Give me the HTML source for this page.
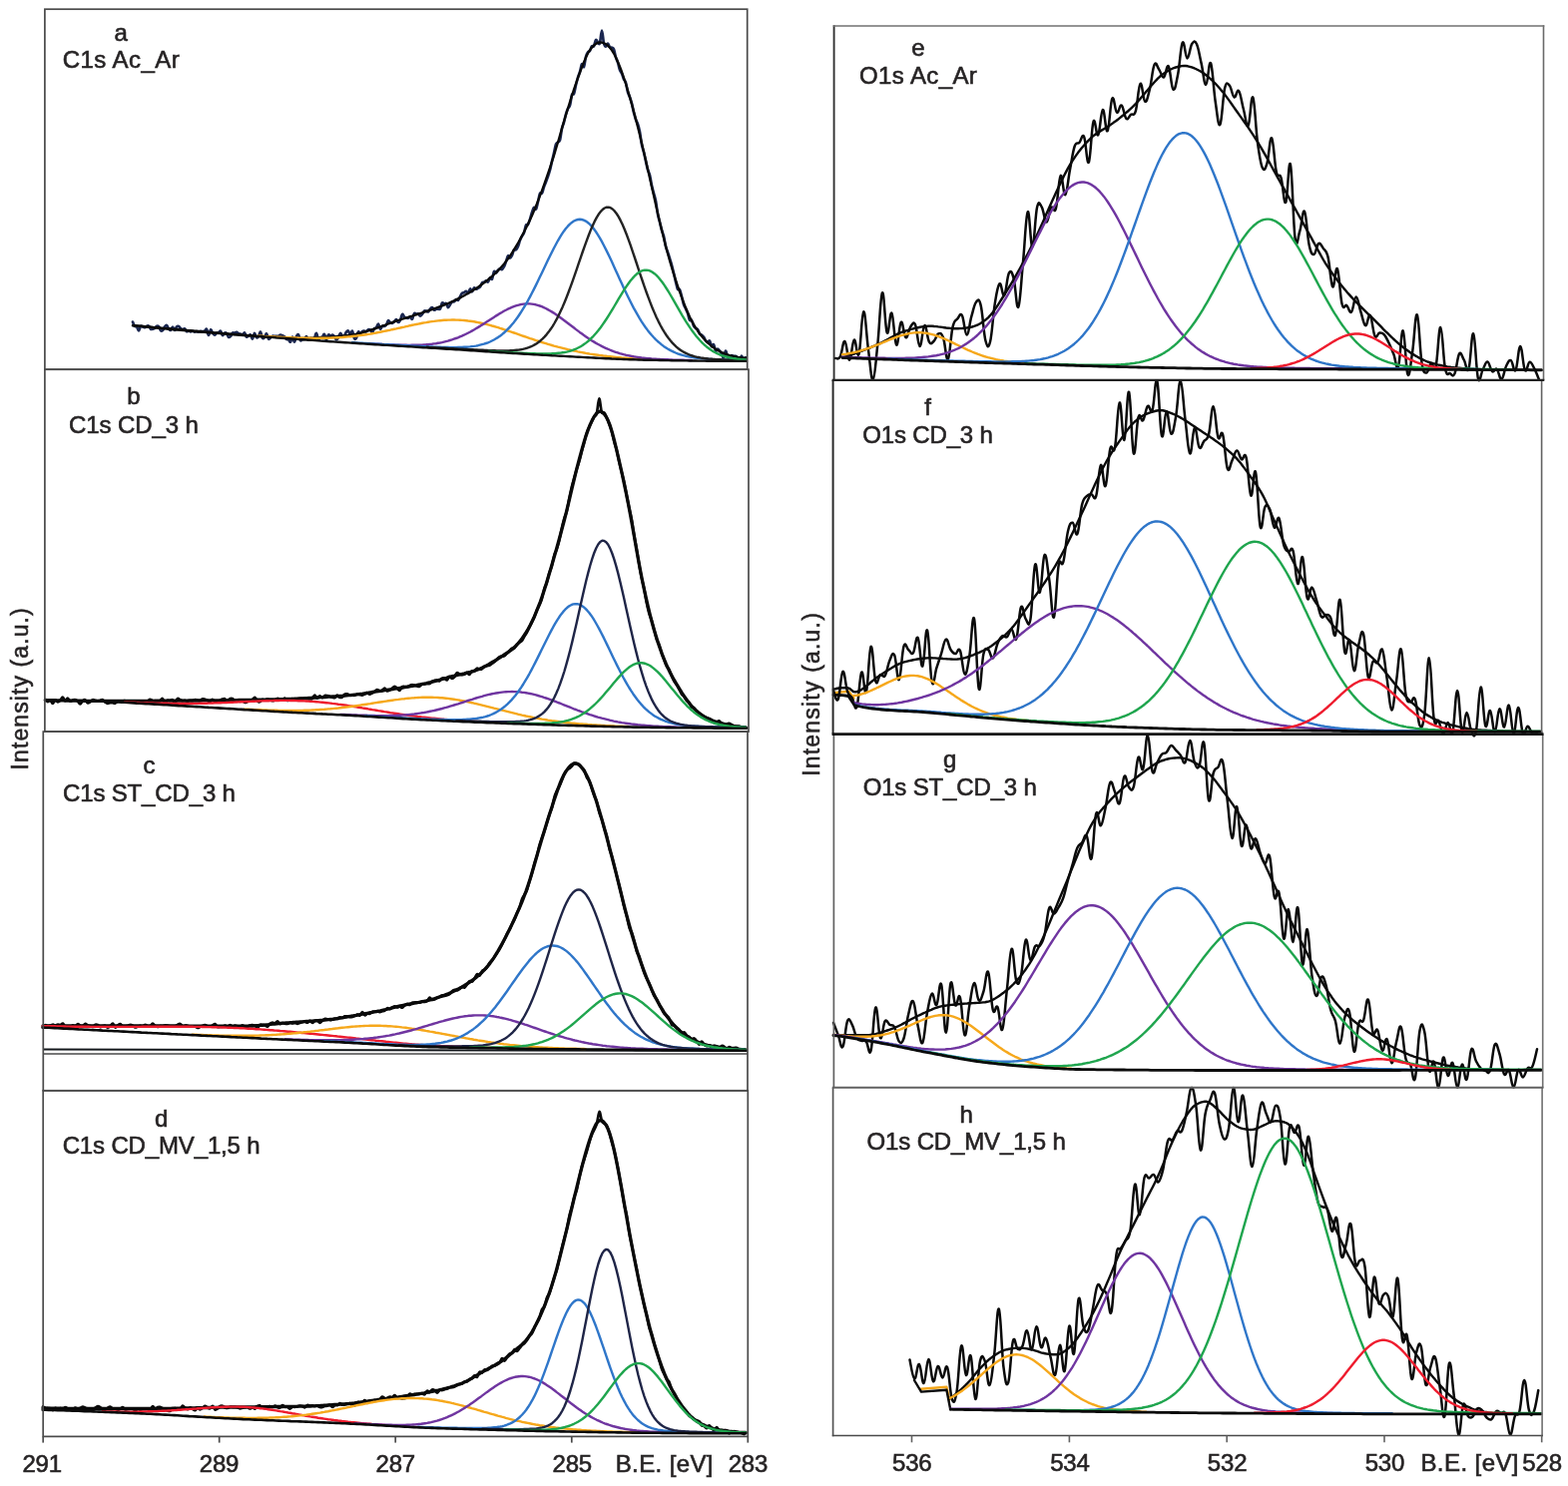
<!DOCTYPE html>
<html lang="en">
<head>
<meta charset="utf-8">
<title>XPS C1s and O1s spectra</title>
<style>
html,body{margin:0;padding:0;background:#fff;}
body{width:1571px;height:1489px;overflow:hidden;}
svg{display:block;font-family:"Liberation Sans",sans-serif;}
</style>
</head>
<body>
<svg width="1571" height="1489" viewBox="0 0 1571 1489" role="img" aria-label="XPS C1s and O1s spectra">
<rect x="0" y="0" width="1571" height="1489" fill="#ffffff"/>
<g>
<path d="M133 322.6C133.3 323.3 134.3 326 135 326.8C135.7 327.6 136.3 326.6 137 327.4C137.7 328.1 138.3 331.5 139 331.4C139.7 331.3 140.3 327.4 141 326.8C141.7 326.1 142.3 327.3 143 327.6C143.7 327.8 144.3 328.4 145 328.2C145.7 328.1 146.3 326.9 147 326.7C147.7 326.4 148.3 326.1 149 326.7C149.7 327.2 150.3 329.3 151 329.8C151.7 330.3 152.3 329.8 153 329.6C153.7 329.5 154.3 329.5 155 329C155.7 328.5 156.3 327.1 157 326.9C157.7 326.6 158.3 326.6 159 327.3C159.7 328 160.3 330.6 161 331.2C161.7 331.8 162.3 331.6 163 331C163.7 330.4 164.3 328.3 165 327.5C165.7 326.6 166.3 325.7 167 326C167.7 326.3 168.3 328.6 169 329.4C169.7 330.2 170.3 331.2 171 330.9C171.7 330.5 172.3 327.5 173 327.5C173.7 327.5 174.3 331 175 331C175.7 331 176.3 328.1 177 327.4C177.7 326.8 178.3 326.8 179 327.1C179.7 327.4 180.3 328.6 181 329.1C181.7 329.6 182.3 330.3 183 330.3C183.7 330.3 184.3 328.9 185 329.3C185.7 329.6 186.3 331.8 187 332.2C187.7 332.5 188.3 331.4 189 331.4C189.7 331.5 190.3 332.3 191 332.4C191.7 332.5 192.3 331.8 193 331.8C193.7 331.8 194.3 332.5 195 332.6C195.7 332.6 196.3 332.1 197 332.1C197.7 332.1 198.3 332.7 199 332.7C199.7 332.6 200.3 332 201 331.9C201.7 331.8 202.3 332.1 203 332.1C203.7 332.1 204.3 332.2 205 331.8C205.7 331.4 206.3 329.1 207 329.8C207.7 330.5 208.3 335.8 209 335.9C209.7 335.9 210.3 330.7 211 330.3C211.7 330 212.3 332.7 213 333.6C213.7 334.5 214.3 335.7 215 335.7C215.7 335.8 216.3 334.2 217 333.8C217.7 333.4 218.3 333.8 219 333.4C219.7 333.1 220.3 331.2 221 331.7C221.7 332.1 222.3 335.7 223 336.1C223.7 336.4 224.3 334.1 225 333.7C225.7 333.3 226.3 333.2 227 333.9C227.7 334.6 228.3 337.3 229 337.8C229.7 338.4 230.3 337.7 231 337C231.7 336.3 232.3 334.2 233 333.6C233.7 333 234.3 333.7 235 333.6C235.7 333.5 236.3 332.8 237 332.9C237.7 333.1 238.3 333.9 239 334.2C239.7 334.5 240.3 334.5 241 334.7C241.7 334.8 242.3 335.6 243 335.4C243.7 335.1 244.3 333 245 333.3C245.7 333.7 246.3 337.1 247 337.6C247.7 338.1 248.3 336.7 249 336.4C249.7 336 250.3 334.9 251 335.4C251.7 336 252.3 339.8 253 339.5C253.7 339.3 254.3 334.1 255 333.9C255.7 333.7 256.3 337.7 257 338.2C257.7 338.7 258.3 337.9 259 336.9C259.7 336 260.3 332.3 261 332.6C261.7 332.9 262.3 337.8 263 338.7C263.7 339.7 264.3 339 265 338.2C265.7 337.5 266.3 334 267 334.2C267.7 334.4 268.3 338.9 269 339.6C269.7 340.3 270.3 338.9 271 338.4C271.7 337.9 272.3 336.9 273 336.7C273.7 336.4 274.3 336.9 275 336.9C275.7 336.9 276.3 336.8 277 336.8C277.7 336.7 278.3 337 279 336.8C279.7 336.5 280.3 335.6 281 335.5C281.7 335.5 282.3 336 283 336.3C283.7 336.6 284.3 336.7 285 337.3C285.7 337.9 286.3 339.5 287 339.9C287.7 340.4 288.3 339.7 289 340.1C289.7 340.5 290.3 343 291 342.6C291.7 342.1 292.3 337.5 293 337.5C293.7 337.5 294.3 342.6 295 342.6C295.7 342.5 296.3 338.4 297 337.2C297.7 336 298.3 334.6 299 335.3C299.7 335.9 300.3 340.3 301 341.1C301.7 341.9 302.3 340.5 303 340.3C303.7 340.1 304.3 340.4 305 339.9C305.7 339.4 306.3 337.1 307 337.2C307.7 337.3 308.3 340.2 309 340.5C309.7 340.8 310.3 339.1 311 339C311.7 338.8 312.3 339.7 313 339.7C313.7 339.7 314.3 340 315 339C315.7 338.1 316.3 333.6 317 333.8C317.7 334 318.3 339.5 319 340.3C319.7 341 320.3 338.5 321 338.1C321.7 337.6 322.3 338.1 323 337.6C323.7 337 324.3 334.4 325 334.9C325.7 335.4 326.3 340.3 327 340.4C327.7 340.5 328.3 336.1 329 335.5C329.7 334.9 330.3 336.7 331 336.8C331.7 336.8 332.3 335.7 333 335.7C333.7 335.8 334.3 336.4 335 337.2C335.7 338 336.3 340.3 337 340.5C337.7 340.7 338.3 339.4 339 338.3C339.7 337.2 340.3 334.2 341 333.9C341.7 333.6 342.3 336.1 343 336.6C343.7 337 344.3 337.2 345 336.6C345.7 335.9 346.3 333.5 347 332.7C347.7 331.8 348.3 331.1 349 331.6C349.7 332.1 350.3 335.8 351 335.8C351.7 335.8 352.3 331 353 331.6C353.7 332.1 354.3 337.9 355 339.1C355.7 340.3 356.3 339.9 357 338.8C357.7 337.7 358.3 333.2 359 332.5C359.7 331.8 360.3 334.8 361 334.7C361.7 334.6 362.3 332.6 363 332.1C363.7 331.6 364.3 331.6 365 331.7C365.7 331.7 366.3 332.6 367 332.3C367.7 332.1 368.3 330.4 369 330.2C369.7 329.9 370.3 330.1 371 330.6C371.7 331.1 372.3 333.5 373 333.3C373.7 333.1 374.3 329.9 375 329.1C375.7 328.3 376.3 329.3 377 328.5C377.7 327.7 378.3 324.3 379 324.5C379.7 324.7 380.3 329.3 381 329.7C381.7 330.1 382.3 327.2 383 326.7C383.7 326.2 384.3 327 385 326.9C385.7 326.7 386.3 326.5 387 325.5C387.7 324.6 388.3 321.6 389 321.2C389.7 320.8 390.3 322.6 391 323.1C391.7 323.5 392.3 324.2 393 324C393.7 323.9 394.3 322.7 395 322.1C395.7 321.5 396.3 320 397 320.2C397.7 320.3 398.3 322.9 399 323C399.7 323.2 400.3 322.3 401 320.9C401.7 319.6 402.3 315.5 403 314.9C403.7 314.3 404.3 316.8 405 317.4C405.7 318 406.3 318.3 407 318.5C407.7 318.8 408.3 319 409 318.8C409.7 318.6 410.3 317.4 411 317.5C411.7 317.7 412.3 320.2 413 319.7C413.7 319.1 414.3 314.9 415 314.1C415.7 313.2 416.3 314.6 417 314.6C417.7 314.7 418.3 314.1 419 314.4C419.7 314.7 420.3 316.6 421 316.6C421.7 316.7 422.3 315.6 423 314.8C423.7 314 424.3 312.3 425 311.7C425.7 311.2 426.3 311.5 427 311.6C427.7 311.7 428.3 312.7 429 312.4C429.7 312.1 430.3 310.4 431 309.7C431.7 309 432.3 308 433 308.2C433.7 308.3 434.3 310.4 435 310.7C435.7 311 436.3 309.9 437 309.7C437.7 309.5 438.3 309.7 439 309.6C439.7 309.6 440.3 310.5 441 309.5C441.7 308.4 442.3 304.3 443 303.5C443.7 302.7 444.3 304.5 445 304.6C445.7 304.7 446.3 303.5 447 304.1C447.7 304.7 448.3 308 449 308.2C449.7 308.4 450.3 306.2 451 305.2C451.7 304.2 452.3 302.9 453 302.4C453.7 301.9 454.3 302.5 455 302.2C455.7 301.8 456.3 300.4 457 300.1C457.7 299.9 458.3 301.3 459 300.8C459.7 300.3 460.3 298.3 461 297.1C461.7 295.9 462.3 294.4 463 293.7C463.7 293.1 464.3 293.5 465 293.2C465.7 292.8 466.3 291.8 467 291.9C467.7 292 468.3 294.2 469 293.8C469.7 293.4 470.3 289.7 471 289.5C471.7 289.2 472.3 292.5 473 292.3C473.7 292.1 474.3 288.9 475 288.4C475.7 288 476.3 289.7 477 289.7C477.7 289.7 478.3 289 479 288.6C479.7 288.2 480.3 288.4 481 287.5C481.7 286.7 482.3 284.2 483 283.4C483.7 282.6 484.3 283.1 485 282.8C485.7 282.4 486.3 281.5 487 281.4C487.7 281.4 488.3 283 489 282.5C489.7 281.9 490.3 278.7 491 278.3C491.7 277.8 492.3 280.7 493 279.7C493.7 278.7 494.3 273.1 495 272C495.7 271 496.3 273.6 497 273.4C497.7 273.1 498.3 271.4 499 270.7C499.7 270 500.3 269.4 501 269.2C501.7 269.1 502.3 270.3 503 270C503.7 269.6 504.3 268.5 505 267.2C505.7 265.9 506.3 263.8 507 262C507.7 260.2 508.3 256.8 509 256.3C509.7 255.7 510.3 258.7 511 258.6C511.7 258.6 512.3 257.3 513 255.9C513.7 254.5 514.3 251.3 515 250.3C515.7 249.4 516.3 250.9 517 250.3C517.7 249.7 518.3 248.5 519 246.9C519.7 245.3 520.3 242.5 521 240.8C521.7 239 522.3 237.7 523 236.5C523.7 235.2 524.3 235.1 525 233.3C525.7 231.5 526.3 227 527 225.6C527.7 224.2 528.3 225.9 529 224.9C529.7 223.9 530.3 221.7 531 219.6C531.7 217.6 532.3 214.7 533 212.7C533.7 210.8 534.3 208.4 535 207.9C535.7 207.4 536.3 210.6 537 209.6C537.7 208.7 538.3 204.8 539 202.2C539.7 199.5 540.3 195.3 541 193.9C541.7 192.5 542.3 194.7 543 193.6C543.7 192.5 544.3 189.1 545 187.2C545.7 185.3 546.3 184.1 547 182.3C547.7 180.6 548.3 178.7 549 176.7C549.7 174.7 550.3 172.9 551 170.4C551.7 167.9 552.3 164.5 553 161.7C553.7 158.8 554.3 156.1 555 153.2C555.7 150.4 556.3 146.2 557 144.4C557.7 142.7 558.3 143.1 559 142.4C559.7 141.8 560.3 142.6 561 140.4C561.7 138.1 562.3 131.7 563 128.7C563.7 125.8 564.3 124.9 565 122.5C565.7 120.1 566.3 116.7 567 114.4C567.7 112.1 568.3 110.2 569 108.8C569.7 107.4 570.3 108 571 105.7C571.7 103.4 572.3 97 573 95C573.7 93 574.3 95.5 575 93.9C575.7 92.2 576.3 88 577 85.2C577.7 82.5 578.3 79.8 579 77.6C579.7 75.4 580.3 74.2 581 72C581.7 69.8 582.3 65 583 64.2C583.7 63.4 584.3 68.2 585 67C585.7 65.8 586.3 59.4 587 56.9C587.7 54.4 588.3 53.2 589 52.2C589.7 51.1 590.3 51.8 591 50.9C591.7 49.9 592.3 47 593 46.3C593.7 45.5 594.3 47.3 595 46.2C595.7 45.2 596.3 40.6 597 40C597.7 39.4 598.3 42 599 42.5C599.7 43.1 600.3 45.2 601 43.2C601.7 41.2 602.3 30.5 603 30.5C603.7 30.5 604.3 40.7 605 43.4C605.7 46 606.3 46.6 607 46.6C607.7 46.6 608.3 43.5 609 43.6C609.7 43.7 610.3 46.6 611 47.3C611.7 48 612.3 47.3 613 47.7C613.7 48 614.3 47.8 615 49.4C615.7 51 616.3 55.2 617 57.4C617.7 59.6 618.3 60.5 619 62.6C619.7 64.7 620.3 68.3 621 70.1C621.7 72 622.3 72.1 623 73.6C623.7 75.2 624.3 77.9 625 79.4C625.7 80.9 626.3 80.6 627 82.8C627.7 84.9 628.3 89.9 629 92.3C629.7 94.7 630.3 95.3 631 97.2C631.7 99.1 632.3 101.1 633 103.7C633.7 106.3 634.3 110.1 635 112.8C635.7 115.4 636.3 117.8 637 119.8C637.7 121.7 638.3 122.3 639 124.3C639.7 126.4 640.3 128.6 641 132C641.7 135.5 642.3 141.7 643 145.1C643.7 148.5 644.3 149.6 645 152.4C645.7 155.1 646.3 158.4 647 161.4C647.7 164.3 648.3 167.7 649 170C649.7 172.4 650.3 172.7 651 175.3C651.7 178 652.3 182.9 653 185.9C653.7 189 654.3 191 655 193.6C655.7 196.2 656.3 197.9 657 201.3C657.7 204.8 658.3 210.9 659 214.4C659.7 218 660.3 219.9 661 222.5C661.7 225.2 662.3 228.1 663 230.5C663.7 232.9 664.3 234 665 236.7C665.7 239.4 666.3 244.1 667 246.8C667.7 249.4 668.3 250.7 669 252.7C669.7 254.8 670.3 256.7 671 258.8C671.7 261 672.3 263.2 673 265.6C673.7 268.1 674.3 270.8 675 273.6C675.7 276.3 676.3 279.6 677 282.3C677.7 285 678.3 288.4 679 289.8C679.7 291.1 680.3 288.9 681 290.1C681.7 291.3 682.3 294.5 683 297C683.7 299.5 684.3 303 685 305.1C685.7 307.1 686.3 307.8 687 309.3C687.7 310.7 688.3 312 689 313.9C689.7 315.8 690.3 319.6 691 320.8C691.7 322 692.3 320 693 321C693.7 321.9 694.3 325.3 695 326.7C695.7 328 696.3 328.5 697 329C697.7 329.6 698.3 329.1 699 330C699.7 330.9 700.3 333.5 701 334.5C701.7 335.4 702.3 335.2 703 335.7C703.7 336.3 704.3 336.7 705 337.7C705.7 338.6 706.3 340.3 707 341.3C707.7 342.2 708.3 343.2 709 343.2C709.7 343.2 710.3 340.8 711 341.4C711.7 342.1 712.3 346.5 713 347.2C713.7 347.8 714.3 344.4 715 345.1C715.7 345.8 716.3 350.8 717 351.5C717.7 352.3 718.3 349.5 719 349.5C719.7 349.5 720.3 350.9 721 351.7C721.7 352.5 722.3 353.3 723 354.5C723.7 355.6 724.3 359.2 725 358.7C725.7 358.2 726.3 351.7 727 351.5C727.7 351.3 728.3 356.4 729 357.7C729.7 359 730.3 359.7 731 359.4C731.7 359.2 732.3 356.7 733 356.2C733.7 355.8 734.3 356.8 735 356.9C735.7 357 736.3 356.6 737 356.8C737.7 357.1 738.3 357.6 739 358.3C739.7 359 740.3 361.4 741 361.1C741.7 360.8 742.3 356.8 743 356.6C743.7 356.5 744.3 360.1 745 360.4C745.7 360.7 746.7 358.6 747 358.3" fill="none" stroke="#1b2750" stroke-width="2.7" stroke-linejoin="round" stroke-linecap="round"/>
<path d="M133 326.1L135 326.2L137 326.4L139 326.6L141 326.8L143 326.9L145 327.1L147 327.3L149 327.5L151 327.7L153 327.9L155 328.1L157 328.2L159 328.4L161 328.6L163 328.8L165 329L167 329.1L169 329.3L171 329.5L173 329.7L175 329.8L177 330L179 330.2L181 330.4L183 330.5L185 330.7L187 330.9L189 331.1L191 331.2L193 331.4L195 331.6L197 331.7L199 331.9L201 332.1L203 332.3L205 332.4L207 332.6L209 332.8L211 332.9L213 333.1L215 333.3L217 333.4L219 333.6L221 333.8L223 334L225 334.1L227 334.3L229 334.5L231 334.6L233 334.8L235 335L237 335.1L239 335.3L241 335.4L243 335.6L245 335.8L247 335.9L249 336.1L251 336.2L253 336.4L255 336.5L257 336.7L259 336.8L261 336.9L263 337.1L265 337.2L267 337.3L269 337.4L271 337.6L273 337.7L275 337.8L277 338L279 338.1L281 338.2L283 338.3L285 338.5L287 338.6L289 338.7L291 338.8L293 338.8L295 338.9L297 339L299 339L301 339L303 339L305 338.9L307 338.9L309 338.8L311 338.7L313 338.6L315 338.5L317 338.4L319 338.3L321 338.2L323 338.1L325 338L327 337.9L329 337.8L331 337.6L333 337.5L335 337.4L337 337.2L339 337L341 336.9L343 336.7L345 336.5L347 336.2L349 336L351 335.7L353 335.4L355 335.1L357 334.7L359 334.2L361 333.8L363 333.3L365 332.7L367 332.1L369 331.5L371 330.9L373 330.2L375 329.6L377 328.9L379 328.2L381 327.5L383 326.7L385 326L387 325.3L389 324.5L391 323.8L393 323.1L395 322.4L397 321.7L399 321L401 320.4L403 319.7L405 319.1L407 318.5L409 317.8L411 317.2L413 316.6L415 315.9L417 315.3L419 314.7L421 314L423 313.4L425 312.7L427 312.1L429 311.4L431 310.7L433 310.1L435 309.3L437 308.6L439 307.9L441 307.2L443 306.4L445 305.6L447 304.8L449 304L451 303.1L453 302.2L455 301.3L457 300.4L459 299.4L461 298.4L463 297.3L465 296.2L467 295.1L469 294L471 292.8L473 291.5L475 290.3L477 289L479 287.6L481 286.2L483 284.8L485 283.3L487 281.8L489 280.2L491 278.5L493 276.8L495 275L497 273.1L499 271.1L501 269L503 266.8L505 264.5L507 261.9L509 259.2L511 256.4L513 253.4L515 250.2L517 246.9L519 243.5L521 240L523 236.3L525 232.5L527 228.6L529 224.6L531 220.3L533 215.9L535 211.3L537 206.4L539 201.4L541 196.2L543 190.8L545 185.3L547 179.7L549 174L551 168.1L553 162L555 155.8L557 149.2L559 142.5L561 135.6L563 128.6L565 121.8L567 115.1L569 108.5L571 102.1L573 95.8L575 89.7L577 83.9L579 78.2L581 72.7L583 67.3L585 62.2L587 57.6L589 53.5L591 50.2L593 47.5L595 45.5L597 43.9L599 42.9L601 42.5L603 42.6L605 43.2L607 44.2L609 45.7L611 47.7L613 50.3L615 53.6L617 57.5L619 61.9L621 66.7L623 72L625 77.8L627 84L629 90.6L631 97.4L633 104.4L635 111.8L637 119.4L639 127.2L641 135.3L643 143.5L645 152L647 160.6L649 169.5L651 178.4L653 187.3L655 196.1L657 204.9L659 213.6L661 222.2L663 230.6L665 238.8L667 246.6L669 254L671 261.1L673 267.9L675 274.4L677 280.7L679 286.7L681 292.4L683 297.9L685 303.2L687 308.3L689 313L691 317.4L693 321.5L695 325.1L697 328.4L699 331.5L701 334.3L703 336.8L705 339.2L707 341.3L709 343.3L711 345.1L713 346.8L715 348.3L717 349.7L719 350.9L721 352L723 353L725 353.9L727 354.7L729 355.4L731 356L733 356.5L735 357L737 357.4L739 357.8L741 358.1L743 358.4L745 358.6L747 358.7L747.2 358.7" fill="none" stroke="#0a0a0a" stroke-width="2.3" stroke-linejoin="round" stroke-linecap="round"/>
<path d="M259 336.6L261 336.7L263 336.8L265 337L267 337.1L269 337.2L271 337.3L273 337.4L275 337.5L277 337.6L279 337.7L281 337.8L283 337.9L285 338L287 338.1L289 338.2L291 338.3L293 338.4L295 338.4L297 338.5L299 338.6L301 338.6L303 338.7L305 338.7L307 338.8L309 338.8L311 338.8L313 338.9L315 338.9L317 338.9L319 338.9L321 338.8L323 338.8L325 338.8L327 338.7L329 338.7L331 338.6L333 338.5L335 338.4L337 338.3L339 338.2L341 338.1L343 338L345 337.8L347 337.6L349 337.4L351 337.3L353 337L355 336.8L357 336.6L359 336.3L361 336.1L363 335.8L365 335.5L367 335.2L369 334.9L371 334.6L373 334.2L375 333.9L377 333.5L379 333.1L381 332.7L383 332.3L385 331.9L387 331.5L389 331.1L391 330.7L393 330.2L395 329.8L397 329.4L399 328.9L401 328.5L403 328L405 327.6L407 327.1L409 326.7L411 326.2L413 325.8L415 325.4L417 325L419 324.6L421 324.2L423 323.8L425 323.4L427 323.1L429 322.7L431 322.4L433 322.1L435 321.9L437 321.6L439 321.4L441 321.2L443 321L445 320.8L447 320.7L449 320.6L451 320.6L453 320.5L455 320.5L457 320.6L459 320.6L461 320.7L463 320.9L465 321L467 321.2L469 321.5L471 321.7L473 322L475 322.3L477 322.7L479 323.1L481 323.5L483 323.9L485 324.4L487 324.9L489 325.4L491 325.9L493 326.5L495 327L497 327.6L499 328.2L501 328.9L503 329.5L505 330.2L507 330.8L509 331.5L511 332.2L513 332.8L515 333.5L517 334.2L519 334.9L521 335.6L523 336.3L525 337L527 337.7L529 338.4L531 339.1L533 339.7L535 340.4L537 341.1L539 341.7L541 342.4L543 343L545 343.6L547 344.2L549 344.8L551 345.4L553 346L555 346.6L557 347.1L559 347.7L561 348.2L563 348.7L565 349.2L567 349.7L569 350.2L571 350.6L573 351.1L575 351.5L577 351.9L579 352.4L581 352.8L583 353.1L585 353.5L587 353.9L589 354.2L591 354.6L593 354.9L595 355.2L597 355.5L599 355.8L601 356.1L603 356.3L605 356.6L607 356.8L609 357.1L611 357.3L613 357.5L615 357.7L617 357.9L619 358.1L621 358.3L623 358.5L625 358.6L627 358.8L629 359L631 359.1L633 359.2L635 359.4L637 359.5L639 359.6L641 359.7L643 359.8L645 359.9L647 360L649 360.1L651 360.2L653 360.2L655 360.3L657 360.4L659 360.4L661 360.5L663 360.5L665 360.6" fill="none" stroke="#f6a81c" stroke-width="2.4" stroke-linejoin="round" stroke-linecap="round"/>
<path d="M368.8 344.3L370.8 344.4L372.8 344.5L374.8 344.6L376.8 344.7L378.8 344.8L380.8 344.9L382.8 345L384.8 345.1L386.8 345.2L388.8 345.3L390.8 345.4L392.8 345.5L394.8 345.5L396.8 345.6L398.8 345.7L400.8 345.7L402.8 345.8L404.8 345.8L406.8 345.8L408.8 345.9L410.8 345.9L412.8 345.8L414.8 345.8L416.8 345.8L418.8 345.7L420.8 345.7L422.8 345.6L424.8 345.4L426.8 345.3L428.8 345.1L430.8 344.9L432.8 344.7L434.8 344.4L436.8 344.2L438.8 343.8L440.8 343.5L442.8 343.1L444.8 342.6L446.8 342.1L448.8 341.6L450.8 341L452.8 340.4L454.8 339.7L456.8 339L458.8 338.3L460.8 337.4L462.8 336.6L464.8 335.7L466.8 334.7L468.8 333.7L470.8 332.7L472.8 331.6L474.8 330.5L476.8 329.3L478.8 328.1L480.8 326.9L482.8 325.6L484.8 324.4L486.8 323.1L488.8 321.8L490.8 320.5L492.8 319.2L494.8 317.9L496.8 316.6L498.8 315.4L500.8 314.1L502.8 313L504.8 311.8L506.8 310.8L508.8 309.7L510.8 308.8L512.8 307.9L514.8 307.1L516.8 306.4L518.8 305.8L520.8 305.3L522.8 304.9L524.8 304.6L526.8 304.4L528.8 304.4L530.8 304.4L532.8 304.6L534.8 304.9L536.8 305.3L538.8 305.9L540.8 306.5L542.8 307.2L544.8 308.1L546.8 309L548.8 310.1L550.8 311.2L552.8 312.4L554.8 313.6L556.8 314.9L558.8 316.3L560.8 317.7L562.8 319.2L564.8 320.7L566.8 322.2L568.8 323.7L570.8 325.3L572.8 326.8L574.8 328.3L576.8 329.9L578.8 331.4L580.8 332.9L582.8 334.3L584.8 335.8L586.8 337.2L588.8 338.6L590.8 339.9L592.8 341.2L594.8 342.4L596.8 343.6L598.8 344.7L600.8 345.8L602.8 346.9L604.8 347.9L606.8 348.8L608.8 349.7L610.8 350.5L612.8 351.3L614.8 352.1L616.8 352.8L618.8 353.4L620.8 354.1L622.8 354.6L624.8 355.2L626.8 355.7L628.8 356.1L630.8 356.5L632.8 356.9L634.8 357.3L636.8 357.6L638.8 357.9L640.8 358.2L642.8 358.5L644.8 358.7L646.8 358.9L648.8 359.1L650.8 359.3L652.8 359.5L654.8 359.6L656.8 359.7L658.8 359.9L660.8 360L662.8 360.1L664.8 360.2L666.8 360.3L668.8 360.3L670.8 360.4L672.8 360.5L674.8 360.6L676.8 360.6L678.8 360.7L680.8 360.7L682.8 360.8L684.8 360.8L686.8 360.9L688.8 360.9L690.8 361L692.8 361" fill="none" stroke="#6f35a0" stroke-width="2.4" stroke-linejoin="round" stroke-linecap="round"/>
<path d="M352.9 343.2L354.9 343.3L356.9 343.4L358.9 343.6L360.9 343.7L362.9 343.8L364.9 343.9L366.9 344L368.9 344.1L370.9 344.3L372.9 344.4L374.9 344.5L376.9 344.6L378.9 344.7L380.9 344.8L382.9 345L384.9 345.1L386.9 345.2L388.9 345.3L390.9 345.4L392.9 345.5L394.9 345.6L396.9 345.7L398.9 345.8L400.9 345.9L402.9 346.1L404.9 346.2L406.9 346.3L408.9 346.4L410.9 346.5L412.9 346.6L414.9 346.7L416.9 346.8L418.9 346.9L420.9 347L422.9 347.1L424.9 347.2L426.9 347.3L428.9 347.3L430.9 347.4L432.9 347.5L434.9 347.6L436.9 347.7L438.9 347.7L440.9 347.8L442.9 347.9L444.9 347.9L446.9 348L448.9 348L450.9 348.1L452.9 348.1L454.9 348.1L456.9 348.1L458.9 348L460.9 348L462.9 347.9L464.9 347.8L466.9 347.7L468.9 347.6L470.9 347.4L472.9 347.1L474.9 346.9L476.9 346.6L478.9 346.2L480.9 345.7L482.9 345.2L484.9 344.7L486.9 344L488.9 343.3L490.9 342.5L492.9 341.5L494.9 340.5L496.9 339.3L498.9 338.1L500.9 336.7L502.9 335.2L504.9 333.5L506.9 331.7L508.9 329.7L510.9 327.6L512.9 325.3L514.9 322.9L516.9 320.2L518.9 317.5L520.9 314.5L522.9 311.4L524.9 308.2L526.9 304.8L528.9 301.3L530.9 297.6L532.9 293.8L534.9 289.9L536.9 285.9L538.9 281.8L540.9 277.6L542.9 273.4L544.9 269.2L546.9 265L548.9 260.8L550.9 256.7L552.9 252.7L554.9 248.7L556.9 245L558.9 241.3L560.9 237.9L562.9 234.7L564.9 231.7L566.9 229L568.9 226.7L570.9 224.6L572.9 222.9L574.9 221.5L576.9 220.6L578.9 220L580.9 219.8L582.9 220L584.9 220.6L586.9 221.6L588.9 223L590.9 224.7L592.9 226.8L594.9 229.3L596.9 232L598.9 235.1L600.9 238.4L602.9 241.9L604.9 245.7L606.9 249.6L608.9 253.6L610.9 257.8L612.9 262.1L614.9 266.5L616.9 270.9L618.9 275.3L620.9 279.7L622.9 284.1L624.9 288.4L626.9 292.6L628.9 296.8L630.9 300.8L632.9 304.8L634.9 308.6L636.9 312.2L638.9 315.7L640.9 319.1L642.9 322.3L644.9 325.3L646.9 328.2L648.9 330.9L650.9 333.4L652.9 335.8L654.9 338L656.9 340.1L658.9 342L660.9 343.7L662.9 345.4L664.9 346.9L666.9 348.2L668.9 349.5L670.9 350.6L672.9 351.7L674.9 352.6L676.9 353.5L678.9 354.3L680.9 355L682.9 355.6L684.9 356.2L686.9 356.7L688.9 357.1L690.9 357.5L692.9 357.9L694.9 358.2L696.9 358.5L698.9 358.8L700.9 359L702.9 359.2L704.9 359.4L706.9 359.6L708.9 359.7L710.9 359.9L712.9 360L714.9 360.1L716.9 360.2L718.9 360.3L720.9 360.4L722.9 360.4L724.9 360.5L726.9 360.6L728.9 360.6L730.9 360.7L732.9 360.7L734.9 360.8L736.9 360.8L738.9 360.8L740.9 360.9L742.9 360.9L744.9 360.9L746.9 360.9" fill="none" stroke="#2f76c9" stroke-width="2.4" stroke-linejoin="round" stroke-linecap="round"/>
<path d="M427.7 347.8L429.7 348L431.7 348.1L433.7 348.2L435.7 348.3L437.7 348.4L439.7 348.5L441.7 348.6L443.7 348.7L445.7 348.8L447.7 348.9L449.7 349.1L451.7 349.2L453.7 349.3L455.7 349.4L457.7 349.5L459.7 349.6L461.7 349.7L463.7 349.8L465.7 349.9L467.7 350L469.7 350.1L471.7 350.2L473.7 350.3L475.7 350.4L477.7 350.5L479.7 350.6L481.7 350.7L483.7 350.8L485.7 350.9L487.7 351L489.7 351.1L491.7 351.2L493.7 351.2L495.7 351.3L497.7 351.4L499.7 351.4L501.7 351.4L503.7 351.4L505.7 351.4L507.7 351.4L509.7 351.4L511.7 351.3L513.7 351.2L515.7 351L517.7 350.8L519.7 350.6L521.7 350.3L523.7 349.9L525.7 349.4L527.7 348.8L529.7 348.2L531.7 347.4L533.7 346.5L535.7 345.4L537.7 344.2L539.7 342.8L541.7 341.2L543.7 339.4L545.7 337.4L547.7 335.1L549.7 332.6L551.7 329.8L553.7 326.8L555.7 323.5L557.7 319.9L559.7 316L561.7 311.8L563.7 307.4L565.7 302.7L567.7 297.7L569.7 292.5L571.7 287.1L573.7 281.6L575.7 275.9L577.7 270.1L579.7 264.2L581.7 258.4L583.7 252.5L585.7 246.8L587.7 241.3L589.7 236L591.7 230.9L593.7 226.2L595.7 221.9L597.7 218.1L599.7 214.8L601.7 212.1L603.7 210L605.7 208.5L607.7 207.7L609.7 207.6L611.7 208.2L613.7 209.5L615.7 211.4L617.7 214L619.7 217.1L621.7 220.9L623.7 225.1L625.7 229.7L627.7 234.8L629.7 240.1L631.7 245.7L633.7 251.6L635.7 257.5L637.7 263.5L639.7 269.6L641.7 275.6L643.7 281.5L645.7 287.3L647.7 293L649.7 298.4L651.7 303.7L653.7 308.7L655.7 313.4L657.7 317.9L659.7 322.1L661.7 326L663.7 329.6L665.7 332.9L667.7 336L669.7 338.8L671.7 341.3L673.7 343.6L675.7 345.7L677.7 347.6L679.7 349.2L681.7 350.7L683.7 352L685.7 353.1L687.7 354.1L689.7 355L691.7 355.8L693.7 356.5L695.7 357.1L697.7 357.6L699.7 358L701.7 358.4L703.7 358.7L705.7 359L707.7 359.2L709.7 359.5L711.7 359.6L713.7 359.8L715.7 359.9L717.7 360.1L719.7 360.2L721.7 360.3L723.7 360.4L725.7 360.4L727.7 360.5L729.7 360.6L731.7 360.6L733.7 360.7L735.7 360.7L737.7 360.8L739.7 360.8L741.7 360.9L743.7 360.9L745.7 360.9L747.7 361" fill="none" stroke="#232323" stroke-width="2.4" stroke-linejoin="round" stroke-linecap="round"/>
<path d="M489.7 351.9L491.7 352L493.7 352.2L495.7 352.3L497.7 352.4L499.7 352.5L501.7 352.6L503.7 352.7L505.7 352.9L507.7 353L509.7 353.1L511.7 353.2L513.7 353.3L515.7 353.4L517.7 353.5L519.7 353.6L521.7 353.7L523.7 353.8L525.7 353.9L527.7 354L529.7 354.1L531.7 354.2L533.7 354.2L535.7 354.3L537.7 354.4L539.7 354.4L541.7 354.4L543.7 354.5L545.7 354.5L547.7 354.5L549.7 354.4L551.7 354.4L553.7 354.3L555.7 354.2L557.7 354L559.7 353.8L561.7 353.6L563.7 353.3L565.7 353L567.7 352.6L569.7 352.1L571.7 351.5L573.7 350.9L575.7 350.1L577.7 349.3L579.7 348.3L581.7 347.2L583.7 346L585.7 344.6L587.7 343.1L589.7 341.5L591.7 339.7L593.7 337.7L595.7 335.5L597.7 333.2L599.7 330.8L601.7 328.2L603.7 325.4L605.7 322.5L607.7 319.5L609.7 316.3L611.7 313.1L613.7 309.8L615.7 306.5L617.7 303.1L619.7 299.7L621.7 296.4L623.7 293.1L625.7 289.9L627.7 286.9L629.7 284L631.7 281.3L633.7 278.9L635.7 276.7L637.7 274.8L639.7 273.2L641.7 272L643.7 271.2L645.7 270.7L647.7 270.6L649.7 270.9L651.7 271.6L653.7 272.7L655.7 274.2L657.7 275.9L659.7 278L661.7 280.4L663.7 283L665.7 285.9L667.7 289L669.7 292.2L671.7 295.5L673.7 298.9L675.7 302.4L677.7 305.9L679.7 309.4L681.7 312.8L683.7 316.3L685.7 319.6L687.7 322.8L689.7 325.9L691.7 328.9L693.7 331.7L695.7 334.4L697.7 337L699.7 339.3L701.7 341.5L703.7 343.6L705.7 345.5L707.7 347.2L709.7 348.8L711.7 350.3L713.7 351.6L715.7 352.7L717.7 353.8L719.7 354.7L721.7 355.6L723.7 356.3L725.7 357L727.7 357.5L729.7 358L731.7 358.5L733.7 358.9L735.7 359.2L737.7 359.5L739.7 359.7L741.7 360L743.7 360.1L745.7 360.3L747.7 360.4" fill="none" stroke="#1fa54e" stroke-width="2.4" stroke-linejoin="round" stroke-linecap="round"/>
<path d="M133 326.2L136 326.4L139 326.6L142 326.9L145 327.3L148 327.6L151 327.9L154 328.2L157 328.5L160 328.8L163 329.1L166 329.4L169 329.7L172 330L175 330.2L178 330.5L181 330.8L184 331.1L187 331.4L190 331.6L193 331.9L196 332.2L199 332.4L202 332.7L205 332.9L208 333.2L211 333.4L214 333.7L217 333.9L220 334.1L223 334.4L226 334.6L229 334.8L232 335.1L235 335.3L238 335.5L241 335.7L244 336L247 336.2L250 336.4L253 336.6L256 336.9L259 337.1L262 337.3L265 337.5L268 337.7L271 337.9L274 338.1L277 338.4L280 338.6L283 338.8L286 339L289 339.2L292 339.4L295 339.6L298 339.9L301 340.1L304 340.3L307 340.5L310 340.7L313 340.9L316 341.1L319 341.4L322 341.6L325 341.8L328 342L331 342.2L334 342.4L337 342.6L340 342.8L343 343L346 343.2L349 343.4L352 343.6L355 343.8L358 344L361 344.2L364 344.4L367 344.6L370 344.8L373 345L376 345.2L379 345.4L382 345.6L385 345.8L388 345.9L391 346.1L394 346.3L397 346.5L400 346.7L403 346.9L406 347.1L409 347.2L412 347.4L415 347.6L418 347.8L421 348L424 348.2L427 348.4L430 348.5L433 348.7L436 348.9L439 349.1L442 349.3L445 349.5L448 349.7L451 349.9L454 350L457 350.2L460 350.4L463 350.6L466 350.8L469 351L472 351.2L475 351.4L478 351.6L481 351.8L484 352L487 352.2L490 352.4L493 352.6L496 352.8L499 353L502 353.2L505 353.4L508 353.6L511 353.8L514 354L517 354.1L520 354.3L523 354.5L526 354.7L529 354.9L532 355.1L535 355.3L538 355.4L541 355.6L544 355.8L547 355.9L550 356.1L553 356.3L556 356.4L559 356.6L562 356.7L565 356.9L568 357.1L571 357.2L574 357.4L577 357.6L580 357.7L583 357.9L586 358.1L589 358.2L592 358.4L595 358.5L598 358.7L601 358.9L604 359L607 359.2L610 359.3L613 359.5L616 359.6L619 359.7L622 359.9L625 360L628 360.1L631 360.2L634 360.3L637 360.4L640 360.5L643 360.6L646 360.7L649 360.8L652 360.8L655 360.9L658 360.9L661 361L664 361L667 361.1L670 361.1L673 361.2L676 361.2L679 361.3L682 361.3L685 361.4L688 361.4L691 361.5L694 361.5L697 361.5L700 361.6L703 361.6L706 361.6L709 361.7L712 361.7L715 361.7L718 361.8L721 361.8L724 361.8L727 361.8L730 361.8L733 361.9L736 361.9L739 361.9L742 361.9L745 361.9L748 361.9L748 361.9" fill="none" stroke="#0a0a0a" stroke-width="2.4" stroke-linejoin="round" stroke-linecap="round"/>
<path d="M45.3 701.5L47.3 701.6L49.3 701.6L51.3 701.6L53.3 701.7L55.3 701.7L57.3 701.8L59.3 701.8L61.3 701.9L63.3 701.9L65.3 702L67.3 702L69.3 702L71.3 702.1L73.3 702.1L75.3 702.1L77.3 702.2L79.3 702.2L81.3 702.2L83.3 702.3L85.3 702.3L87.3 702.3L89.3 702.3L91.3 702.4L93.3 702.4L95.3 702.4L97.3 702.4L99.3 702.4L101.3 702.4L103.3 702.4L105.3 702.4L107.3 702.4L109.3 702.4L111.3 702.4L113.3 702.4L115.3 702.4L117.3 702.4L119.3 702.4L121.3 702.4L123.3 702.4L125.3 702.4L127.3 702.4L129.3 702.4L131.3 702.3L133.3 702.3L135.3 702.3L137.3 702.3L139.3 702.3L141.3 702.3L143.3 702.3L145.3 702.3L147.3 702.3L149.3 702.3L151.3 702.3L153.3 702.3L155.3 702.2L157.3 702.2L159.3 702.2L161.3 702.2L163.3 702.2L165.3 702.2L167.3 702.2L169.3 702.2L171.3 702.2L173.3 702.1L175.3 702.1L177.3 702.1L179.3 702.1L181.3 702.1L183.3 702.1L185.3 702.1L187.3 702.1L189.3 702L191.3 702L193.3 702L195.3 702L197.3 702L199.3 702L201.3 702L203.3 701.9L205.3 701.9L207.3 701.9L209.3 701.9L211.3 701.9L213.3 701.9L215.3 701.8L217.3 701.8L219.3 701.8L221.3 701.8L223.3 701.8L225.3 701.7L227.3 701.7L229.3 701.7L231.3 701.7L233.3 701.6L235.3 701.6L237.3 701.6L239.3 701.5L241.3 701.5L243.3 701.5L245.3 701.5L247.3 701.4L249.3 701.4L251.3 701.3L253.3 701.3L255.3 701.3L257.3 701.2L259.3 701.2L261.3 701.2L263.3 701.1L265.3 701.1L267.3 701L269.3 701L271.3 700.9L273.3 700.9L275.3 700.8L277.3 700.8L279.3 700.7L281.3 700.7L283.3 700.6L285.3 700.6L287.3 700.5L289.3 700.4L291.3 700.4L293.3 700.3L295.3 700.2L297.3 700.1L299.3 700L301.3 699.9L303.3 699.8L305.3 699.7L307.3 699.6L309.3 699.5L311.3 699.4L313.3 699.2L315.3 699.1L317.3 699L319.3 698.9L321.3 698.7L323.3 698.6L325.3 698.5L327.3 698.3L329.3 698.2L331.3 698.1L333.3 697.9L335.3 697.8L337.3 697.7L339.3 697.5L341.3 697.4L343.3 697.3L345.3 697.1L347.3 696.9L349.3 696.7L351.3 696.6L353.3 696.3L355.3 696.1L357.3 695.9L359.3 695.6L361.3 695.3L363.3 695.1L365.3 694.8L367.3 694.5L369.3 694.2L371.3 693.8L373.3 693.5L375.3 693.2L377.3 692.9L379.3 692.6L381.3 692.3L383.3 692L385.3 691.7L387.3 691.4L389.3 691.1L391.3 690.8L393.3 690.5L395.3 690.2L397.3 689.9L399.3 689.6L401.3 689.3L403.3 689L405.3 688.7L407.3 688.3L409.3 688L411.3 687.7L413.3 687.3L415.3 686.9L417.3 686.6L419.3 686.2L421.3 685.8L423.3 685.4L425.3 685L427.3 684.6L429.3 684.1L431.3 683.7L433.3 683.2L435.3 682.7L437.3 682.1L439.3 681.6L441.3 681L443.3 680.4L445.3 679.8L447.3 679.3L449.3 678.7L451.3 678.2L453.3 677.6L455.3 677.2L457.3 676.7L459.3 676.2L461.3 675.8L463.3 675.3L465.3 674.9L467.3 674.4L469.3 673.9L471.3 673.4L473.3 672.8L475.3 672.2L477.3 671.5L479.3 670.8L481.3 669.9L483.3 669L485.3 668L487.3 667L489.3 665.9L491.3 664.7L493.3 663.5L495.3 662.3L497.3 661.1L499.3 659.8L501.3 658.5L503.3 657.3L505.3 656L507.3 654.7L509.3 653.4L511.3 652L513.3 650.4L515.3 648.6L517.3 646.7L519.3 644.5L521.3 642L523.3 639.4L525.3 636.5L527.3 633.4L529.3 630L531.3 626.3L533.3 622.2L535.3 617.9L537.3 613.2L539.3 608.2L541.3 603L543.3 597.3L545.3 591.3L547.3 584.9L549.3 578.3L551.3 571.6L553.3 564.7L555.3 557.8L557.3 550.9L559.3 543.8L561.3 536.5L563.3 529.1L565.3 521.5L567.3 513.6L569.3 505.4L571.3 496.9L573.3 488.4L575.3 480L577.3 471.9L579.3 464.1L581.3 456.6L583.3 449.4L585.3 442.5L587.3 436.1L589.3 430.4L591.3 425.4L593.3 421.1L595.3 417.5L597.3 414.6L599.3 412.8L601.3 412.2L603.3 412.9L605.3 414.8L607.3 417.6L609.3 421.5L611.3 426.7L613.3 433.2L615.3 440.7L617.3 448.9L619.3 457.3L621.3 466L623.3 475L625.3 484.3L627.3 493.9L629.3 503.9L631.3 514.4L633.3 525.4L635.3 536.7L637.3 548.2L639.3 559.5L641.3 570.3L643.3 580.5L645.3 590.1L647.3 599.2L649.3 607.9L651.3 616.1L653.3 623.8L655.3 631L657.3 637.6L659.3 643.9L661.3 649.8L663.3 655.3L665.3 660.4L667.3 665.2L669.3 669.6L671.3 673.7L673.3 677.5L675.3 681.2L677.3 684.6L679.3 687.9L681.3 691.1L683.3 694.3L685.3 697.3L687.3 700.2L689.3 703L691.3 705.5L693.3 707.8L695.3 709.9L697.3 711.8L699.3 713.5L701.3 715.1L703.3 716.6L705.3 717.9L707.3 719L709.3 720L711.3 720.9L713.3 721.8L715.3 722.5L717.3 723.2L719.3 723.8L721.3 724.3L723.3 724.8L725.3 725.4L727.3 725.8L729.3 726.3L731.3 726.7L733.3 727.1L735.3 727.5L737.3 727.9L739.3 728.2L741.3 728.4L743.3 728.6L745.3 728.7L747.2 728.8L747.2 728.8" fill="none" stroke="#0a0a0a" stroke-width="3.3" stroke-linejoin="round" stroke-linecap="round"/>
<path d="M45.3 701.1C45.7 701.4 47 703 47.8 703.1C48.6 703.1 49.5 701.1 50.3 701.4C51.1 701.8 52 705 52.8 705C53.6 705 54.5 701.7 55.3 701.5C56.1 701.2 57 703.3 57.8 703.3C58.6 703.4 59.5 702.6 60.3 701.8C61.1 701 62 698.4 62.8 698.5C63.6 698.6 64.5 702.1 65.3 702.2C66.1 702.4 67 699.5 67.8 699.6C68.6 699.7 69.5 702.3 70.3 702.7C71.1 703 72 701.9 72.8 701.6C73.6 701.4 74.5 700.9 75.3 701.1C76.1 701.2 77 701.9 77.8 702.6C78.6 703.4 79.5 705.6 80.3 705.5C81.1 705.4 82 703 82.8 702.3C83.6 701.6 84.5 700.9 85.3 701.3C86.1 701.6 87 704 87.8 704.3C88.6 704.7 89.5 703.9 90.3 703.4C91.1 702.8 92 701.4 92.8 701.2C93.6 700.9 94.5 701.7 95.3 701.9C96.1 702.1 97 702.3 97.8 702.3C98.6 702.2 99.5 701.9 100.3 701.8C101.1 701.6 102 700.9 102.8 701.2C103.6 701.5 104.5 703 105.3 703.6C106.1 704.1 107 704.7 107.8 704.8C108.6 704.9 109.5 704.2 110.3 704.1C111.1 704 112 704.1 112.8 704.2C113.6 704.3 114.5 705 115.3 704.8C116.1 704.6 117 703.3 117.8 703C118.6 702.7 119.5 703 120.3 702.9C121.1 702.8 122 702.5 122.8 702.4C123.6 702.3 124.5 702.1 125.3 702.2C126.1 702.2 127 702.7 127.8 702.7C128.6 702.8 129.5 702.7 130.3 702.6C131.1 702.5 132 702.1 132.8 702.3C133.6 702.4 134.5 703.2 135.3 703.3C136.1 703.5 137 703.2 137.8 703C138.6 702.9 139.5 702.3 140.3 702.3C141.1 702.3 142 702.9 142.8 703C143.6 703.1 144.5 703 145.3 702.9C146.1 702.8 147 702.7 147.8 702.4C148.6 702.1 149.5 701 150.3 700.9C151.1 700.9 152 701.6 152.8 701.9C153.6 702.3 154.5 702.7 155.3 703C156.1 703.3 157 703.6 157.8 703.5C158.6 703.4 159.5 702.9 160.3 702.3C161.1 701.7 162 699.6 162.8 700C163.6 700.3 164.5 704.3 165.3 704.6C166.1 704.9 167 702.1 167.8 701.6C168.6 701.2 169.5 702 170.3 701.9C171.1 701.9 172 700.8 172.8 701.3C173.6 701.7 174.5 704.7 175.3 704.5C176.1 704.3 177 700.6 177.8 700C178.6 699.4 179.5 700.7 180.3 701.1C181.1 701.5 182 702 182.8 702.1C183.6 702.3 184.5 701.8 185.3 701.9C186.1 702 187 702.8 187.8 702.8C188.6 702.8 189.5 702.1 190.3 702C191.1 701.9 192 702.3 192.8 702.2C193.6 702 194.5 701.1 195.3 701.1C196.1 701 197 701.5 197.8 701.6C198.6 701.8 199.5 702.2 200.3 702C201.1 701.8 202 700.7 202.8 700.4C203.6 700.2 204.5 700.5 205.3 700.7C206.1 700.9 207 701.2 207.8 701.7C208.6 702.1 209.5 703.6 210.3 703.4C211.1 703.3 212 700.9 212.8 700.8C213.6 700.8 214.5 702.7 215.3 703C216.1 703.3 217 703 217.8 702.8C218.6 702.6 219.5 702.3 220.3 701.9C221.1 701.5 222 700.9 222.8 700.6C223.6 700.4 224.5 699.9 225.3 700.3C226.1 700.8 227 703.4 227.8 703.4C228.6 703.4 229.5 700.8 230.3 700.2C231.1 699.6 232 699.7 232.8 700C233.6 700.3 234.5 701.8 235.3 702.1C236.1 702.4 237 701.6 237.8 701.8C238.6 701.9 239.5 702.7 240.3 702.8C241.1 702.8 242 701.9 242.8 702.1C243.6 702.3 244.5 703.7 245.3 703.9C246.1 704 247 703.5 247.8 703.1C248.6 702.7 249.5 701.9 250.3 701.6C251.1 701.2 252 701.5 252.8 701.1C253.6 700.6 254.5 698.7 255.3 698.9C256.1 699.1 257 701.5 257.8 702.2C258.6 703 259.5 703.5 260.3 703.3C261.1 703.1 262 701.3 262.8 701C263.6 700.7 264.5 701.6 265.3 701.5C266.1 701.5 267 700.7 267.8 700.7C268.6 700.6 269.5 701.1 270.3 701.4C271.1 701.6 272 702.1 272.8 702.2C273.6 702.2 274.5 701.9 275.3 701.5C276.1 701.2 277 700.2 277.8 700C278.6 699.8 279.5 700.2 280.3 700.4C281.1 700.7 282 701.7 282.8 701.6C283.6 701.5 284.5 699.6 285.3 699.7C286.1 699.8 287 701.7 287.8 701.9C288.6 702.2 289.5 701.3 290.3 700.9C291.1 700.6 292 700 292.8 700.1C293.6 700.2 294.5 701.4 295.3 701.6C296.1 701.8 297 701.6 297.8 701.3C298.6 701 299.5 700.2 300.3 700C301.1 699.7 302 699.9 302.8 699.9C303.6 699.9 304.5 699.9 305.3 700C306.1 700 307 700 307.8 700.1C308.6 700.2 309.5 700.5 310.3 700.5C311.1 700.5 312 700.7 312.8 700.1C313.6 699.4 314.5 696.8 315.3 696.7C316.1 696.6 317 699.5 317.8 699.6C318.6 699.7 319.5 697.4 320.3 697.3C321.1 697.2 322 699.3 322.8 699.2C323.6 699.2 324.5 697.5 325.3 697.1C326.1 696.8 327 697 327.8 697.1C328.6 697.2 329.5 697.4 330.3 697.7C331.1 698 332 698.4 332.8 698.6C333.6 698.9 334.5 699.5 335.3 699.2C336.1 698.9 337 696.8 337.8 696.7C338.6 696.6 339.5 698.4 340.3 698.8C341.1 699.1 342 699.1 342.8 698.6C343.6 698 344.5 696.1 345.3 695.6C346.1 695 347 695.2 347.8 695.4C348.6 695.6 349.5 696.4 350.3 696.6C351.1 696.8 352 696.6 352.8 696.6C353.6 696.7 354.5 697 355.3 696.8C356.1 696.6 357 695.6 357.8 695.5C358.6 695.3 359.5 695.8 360.3 696C361.1 696.2 362 696.7 362.8 696.6C363.6 696.6 364.5 695.9 365.3 695.5C366.1 695.1 367 694.1 367.8 694.1C368.6 694.2 369.5 695.5 370.3 695.6C371.1 695.7 372 695 372.8 694.6C373.6 694.2 374.5 693.7 375.3 693.1C376.1 692.5 377 691.3 377.8 691.1C378.6 691 379.5 692.1 380.3 692.3C381.1 692.4 382 692.4 382.8 692C383.6 691.6 384.5 689.7 385.3 689.7C386.1 689.8 387 692.1 387.8 692.4C388.6 692.7 389.5 692.1 390.3 691.7C391.1 691.3 392 690.4 392.8 689.8C393.6 689.1 394.5 687.9 395.3 687.9C396.1 687.8 397 688.7 397.8 689.4C398.6 690.1 399.5 692.1 400.3 691.9C401.1 691.7 402 689 402.8 688.3C403.6 687.7 404.5 688 405.3 688C406.1 688 407 688.4 407.8 688.2C408.6 688.1 409.5 687.5 410.3 687.2C411.1 686.8 412 686 412.8 686C413.6 685.9 414.5 686.7 415.3 686.9C416.1 687.1 417 687.3 417.8 687.4C418.6 687.6 419.5 688.2 420.3 687.8C421.1 687.5 422 685.8 422.8 685.4C423.6 685.1 424.5 685.8 425.3 685.7C426.1 685.6 427 685.1 427.8 685C428.6 684.9 429.5 685.4 430.3 685C431.1 684.7 432 683.5 432.8 683C433.6 682.5 434.5 682.2 435.3 681.9C436.1 681.7 437 681.5 437.8 681.5C438.6 681.6 439.5 682.7 440.3 682.4C441.1 682.1 442 680.1 442.8 679.7C443.6 679.2 444.5 679.2 445.3 679.5C446.1 679.8 447 681.8 447.8 681.5C448.6 681.2 449.5 678.1 450.3 677.8C451.1 677.5 452 679.7 452.8 679.8C453.6 679.9 454.5 679.2 455.3 678.3C456.1 677.4 457 674.7 457.8 674.2C458.6 673.8 459.5 675 460.3 675.3C461.1 675.7 462 676 462.8 676.1C463.6 676.2 464.5 676.1 465.3 675.8C466.1 675.4 467 673.9 467.8 673.9C468.6 674 469.5 676.3 470.3 676C471.1 675.8 472 673.1 472.8 672.5C473.6 672 474.5 673 475.3 672.5C476.1 672 477 670 477.8 669.7C478.6 669.4 479.5 670.4 480.3 670.5C481.1 670.6 482 670.8 482.8 670.3C483.6 669.9 484.5 668.4 485.3 667.8C486.1 667.3 487 667.2 487.8 667.1C488.6 666.9 489.5 667.1 490.3 666.7C491.1 666.4 492 665.6 492.8 665C493.6 664.4 494.5 664 495.3 663.3C496.1 662.6 497 661.5 497.8 660.7C498.6 659.9 499.5 658.9 500.3 658.4C501.1 657.9 502 657.9 502.8 657.7C503.6 657.5 504.5 657.7 505.3 657.2C506.1 656.8 507 655.6 507.8 654.8C508.6 653.9 509.5 653 510.3 652.1C511.1 651.3 512 650.1 512.8 649.7C513.6 649.3 514.5 650.2 515.3 649.6C516.1 648.9 517 646.8 517.8 645.9C518.6 644.9 519.5 644.3 520.3 643.7C521.1 643.1 522 643.2 522.8 642.2C523.6 641.2 524.5 639.2 525.3 637.8C526.1 636.4 527 635.3 527.8 633.8C528.6 632.3 529.5 630.4 530.3 628.7C531.1 627 532 625.3 532.8 623.6C533.6 621.9 534.5 620.5 535.3 618.5C536.1 616.5 537 613.6 537.8 611.6C538.6 609.6 539.5 608.5 540.3 606.6C541.1 604.7 542 603.1 542.8 600.3C543.6 597.6 544.5 592.9 545.3 590.2C546.1 587.4 547 586.6 547.8 583.9C548.6 581.3 549.5 577 550.3 574.2C551.1 571.4 552 570.2 552.8 567.3C553.6 564.3 554.5 559.4 555.3 556.5C556.1 553.7 557 552.9 557.8 550.3C558.6 547.8 559.5 544.9 560.3 541.4C561.1 537.9 562 533.1 562.8 529.5C563.6 525.9 564.5 522.6 565.3 519.7C566.1 516.9 567 515.7 567.8 512.4C568.6 509 569.5 503.6 570.3 499.6C571.1 495.6 572 491.5 572.8 488.1C573.6 484.7 574.5 482.2 575.3 479.2C576.1 476.2 577 472.9 577.8 470.1C578.6 467.3 579.5 465.4 580.3 462.5C581.1 459.6 582 455.9 582.8 452.7C583.6 449.5 584.5 446.4 585.3 443.3C586.1 440.2 587 436.7 587.8 434.2C588.6 431.6 589.5 429.9 590.3 428C591.1 426.1 592 424.6 592.8 422.8C593.6 421 594.5 418.7 595.3 417.4C596.1 416 597 417.6 597.8 414.7C598.6 411.7 599.5 399.8 600.3 399.5C601.1 399.2 602 410.7 602.8 413C603.6 415.3 604.5 412.6 605.3 413.5C606.1 414.4 607 416.5 607.8 418.4C608.6 420.2 609.5 422.4 610.3 424.7C611.1 427 612 429.1 612.8 432C613.6 435 614.5 439.2 615.3 442.3C616.1 445.5 617 447.4 617.8 450.8C618.6 454.2 619.5 459 620.3 462.7C621.1 466.4 622 469.5 622.8 472.9C623.6 476.3 624.5 479.3 625.3 483.2C626.1 487 627 491.8 627.8 496C628.6 500.3 629.5 504.6 630.3 508.6C631.1 512.6 632 515.6 632.8 520.2C633.6 524.8 634.5 531.1 635.3 536C636.1 541 637 545.1 637.8 549.9C638.6 554.8 639.5 560.3 640.3 565.2C641.1 570.1 642 575.1 642.8 579.1C643.6 583.2 644.5 585.5 645.3 589.6C646.1 593.7 647 599.7 647.8 603.8C648.6 608 649.5 611.5 650.3 614.4C651.1 617.4 652 618.6 652.8 621.3C653.6 624 654.5 627.5 655.3 630.6C656.1 633.8 657 637.8 657.8 640.3C658.6 642.8 659.5 643.3 660.3 645.6C661.1 647.9 662 651.4 662.8 654C663.6 656.5 664.5 658.7 665.3 660.9C666.1 663.1 667 665.6 667.8 667.3C668.6 668.9 669.5 668.9 670.3 670.5C671.1 672.2 672 675.1 672.8 677C673.6 679 674.5 680.8 675.3 682.3C676.1 683.8 677 684.6 677.8 685.9C678.6 687.2 679.5 688.8 680.3 690.3C681.1 691.9 682 693.9 682.8 695.2C683.6 696.5 684.5 696.9 685.3 698C686.1 699.1 687 700.9 687.8 701.8C688.6 702.7 689.5 702.4 690.3 703.6C691.1 704.7 692 707.6 692.8 708.6C693.6 709.5 694.5 708.5 695.3 709.2C696.1 709.9 697 711.8 697.8 712.8C698.6 713.8 699.5 714.6 700.3 715.2C701.1 715.8 702 716 702.8 716.4C703.6 716.8 704.5 717.4 705.3 717.8C706.1 718.3 707 718.8 707.8 719.2C708.6 719.5 709.5 719.5 710.3 719.9C711.1 720.3 712 720.7 712.8 721.4C713.6 722 714.5 723.6 715.3 724.1C716.1 724.5 717 724.3 717.8 724C718.6 723.7 719.5 722.3 720.3 722.4C721.1 722.6 722 724 722.8 724.8C723.6 725.7 724.5 727.5 725.3 727.7C726.1 727.9 727 726.3 727.8 725.8C728.6 725.3 729.5 724.8 730.3 724.8C731.1 724.8 732 725.4 732.8 725.9C733.6 726.3 734.5 727.2 735.3 727.5C736.1 727.8 737 727.7 737.8 727.7C738.6 727.7 739.5 727.5 740.3 727.6C741.1 727.8 742 728.4 742.8 728.7C743.6 729 744.9 729.1 745.3 729.2" fill="none" stroke="#0a0a0a" stroke-width="2.7" stroke-linejoin="round" stroke-linecap="round"/>
<path d="M125 703.4L127 703.5L129 703.6L131 703.7L133 703.7L135 703.8L137 703.9L139 704L141 704.1L143 704.2L145 704.2L147 704.3L149 704.4L151 704.4L153 704.5L155 704.6L157 704.6L159 704.7L161 704.7L163 704.8L165 704.8L167 704.8L169 704.9L171 704.9L173 704.9L175 705L177 705L179 705L181 705L183 705L185 705L187 705L189 705L191 705L193 705L195 704.9L197 704.9L199 704.9L201 704.8L203 704.8L205 704.7L207 704.7L209 704.6L211 704.6L213 704.5L215 704.4L217 704.4L219 704.3L221 704.2L223 704.1L225 704.1L227 704L229 703.9L231 703.8L233 703.7L235 703.6L237 703.5L239 703.4L241 703.3L243 703.2L245 703.1L247 703L249 703L251 702.9L253 702.8L255 702.7L257 702.6L259 702.5L261 702.4L263 702.4L265 702.3L267 702.2L269 702.2L271 702.1L273 702.1L275 702L277 702L279 702L281 701.9L283 701.9L285 701.9L287 701.9L289 701.9L291 702L293 702L295 702L297 702.1L299 702.2L301 702.2L303 702.3L305 702.4L307 702.5L309 702.6L311 702.8L313 702.9L315 703L317 703.2L319 703.4L321 703.6L323 703.8L325 704L327 704.2L329 704.4L331 704.6L333 704.9L335 705.1L337 705.4L339 705.7L341 705.9L343 706.2L345 706.5L347 706.8L349 707.1L351 707.4L353 707.7L355 708L357 708.4L359 708.7L361 709L363 709.4L365 709.7L367 710L369 710.4L371 710.7L373 711.1L375 711.4L377 711.7L379 712.1L381 712.4L383 712.7L385 713.1L387 713.4L389 713.7L391 714.1L393 714.4L395 714.7L397 715L399 715.3L401 715.6L403 715.9L405 716.2L407 716.5L409 716.8L411 717.1L413 717.3L415 717.6L417 717.8L419 718.1L421 718.3L423 718.6L425 718.8L427 719L429 719.2L431 719.4L433 719.6L435 719.8L437 720L439 720.2L441 720.4L443 720.6L445 720.8L447 720.9L449 721.1L451 721.3L453 721.4L455 721.6L457 721.7L459 721.9L461 722L463 722.2L465 722.3L467 722.4L469 722.6L471 722.7L473 722.8L475 722.9L477 723L479 723.2L481 723.3L483 723.4L485 723.5" fill="none" stroke="#ee1c2e" stroke-width="2.4" stroke-linejoin="round" stroke-linecap="round"/>
<path d="M245 710.6L247 710.7L249 710.8L251 710.9L253 711L255 711.1L257 711.2L259 711.2L261 711.3L263 711.4L265 711.5L267 711.5L269 711.6L271 711.7L273 711.7L275 711.8L277 711.8L279 711.9L281 711.9L283 711.9L285 712L287 712L289 712L291 712L293 712L295 712L297 712L299 711.9L301 711.9L303 711.9L305 711.8L307 711.7L309 711.7L311 711.6L313 711.5L315 711.4L317 711.3L319 711.2L321 711L323 710.9L325 710.8L327 710.6L329 710.4L331 710.3L333 710.1L335 709.9L337 709.7L339 709.5L341 709.2L343 709L345 708.8L347 708.5L349 708.3L351 708L353 707.7L355 707.5L357 707.2L359 706.9L361 706.6L363 706.3L365 706L367 705.7L369 705.4L371 705.1L373 704.7L375 704.4L377 704.1L379 703.8L381 703.5L383 703.2L385 702.9L387 702.6L389 702.3L391 702L393 701.7L395 701.4L397 701.1L399 700.9L401 700.6L403 700.4L405 700.2L407 699.9L409 699.7L411 699.6L413 699.4L415 699.3L417 699.1L419 699L421 698.9L423 698.8L425 698.8L427 698.8L429 698.7L431 698.8L433 698.8L435 698.9L437 698.9L439 699L441 699.2L443 699.3L445 699.5L447 699.7L449 699.9L451 700.2L453 700.5L455 700.8L457 701.1L459 701.4L461 701.8L463 702.1L465 702.5L467 702.9L469 703.3L471 703.8L473 704.2L475 704.7L477 705.1L479 705.6L481 706.1L483 706.6L485 707.1L487 707.6L489 708.1L491 708.6L493 709.1L495 709.7L497 710.2L499 710.7L501 711.2L503 711.7L505 712.2L507 712.7L509 713.2L511 713.7L513 714.2L515 714.7L517 715.2L519 715.7L521 716.1L523 716.6L525 717L527 717.5L529 717.9L531 718.3L533 718.7L535 719.1L537 719.5L539 719.9L541 720.2L543 720.6L545 720.9L547 721.2L549 721.6L551 721.9L553 722.2L555 722.4L557 722.7L559 723L561 723.3L563 723.5L565 723.7L567 724L569 724.2L571 724.4L573 724.6L575 724.8L577 725L579 725.2L581 725.4L583 725.5L585 725.7L587 725.8L589 726L591 726.1L593 726.3L595 726.4L597 726.5L599 726.7L601 726.8L603 726.9L605 727L607 727.1L609 727.2L611 727.3L613 727.4L615 727.5L617 727.6L619 727.6L621 727.7L623 727.8L625 727.9L627 727.9L629 728" fill="none" stroke="#f6a81c" stroke-width="2.4" stroke-linejoin="round" stroke-linecap="round"/>
<path d="M341 715.9L343 716L345 716L347 716.1L349 716.2L351 716.3L353 716.4L355 716.4L357 716.5L359 716.6L361 716.7L363 716.7L365 716.8L367 716.8L369 716.9L371 717L373 717L375 717L377 717.1L379 717.1L381 717.1L383 717.1L385 717.1L387 717.1L389 717.1L391 717L393 717L395 716.9L397 716.9L399 716.8L401 716.7L403 716.6L405 716.4L407 716.3L409 716.1L411 715.9L413 715.7L415 715.5L417 715.2L419 714.9L421 714.6L423 714.3L425 714L427 713.6L429 713.2L431 712.8L433 712.4L435 712L437 711.5L439 711L441 710.5L443 710L445 709.4L447 708.9L449 708.3L451 707.7L453 707.1L455 706.5L457 705.9L459 705.3L461 704.6L463 704L465 703.3L467 702.7L469 702L471 701.4L473 700.8L475 700.1L477 699.5L479 698.9L481 698.3L483 697.8L485 697.2L487 696.7L489 696.2L491 695.7L493 695.3L495 694.9L497 694.5L499 694.2L501 693.9L503 693.6L505 693.4L507 693.2L509 693.1L511 693.1L513 693L515 693.1L517 693.1L519 693.3L521 693.4L523 693.7L525 693.9L527 694.2L529 694.6L531 695L533 695.4L535 695.9L537 696.4L539 697L541 697.6L543 698.2L545 698.9L547 699.5L549 700.2L551 700.9L553 701.7L555 702.4L557 703.2L559 704L561 704.7L563 705.5L565 706.3L567 707.1L569 707.9L571 708.7L573 709.5L575 710.3L577 711L579 711.8L581 712.5L583 713.3L585 714L587 714.7L589 715.4L591 716.1L593 716.7L595 717.3L597 718L599 718.6L601 719.1L603 719.7L605 720.2L607 720.7L609 721.2L611 721.7L613 722.1L615 722.6L617 723L619 723.4L621 723.7L623 724.1L625 724.4L627 724.7L629 725L631 725.3L633 725.6L635 725.8L637 726L639 726.3L641 726.5L643 726.7L645 726.8L647 727L649 727.2L651 727.3L653 727.4L655 727.6L657 727.7L659 727.8L661 727.9L663 728L665 728.1L667 728.2L669 728.2L671 728.3L673 728.4L675 728.5L677 728.5L679 728.6L681 728.6L683 728.7L685 728.7L687 728.8L689 728.8" fill="none" stroke="#6f35a0" stroke-width="2.4" stroke-linejoin="round" stroke-linecap="round"/>
<path d="M366.3 717.3L368.3 717.4L370.3 717.5L372.3 717.6L374.3 717.8L376.3 717.9L378.3 718L380.3 718.1L382.3 718.2L384.3 718.3L386.3 718.4L388.3 718.6L390.3 718.7L392.3 718.8L394.3 718.9L396.3 719L398.3 719.1L400.3 719.2L402.3 719.3L404.3 719.4L406.3 719.5L408.3 719.6L410.3 719.7L412.3 719.8L414.3 719.9L416.3 720L418.3 720.1L420.3 720.2L422.3 720.3L424.3 720.4L426.3 720.5L428.3 720.5L430.3 720.6L432.3 720.7L434.3 720.7L436.3 720.8L438.3 720.9L440.3 720.9L442.3 721L444.3 721L446.3 721.1L448.3 721.1L450.3 721.1L452.3 721.1L454.3 721.1L456.3 721.1L458.3 721.1L460.3 721.1L462.3 721.1L464.3 721L466.3 720.9L468.3 720.8L470.3 720.7L472.3 720.5L474.3 720.3L476.3 720.1L478.3 719.8L480.3 719.4L482.3 719L484.3 718.6L486.3 718.1L488.3 717.5L490.3 716.8L492.3 716L494.3 715.1L496.3 714.1L498.3 713L500.3 711.8L502.3 710.5L504.3 709L506.3 707.4L508.3 705.6L510.3 703.7L512.3 701.6L514.3 699.3L516.3 696.9L518.3 694.3L520.3 691.5L522.3 688.6L524.3 685.5L526.3 682.2L528.3 678.8L530.3 675.3L532.3 671.6L534.3 667.8L536.3 663.9L538.3 659.9L540.3 655.9L542.3 651.8L544.3 647.8L546.3 643.7L548.3 639.7L550.3 635.8L552.3 631.9L554.3 628.2L556.3 624.7L558.3 621.4L560.3 618.3L562.3 615.4L564.3 612.9L566.3 610.7L568.3 608.8L570.3 607.3L572.3 606.2L574.3 605.4L576.3 605.1L578.3 605.2L580.3 605.7L582.3 606.6L584.3 607.9L586.3 609.6L588.3 611.7L590.3 614L592.3 616.7L594.3 619.7L596.3 623L598.3 626.5L600.3 630.1L602.3 634L604.3 637.9L606.3 642L608.3 646.1L610.3 650.3L612.3 654.5L614.3 658.7L616.3 662.8L618.3 666.9L620.3 670.8L622.3 674.7L624.3 678.5L626.3 682.1L628.3 685.6L630.3 689L632.3 692.2L634.3 695.2L636.3 698L638.3 700.7L640.3 703.2L642.3 705.6L644.3 707.8L646.3 709.8L648.3 711.6L650.3 713.4L652.3 714.9L654.3 716.4L656.3 717.7L658.3 718.8L660.3 719.9L662.3 720.9L664.3 721.7L666.3 722.5L668.3 723.2L670.3 723.8L672.3 724.4L674.3 724.9L676.3 725.3L678.3 725.7L680.3 726.1L682.3 726.4L684.3 726.6L686.3 726.9L688.3 727.1L690.3 727.3L692.3 727.4L694.3 727.6L696.3 727.7L698.3 727.8L700.3 728L702.3 728L704.3 728.1L706.3 728.2L708.3 728.3L710.3 728.4L712.3 728.4L714.3 728.5L716.3 728.5L718.3 728.6L720.3 728.6L722.3 728.7L724.3 728.7L726.3 728.7L728.3 728.8L730.3 728.8L732.3 728.8L734.3 728.9L736.3 728.9L738.3 728.9L740.3 728.9L742.3 729L744.3 729L746.3 729" fill="none" stroke="#2f76c9" stroke-width="2.4" stroke-linejoin="round" stroke-linecap="round"/>
<path d="M457.3 722.1L459.3 722.1L461.3 722.2L463.3 722.3L465.3 722.3L467.3 722.4L469.3 722.5L471.3 722.5L473.3 722.6L475.3 722.7L477.3 722.7L479.3 722.8L481.3 722.8L483.3 722.9L485.3 722.9L487.3 723L489.3 723L491.3 723.1L493.3 723.1L495.3 723.1L497.3 723.2L499.3 723.2L501.3 723.2L503.3 723.2L505.3 723.2L507.3 723.2L509.3 723.2L511.3 723.2L513.3 723.2L515.3 723.1L517.3 723L519.3 722.9L521.3 722.8L523.3 722.6L525.3 722.4L527.3 722.1L529.3 721.7L531.3 721.2L533.3 720.6L535.3 719.9L537.3 719L539.3 717.9L541.3 716.6L543.3 715.1L545.3 713.3L547.3 711.2L549.3 708.8L551.3 705.9L553.3 702.7L555.3 699L557.3 694.8L559.3 690.1L561.3 684.9L563.3 679.2L565.3 673L567.3 666.2L569.3 658.9L571.3 651.2L573.3 643.1L575.3 634.6L577.3 625.9L579.3 617L581.3 608L583.3 599.1L585.3 590.3L587.3 581.8L589.3 573.9L591.3 566.5L593.3 559.8L595.3 554L597.3 549.2L599.3 545.5L601.3 543L603.3 541.8L605.3 541.9L607.3 543.2L609.3 545.8L611.3 549.6L613.3 554.5L615.3 560.4L617.3 567.1L619.3 574.6L621.3 582.7L623.3 591.3L625.3 600.1L627.3 609.2L629.3 618.3L631.3 627.3L633.3 636.1L635.3 644.7L637.3 652.9L639.3 660.7L641.3 668.1L643.3 674.9L645.3 681.3L647.3 687.1L649.3 692.4L651.3 697.1L653.3 701.4L655.3 705.2L657.3 708.5L659.3 711.4L661.3 714L663.3 716.2L665.3 718.1L667.3 719.7L669.3 721L671.3 722.2L673.3 723.2L675.3 724L677.3 724.7L679.3 725.2L681.3 725.7L683.3 726.1L685.3 726.5L687.3 726.7L689.3 727L691.3 727.2L693.3 727.4L695.3 727.5L697.3 727.6L699.3 727.7L701.3 727.9L703.3 727.9L705.3 728L707.3 728.1L709.3 728.2L711.3 728.2L713.3 728.3L715.3 728.4L717.3 728.4L719.3 728.5L721.3 728.5L723.3 728.6L725.3 728.6L727.3 728.7L729.3 728.7L731.3 728.7L733.3 728.8L735.3 728.8L737.3 728.8L739.3 728.9L741.3 728.9L743.3 728.9L745.3 728.9L747.3 729" fill="none" stroke="#1f2547" stroke-width="2.4" stroke-linejoin="round" stroke-linecap="round"/>
<path d="M508.8 724.4L510.8 724.5L512.8 724.5L514.8 724.6L516.8 724.6L518.8 724.7L520.8 724.7L522.8 724.8L524.8 724.8L526.8 724.9L528.8 724.9L530.8 724.9L532.8 725L534.8 725L536.8 725L538.8 725L540.8 725L542.8 724.9L544.8 724.9L546.8 724.8L548.8 724.7L550.8 724.6L552.8 724.5L554.8 724.3L556.8 724.1L558.8 723.9L560.8 723.6L562.8 723.3L564.8 722.9L566.8 722.4L568.8 721.9L570.8 721.3L572.8 720.7L574.8 719.9L576.8 719.1L578.8 718.2L580.8 717.2L582.8 716L584.8 714.8L586.8 713.4L588.8 712L590.8 710.4L592.8 708.7L594.8 706.9L596.8 705L598.8 703L600.8 700.9L602.8 698.7L604.8 696.5L606.8 694.1L608.8 691.8L610.8 689.4L612.8 687L614.8 684.6L616.8 682.2L618.8 679.9L620.8 677.6L622.8 675.5L624.8 673.4L626.8 671.6L628.8 669.9L630.8 668.3L632.8 667L634.8 665.9L636.8 665.1L638.8 664.5L640.8 664.2L642.8 664.2L644.8 664.5L646.8 665L648.8 665.8L650.8 666.8L652.8 668.1L654.8 669.6L656.8 671.3L658.8 673.1L660.8 675.2L662.8 677.3L664.8 679.6L666.8 682L668.8 684.4L670.8 686.9L672.8 689.4L674.8 691.8L676.8 694.3L678.8 696.7L680.8 699.1L682.8 701.4L684.8 703.6L686.8 705.7L688.8 707.8L690.8 709.7L692.8 711.5L694.8 713.2L696.8 714.8L698.8 716.3L700.8 717.6L702.8 718.9L704.8 720L706.8 721.1L708.8 722L710.8 722.9L712.8 723.7L714.8 724.3L716.8 725L718.8 725.5L720.8 726L722.8 726.4L724.8 726.8L726.8 727.1L728.8 727.4L730.8 727.7L732.8 727.9L734.8 728.1L736.8 728.2L738.8 728.4L740.8 728.5L742.8 728.6L744.8 728.7L746.8 728.8" fill="none" stroke="#1fa54e" stroke-width="2.4" stroke-linejoin="round" stroke-linecap="round"/>
<path d="M101 702.5L104 702.6L107 702.8L110 702.9L113 703.1L116 703.3L119 703.5L122 703.7L125 703.8L128 704L131 704.2L134 704.4L137 704.6L140 704.7L143 704.9L146 705.1L149 705.3L152 705.4L155 705.6L158 705.8L161 706L164 706.2L167 706.3L170 706.5L173 706.7L176 706.9L179 707.1L182 707.2L185 707.4L188 707.6L191 707.8L194 708L197 708.1L200 708.3L203 708.5L206 708.7L209 708.9L212 709L215 709.2L218 709.4L221 709.6L224 709.8L227 710L230 710.1L233 710.3L236 710.5L239 710.7L242 710.9L245 711.1L248 711.2L251 711.4L254 711.6L257 711.8L260 712L263 712.2L266 712.3L269 712.5L272 712.7L275 712.9L278 713L281 713.2L284 713.4L287 713.5L290 713.7L293 713.9L296 714L299 714.2L302 714.3L305 714.5L308 714.6L311 714.8L314 714.9L317 715.1L320 715.2L323 715.4L326 715.5L329 715.7L332 715.8L335 716L338 716.2L341 716.3L344 716.5L347 716.6L350 716.8L353 717L356 717.1L359 717.3L362 717.5L365 717.7L368 717.9L371 718L374 718.2L377 718.4L380 718.6L383 718.8L386 719L389 719.2L392 719.3L395 719.5L398 719.7L401 719.9L404 720.1L407 720.3L410 720.4L413 720.6L416 720.8L419 720.9L422 721.1L425 721.2L428 721.4L431 721.5L434 721.7L437 721.8L440 722L443 722.1L446 722.3L449 722.4L452 722.5L455 722.7L458 722.8L461 722.9L464 723.1L467 723.2L470 723.3L473 723.4L476 723.6L479 723.7L482 723.8L485 723.9L488 724.1L491 724.2L494 724.3L497 724.4L500 724.5L503 724.7L506 724.8L509 724.9L512 725L515 725.1L518 725.2L521 725.3L524 725.4L527 725.5L530 725.6L533 725.7L536 725.8L539 725.9L542 726L545 726.1L548 726.2L551 726.3L554 726.4L557 726.5L560 726.6L563 726.7L566 726.8L569 726.9L572 726.9L575 727L578 727.1L581 727.2L584 727.3L587 727.4L590 727.5L593 727.6L596 727.6L599 727.7L602 727.8L605 727.9L608 728L611 728L614 728.1L617 728.2L620 728.2L623 728.3L626 728.4L629 728.4L632 728.5L635 728.6L638 728.6L641 728.7L644 728.7L647 728.8L650 728.8L653 728.9L656 728.9L659 728.9L662 729L665 729L668 729.1L671 729.1L674 729.1L677 729.2L680 729.2L683 729.2L686 729.3L689 729.3L692 729.3L695 729.4L698 729.4L701 729.4L704 729.5L707 729.5L710 729.5L713 729.5L716 729.6L719 729.6L722 729.6L725 729.6L728 729.6L731 729.6L734 729.7L737 729.7L740 729.7L743 729.7L746 729.7L748 729.7" fill="none" stroke="#0a0a0a" stroke-width="2.6" stroke-linejoin="round" stroke-linecap="round"/>
<line x1="43.3" y1="1051.6" x2="749" y2="1053" stroke="#14181c" stroke-width="2.0"/>
<path d="M43 1028L45 1028L47 1028L49 1028L51 1028L53 1028L55 1028L57 1028L59 1028L61 1028L63 1028L65 1028L67 1028L69 1028L71 1028L73 1028L75 1028L77 1028L79 1028L81 1028L83 1028L85 1028L87 1028L89 1028L91 1028L93 1028L95 1028L97 1028L99 1028L101 1028L103 1028L105 1028L107 1028L109 1028L111 1028L113 1028L115 1028L117 1028L119 1028L121 1028L123 1028L125 1028L127 1028L129 1028L131 1028L133 1028L135 1028L137 1028L139 1028L141 1028L143 1028L145 1028L147 1028L149 1028L151 1028L153 1028L155 1028L157 1028L159 1028L161 1028L163 1028L165 1028L167 1028L169 1028L171 1028L173 1028L175 1028L177 1028L179 1028L181 1028L183 1028.1L185 1028.1L187 1028.1L189 1028.1L191 1028.1L193 1028.1L195 1028.1L197 1028.1L199 1028.1L201 1028.1L203 1028.1L205 1028.1L207 1028.1L209 1028.1L211 1028.1L213 1028.1L215 1028.2L217 1028.2L219 1028.2L221 1028.2L223 1028.2L225 1028.2L227 1028.2L229 1028.2L231 1028.2L233 1028.2L235 1028.2L237 1028.2L239 1028.2L241 1028.2L243 1028.2L245 1028.2L247 1028.2L249 1028.1L251 1028.1L253 1028L255 1027.9L257 1027.7L259 1027.6L261 1027.4L263 1027.3L265 1027.1L267 1026.9L269 1026.7L271 1026.4L273 1026.2L275 1026L277 1025.8L279 1025.6L281 1025.4L283 1025.2L285 1025.1L287 1024.9L289 1024.8L291 1024.6L293 1024.5L295 1024.3L297 1024.2L299 1024.1L301 1023.9L303 1023.8L305 1023.6L307 1023.5L309 1023.4L311 1023.2L313 1023.1L315 1022.9L317 1022.8L319 1022.6L321 1022.4L323 1022.3L325 1022.1L327 1021.9L329 1021.7L331 1021.5L333 1021.3L335 1021L337 1020.8L339 1020.5L341 1020.1L343 1019.8L345 1019.4L347 1019.1L349 1018.7L351 1018.3L353 1018L355 1017.6L357 1017.3L359 1016.9L361 1016.5L363 1016.2L365 1015.8L367 1015.5L369 1015.1L371 1014.7L373 1014.4L375 1014L377 1013.6L379 1013.2L381 1012.8L383 1012.3L385 1011.9L387 1011.5L389 1011L391 1010.5L393 1009.9L395 1009.4L397 1008.9L399 1008.4L401 1007.9L403 1007.5L405 1007.1L407 1006.7L409 1006.3L411 1005.9L413 1005.6L415 1005.2L417 1004.9L419 1004.5L421 1004.1L423 1003.7L425 1003.3L427 1002.9L429 1002.4L431 1001.9L433 1001.4L435 1000.8L437 1000.2L439 999.5L441 998.8L443 998.1L445 997.4L447 996.6L449 995.8L451 994.9L453 994L455 993.1L457 992.1L459 991.1L461 990L463 988.9L465 987.7L467 986.4L469 985.2L471 983.8L473 982.4L475 981L477 979.4L479 977.8L481 976L483 974.2L485 972.1L487 969.9L489 967.6L491 965.1L493 962.3L495 959.3L497 956.1L499 952.8L501 949.3L503 945.7L505 942L507 938.2L509 934.3L511 930.2L513 926.1L515 921.8L517 917.4L519 912.9L521 908.3L523 903.5L525 898.4L527 893.1L529 887.3L531 881.2L533 874.6L535 867.8L537 860.8L539 853.9L541 847.1L543 840.3L545 833.7L547 827.2L549 820.8L551 814.5L553 808.4L555 802.3L557 796.4L559 790.6L561 785.2L563 780.4L565 776.3L567 772.9L569 770.1L571 767.8L573 766.1L575 765L577 764.9L579 765.6L581 767.1L583 769.3L585 772.1L587 775.5L589 779.5L591 784.2L593 789.5L595 795.3L597 801.3L599 807.7L601 814.3L603 821.1L605 828.2L607 835.5L609 843L611 850.6L613 858.3L615 866.1L617 873.9L619 881.9L621 890L623 898.1L625 906.1L627 913.9L629 921.5L631 928.8L633 935.8L635 942.5L637 949L639 955.2L641 961.2L643 966.9L645 972.3L647 977.5L649 982.5L651 987.2L653 991.7L655 995.9L657 999.9L659 1003.7L661 1007.3L663 1010.6L665 1013.8L667 1016.8L669 1019.5L671 1022.1L673 1024.5L675 1026.8L677 1028.9L679 1030.8L681 1032.7L683 1034.4L685 1035.9L687 1037.4L689 1038.8L691 1040.1L693 1041.2L695 1042.3L697 1043.2L699 1044.1L701 1045L703 1045.7L705 1046.3L707 1046.8L709 1047.3L711 1047.7L713 1048.1L715 1048.4L717 1048.7L719 1049L721 1049.3L723 1049.6L725 1049.8L727 1050.1L729 1050.3L731 1050.5L733 1050.7L735 1050.9L737 1051.1L739 1051.3L741 1051.4L743 1051.6L745 1051.7L747 1051.8L747.2 1051.8" fill="none" stroke="#0a0a0a" stroke-width="3.3" stroke-linejoin="round" stroke-linecap="round"/>
<path d="M43 1029.6C43.4 1029.2 44.7 1027.5 45.5 1027.2C46.3 1027 47.2 1028 48 1028C48.8 1028.1 49.7 1027.8 50.5 1027.5C51.3 1027.3 52.2 1026.7 53 1026.7C53.8 1026.6 54.7 1027.5 55.5 1027.5C56.3 1027.5 57.2 1026.7 58 1026.6C58.8 1026.6 59.7 1027.3 60.5 1027.1C61.3 1027 62.2 1025.3 63 1025.6C63.8 1025.9 64.7 1028.5 65.5 1029C66.3 1029.6 67.2 1028.8 68 1028.8C68.8 1028.8 69.7 1029.5 70.5 1029.3C71.3 1029 72.2 1027.6 73 1027.4C73.8 1027.3 74.7 1028.5 75.5 1028.2C76.3 1028 77.2 1026.1 78 1026C78.8 1025.9 79.7 1027.4 80.5 1027.7C81.3 1028 82.2 1028.2 83 1027.9C83.8 1027.6 84.7 1025.9 85.5 1025.8C86.3 1025.8 87.2 1027 88 1027.4C88.8 1027.8 89.7 1027.8 90.5 1028C91.3 1028.3 92.2 1029.2 93 1029C93.8 1028.8 94.7 1027.1 95.5 1026.8C96.3 1026.5 97.2 1026.7 98 1027C98.8 1027.4 99.7 1028.9 100.5 1029.1C101.3 1029.3 102.2 1028.4 103 1028.1C103.8 1027.9 104.7 1027.5 105.5 1027.8C106.3 1028 107.2 1029.6 108 1029.6C108.8 1029.7 109.7 1029 110.5 1028.3C111.3 1027.6 112.2 1025.4 113 1025.6C113.8 1025.8 114.7 1029.3 115.5 1029.6C116.3 1029.9 117.2 1028.1 118 1027.5C118.8 1026.9 119.7 1025.9 120.5 1026.1C121.3 1026.3 122.2 1028.2 123 1028.6C123.8 1029 124.7 1028.6 125.5 1028.5C126.3 1028.3 127.2 1028 128 1027.8C128.8 1027.5 129.7 1026.9 130.5 1026.9C131.3 1026.8 132.2 1027.2 133 1027.6C133.8 1028 134.7 1029.3 135.5 1029.5C136.3 1029.7 137.2 1029 138 1028.8C138.8 1028.5 139.7 1027.9 140.5 1027.9C141.3 1027.9 142.2 1028.9 143 1028.7C143.8 1028.5 144.7 1026.9 145.5 1026.9C146.3 1026.8 147.2 1028.1 148 1028.3C148.8 1028.6 149.7 1028.8 150.5 1028.4C151.3 1027.9 152.2 1025.6 153 1025.6C153.8 1025.6 154.7 1027.5 155.5 1028.1C156.3 1028.6 157.2 1029 158 1029C158.8 1029 159.7 1028.1 160.5 1028C161.3 1027.9 162.2 1028.4 163 1028.2C163.8 1028.1 164.7 1027.4 165.5 1027.3C166.3 1027.2 167.2 1027.4 168 1027.6C168.8 1027.7 169.7 1028.2 170.5 1028.4C171.3 1028.5 172.2 1028.4 173 1028.4C173.8 1028.4 174.7 1028.9 175.5 1028.6C176.3 1028.3 177.2 1027.1 178 1026.7C178.8 1026.3 179.7 1025.8 180.5 1026C181.3 1026.3 182.2 1027.9 183 1028.1C183.8 1028.4 184.7 1027.6 185.5 1027.5C186.3 1027.4 187.2 1027.5 188 1027.7C188.8 1027.9 189.7 1028.4 190.5 1028.6C191.3 1028.7 192.2 1028.6 193 1028.6C193.8 1028.6 194.7 1028.3 195.5 1028.6C196.3 1028.8 197.2 1030 198 1030C198.8 1030.1 199.7 1029.3 200.5 1028.9C201.3 1028.5 202.2 1027.9 203 1027.7C203.8 1027.4 204.7 1027.1 205.5 1027.2C206.3 1027.3 207.2 1028.1 208 1028.3C208.8 1028.6 209.7 1028.7 210.5 1028.5C211.3 1028.4 212.2 1027.9 213 1027.5C213.8 1027.1 214.7 1025.8 215.5 1026.1C216.3 1026.4 217.2 1028.6 218 1029.1C218.8 1029.6 219.7 1029 220.5 1028.9C221.3 1028.9 222.2 1028.8 223 1028.6C223.8 1028.4 224.7 1027.6 225.5 1027.6C226.3 1027.7 227.2 1029.1 228 1029C228.8 1029 229.7 1027.2 230.5 1027.2C231.3 1027.1 232.2 1028.8 233 1028.9C233.8 1029 234.7 1027.7 235.5 1027.6C236.3 1027.6 237.2 1028.3 238 1028.5C238.8 1028.8 239.7 1029.3 240.5 1029.1C241.3 1029 242.2 1027.3 243 1027.4C243.8 1027.4 244.7 1029.1 245.5 1029.4C246.3 1029.6 247.2 1029.3 248 1028.9C248.8 1028.6 249.7 1027.6 250.5 1027.4C251.3 1027.1 252.2 1027.2 253 1027.2C253.8 1027.3 254.7 1027.2 255.5 1027.6C256.3 1028.1 257.2 1030 258 1029.9C258.8 1029.7 259.7 1027.2 260.5 1026.8C261.3 1026.3 262.2 1026.8 263 1026.9C263.8 1027 264.7 1027 265.5 1027.3C266.3 1027.6 267.2 1029 268 1028.7C268.8 1028.4 269.7 1026.4 270.5 1025.7C271.3 1025 272.2 1024.5 273 1024.5C273.8 1024.4 274.7 1025.7 275.5 1025.5C276.3 1025.3 277.2 1023.2 278 1023.3C278.8 1023.4 279.7 1025.8 280.5 1026.1C281.3 1026.4 282.2 1025.1 283 1025.1C283.8 1025 284.7 1025.5 285.5 1025.7C286.3 1025.8 287.2 1026.1 288 1026C288.8 1025.8 289.7 1025.1 290.5 1025C291.3 1024.9 292.2 1025.4 293 1025.4C293.8 1025.4 294.7 1025 295.5 1025C296.3 1025.1 297.2 1025.8 298 1025.8C298.8 1025.8 299.7 1025.1 300.5 1024.9C301.3 1024.6 302.2 1024.3 303 1024.1C303.8 1023.8 304.7 1023.4 305.5 1023.5C306.3 1023.6 307.2 1024.8 308 1024.7C308.8 1024.6 309.7 1022.9 310.5 1022.9C311.3 1023 312.2 1024.9 313 1024.9C313.8 1024.9 314.7 1023.2 315.5 1022.8C316.3 1022.4 317.2 1022.3 318 1022.6C318.8 1022.9 319.7 1024.8 320.5 1024.8C321.3 1024.8 322.2 1023.2 323 1022.6C323.8 1022 324.7 1021.2 325.5 1020.9C326.3 1020.7 327.2 1021.2 328 1021.3C328.8 1021.5 329.7 1022 330.5 1022C331.3 1022.1 332.2 1022 333 1021.8C333.8 1021.6 334.7 1020.9 335.5 1020.7C336.3 1020.4 337.2 1020.7 338 1020.5C338.8 1020.3 339.7 1019.5 340.5 1019.4C341.3 1019.3 342.2 1019.8 343 1019.7C343.8 1019.5 344.7 1018.6 345.5 1018.4C346.3 1018.2 347.2 1018.4 348 1018.5C348.8 1018.6 349.7 1019.1 350.5 1019.2C351.3 1019.3 352.2 1019.2 353 1019C353.8 1018.8 354.7 1018.4 355.5 1018.1C356.3 1017.7 357.2 1016.8 358 1016.7C358.8 1016.6 359.7 1017.9 360.5 1017.5C361.3 1017.1 362.2 1014.3 363 1014.2C363.8 1014.2 364.7 1017.1 365.5 1017.3C366.3 1017.5 367.2 1015.8 368 1015.6C368.8 1015.3 369.7 1016.1 370.5 1015.8C371.3 1015.4 372.2 1014 373 1013.7C373.8 1013.3 374.7 1013.8 375.5 1013.7C376.3 1013.7 377.2 1013.5 378 1013.5C378.8 1013.6 379.7 1014.2 380.5 1014.1C381.3 1014.1 382.2 1013.5 383 1013.2C383.8 1013 384.7 1013 385.5 1012.5C386.3 1012 387.2 1010.4 388 1010.2C388.8 1010 389.7 1011.4 390.5 1011.2C391.3 1011.1 392.2 1009.9 393 1009.4C393.8 1009 394.7 1008.4 395.5 1008.4C396.3 1008.4 397.2 1009.4 398 1009.5C398.8 1009.5 399.7 1008.5 400.5 1008.5C401.3 1008.6 402.2 1009.9 403 1009.7C403.8 1009.5 404.7 1008 405.5 1007.4C406.3 1006.7 407.2 1005.8 408 1005.8C408.8 1005.7 409.7 1007.1 410.5 1007C411.3 1006.8 412.2 1005.2 413 1004.8C413.8 1004.4 414.7 1004.4 415.5 1004.4C416.3 1004.3 417.2 1004.3 418 1004.3C418.8 1004.4 419.7 1004.8 420.5 1004.7C421.3 1004.5 422.2 1003.6 423 1003.5C423.8 1003.4 424.7 1004 425.5 1003.9C426.3 1003.8 427.2 1003.8 428 1003.1C428.8 1002.4 429.7 999.8 430.5 999.6C431.3 999.4 432.2 1001.6 433 1001.9C433.8 1002.1 434.7 1001.7 435.5 1001.3C436.3 1000.9 437.2 999.9 438 999.5C438.8 999.1 439.7 999.1 440.5 998.7C441.3 998.4 442.2 997.5 443 997.4C443.8 997.2 444.7 997.9 445.5 997.9C446.3 997.9 447.2 997.5 448 997.2C448.8 996.9 449.7 996.8 450.5 996.1C451.3 995.4 452.2 994 453 993.3C453.8 992.5 454.7 991.9 455.5 991.8C456.3 991.6 457.2 992.5 458 992.4C458.8 992.2 459.7 991.4 460.5 990.8C461.3 990.2 462.2 989.1 463 988.9C463.8 988.7 464.7 989.9 465.5 989.5C466.3 989.1 467.2 987.4 468 986.3C468.8 985.3 469.7 983.7 470.5 983.2C471.3 982.8 472.2 984.1 473 983.6C473.8 983.1 474.7 981.5 475.5 980.2C476.3 979 477.2 976.7 478 976.2C478.8 975.8 479.7 978.1 480.5 977.6C481.3 977 482.2 974.1 483 973.1C483.8 972.1 484.7 972.2 485.5 971.6C486.3 971 487.2 970.5 488 969.3C488.8 968.2 489.7 966 490.5 964.8C491.3 963.6 492.2 963.2 493 962.2C493.8 961.2 494.7 959.9 495.5 958.7C496.3 957.6 497.2 956.3 498 955C498.8 953.7 499.7 952.5 500.5 951C501.3 949.6 502.2 947.9 503 946.3C503.8 944.7 504.7 943.1 505.5 941.3C506.3 939.6 507.2 937.2 508 935.5C508.8 933.9 509.7 933.1 510.5 931.5C511.3 929.9 512.2 927.5 513 925.8C513.8 924 514.7 922.9 515.5 921.1C516.3 919.2 517.2 916.6 518 914.7C518.8 912.8 519.7 911.8 520.5 909.5C521.3 907.3 522.2 903.2 523 901.1C523.8 898.9 524.7 898.1 525.5 896.5C526.3 895 527.2 894.2 528 891.9C528.8 889.6 529.7 885.7 530.5 882.8C531.3 880 532.2 878 533 875C533.8 872.1 534.7 868 535.5 865.1C536.3 862.1 537.2 860.4 538 857.3C538.8 854.3 539.7 849.8 540.5 846.9C541.3 843.9 542.2 841.9 543 839.6C543.8 837.2 544.7 835.3 545.5 832.7C546.3 830.2 547.2 827 548 824.2C548.8 821.5 549.7 818.4 550.5 816C551.3 813.5 552.2 812.3 553 809.4C553.8 806.5 554.7 801.3 555.5 798.5C556.3 795.6 557.2 794.1 558 792.3C558.8 790.6 559.7 789.6 560.5 787.8C561.3 786.1 562.2 783.9 563 781.8C563.8 779.7 564.7 776.9 565.5 775.3C566.3 773.6 567.2 772.7 568 771.8C568.8 770.9 569.7 770.5 570.5 769.9C571.3 769.2 572.2 768.6 573 767.8C573.8 767 574.7 765.3 575.5 764.9C576.3 764.6 577.2 765.3 578 765.6C578.8 765.8 579.7 765.6 580.5 766.3C581.3 766.9 582.2 768.5 583 769.5C583.8 770.4 584.7 770.2 585.5 771.8C586.3 773.5 587.2 777.5 588 779.2C588.8 781 589.7 780.5 590.5 782.4C591.3 784.2 592.2 787.8 593 790.3C593.8 792.9 594.7 795.5 595.5 797.7C596.3 799.9 597.2 800.7 598 803.5C598.8 806.3 599.7 811.6 600.5 814.5C601.3 817.5 602.2 818.6 603 821.2C603.8 823.9 604.7 827.6 605.5 830.4C606.3 833.2 607.2 834.7 608 838C608.8 841.3 609.7 846.8 610.5 850.1C611.3 853.4 612.2 855 613 857.9C613.8 860.8 614.7 864.2 615.5 867.6C616.3 870.9 617.2 874.6 618 877.9C618.8 881.3 619.7 884.5 620.5 887.8C621.3 891.2 622.2 894.6 623 898.2C623.8 901.8 624.7 906.2 625.5 909.5C626.3 912.9 627.2 915 628 918.3C628.8 921.6 629.7 926.6 630.5 929.4C631.3 932.1 632.2 932.5 633 934.8C633.8 937.1 634.7 940.1 635.5 943.2C636.3 946.3 637.2 951 638 953.6C638.8 956.1 639.7 956.3 640.5 958.5C641.3 960.8 642.2 964.3 643 967C643.8 969.8 644.7 972.9 645.5 975.1C646.3 977.4 647.2 979 648 980.8C648.8 982.5 649.7 983.6 650.5 985.5C651.3 987.3 652.2 989.8 653 991.9C653.8 994 654.7 996.5 655.5 998C656.3 999.6 657.2 999.7 658 1001.2C658.8 1002.6 659.7 1004.9 660.5 1006.6C661.3 1008.3 662.2 1009.6 663 1011.2C663.8 1012.7 664.7 1014.7 665.5 1015.8C666.3 1016.9 667.2 1016.9 668 1017.7C668.8 1018.5 669.7 1019.1 670.5 1020.6C671.3 1022.2 672.2 1025.7 673 1026.8C673.8 1028 674.7 1027.1 675.5 1027.6C676.3 1028.2 677.2 1029.4 678 1030.2C678.8 1030.9 679.7 1031 680.5 1032.1C681.3 1033.2 682.2 1036.4 683 1036.8C683.8 1037.1 684.7 1034.2 685.5 1034.3C686.3 1034.5 687.2 1036.8 688 1037.5C688.8 1038.3 689.7 1038.2 690.5 1038.9C691.3 1039.5 692.2 1041.3 693 1041.6C693.8 1041.8 694.7 1040.1 695.5 1040.4C696.3 1040.7 697.2 1042.2 698 1043.3C698.8 1044.3 699.7 1046.5 700.5 1046.6C701.3 1046.6 702.2 1043.5 703 1043.5C703.8 1043.5 704.7 1045.7 705.5 1046.5C706.3 1047.3 707.2 1047.9 708 1048.1C708.8 1048.3 709.7 1047.5 710.5 1047.7C711.3 1047.8 712.2 1049 713 1049C713.8 1049 714.7 1047.9 715.5 1047.8C716.3 1047.7 717.2 1047.8 718 1048.3C718.8 1048.8 719.7 1050.7 720.5 1050.6C721.3 1050.6 722.2 1048.4 723 1048.1C723.8 1047.8 724.7 1048.1 725.5 1048.8C726.3 1049.6 727.2 1052.5 728 1052.6C728.8 1052.6 729.7 1049.6 730.5 1049.1C731.3 1048.7 732.2 1049.9 733 1050C733.8 1050.2 734.7 1050.2 735.5 1050.1C736.3 1050.1 737.2 1049.5 738 1049.8C738.8 1050 739.7 1051 740.5 1051.5C741.3 1051.9 742.2 1052.5 743 1052.5C743.8 1052.4 745.1 1051.6 745.5 1051.4" fill="none" stroke="#0a0a0a" stroke-width="2.7" stroke-linejoin="round" stroke-linecap="round"/>
<path d="M42.7 1028.1L44.7 1028.2L46.7 1028.2L48.7 1028.2L50.7 1028.3L52.7 1028.3L54.7 1028.3L56.7 1028.4L58.7 1028.4L60.7 1028.5L62.7 1028.5L64.7 1028.5L66.7 1028.6L68.7 1028.6L70.7 1028.6L72.7 1028.7L74.7 1028.7L76.7 1028.7L78.7 1028.7L80.7 1028.8L82.7 1028.8L84.7 1028.8L86.7 1028.8L88.7 1028.8L90.7 1028.9L92.7 1028.9L94.7 1028.9L96.7 1028.9L98.7 1028.9L100.7 1028.9L102.7 1028.9L104.7 1028.9L106.7 1028.9L108.7 1028.9L110.7 1028.9L112.7 1028.9L114.7 1028.9L116.7 1028.9L118.7 1028.9L120.7 1028.9L122.7 1028.9L124.7 1028.9L126.7 1028.9L128.7 1028.9L130.7 1028.9L132.7 1028.9L134.7 1028.9L136.7 1028.9L138.7 1028.9L140.7 1028.9L142.7 1028.8L144.7 1028.8L146.7 1028.8L148.7 1028.8L150.7 1028.8L152.7 1028.8L154.7 1028.8L156.7 1028.8L158.7 1028.8L160.7 1028.8L162.7 1028.8L164.7 1028.8L166.7 1028.8L168.7 1028.8L170.7 1028.8L172.7 1028.8L174.7 1028.8L176.7 1028.8L178.7 1028.8L180.7 1028.8L182.7 1028.8L184.7 1028.8L186.7 1028.8L188.7 1028.8L190.7 1028.8L192.7 1028.8L194.7 1028.9L196.7 1028.9L198.7 1028.9L200.7 1028.9L202.7 1029L204.7 1029L206.7 1029.1L208.7 1029.1L210.7 1029.1L212.7 1029.2L214.7 1029.2L216.7 1029.3L218.7 1029.4L220.7 1029.4L222.7 1029.5L224.7 1029.5L226.7 1029.6L228.7 1029.7L230.7 1029.8L232.7 1029.9L234.7 1030L236.7 1030L238.7 1030.1L240.7 1030.2L242.7 1030.3L244.7 1030.4L246.7 1030.6L248.7 1030.7L250.7 1030.8L252.7 1030.9L254.7 1031L256.7 1031.2L258.7 1031.3L260.7 1031.4L262.7 1031.6L264.7 1031.7L266.7 1031.9L268.7 1032L270.7 1032.2L272.7 1032.3L274.7 1032.5L276.7 1032.6L278.7 1032.8L280.7 1033L282.7 1033.1L284.7 1033.3L286.7 1033.5L288.7 1033.7L290.7 1033.8L292.7 1034L294.7 1034.2L296.7 1034.4L298.7 1034.6L300.7 1034.8L302.7 1035L304.7 1035.1L306.7 1035.3L308.7 1035.5L310.7 1035.7L312.7 1035.9L314.7 1036.1L316.7 1036.3L318.7 1036.5L320.7 1036.7L322.7 1036.9L324.7 1037.1L326.7 1037.3L328.7 1037.5L330.7 1037.7L332.7 1037.9L334.7 1038.1L336.7 1038.3L338.7 1038.6L340.7 1038.8L342.7 1039L344.7 1039.2L346.7 1039.4L348.7 1039.6L350.7 1039.8L352.7 1040L354.7 1040.2L356.7 1040.5L358.7 1040.7L360.7 1040.9L362.7 1041.1L364.7 1041.3L366.7 1041.6L368.7 1041.8L370.7 1042L372.7 1042.2L374.7 1042.4L376.7 1042.7L378.7 1042.9L380.7 1043.1L382.7 1043.3L384.7 1043.5L386.7 1043.8L388.7 1044L390.7 1044.2L392.7 1044.4L394.7 1044.6L396.7 1044.8L398.7 1045L400.7 1045.2L402.7 1045.4L404.7 1045.6L406.7 1045.7L408.7 1045.9L410.7 1046.1L412.7 1046.3L414.7 1046.4L416.7 1046.6L418.7 1046.7L420.7 1046.9L422.7 1047L424.7 1047.1L426.7 1047.3L428.7 1047.4L430.7 1047.5L432.7 1047.6L434.7 1047.7L436.7 1047.8L438.7 1047.9L440.7 1048L442.7 1048.1L444.7 1048.2L446.7 1048.3L448.7 1048.3L450.7 1048.4L452.7 1048.5L454.7 1048.6L456.7 1048.6L458.7 1048.7L460.7 1048.8L462.7 1048.9L464.7 1048.9L466.7 1049L468.7 1049.1L470.7 1049.1L472.7 1049.2L474.7 1049.2L476.7 1049.3L478.7 1049.4L480.7 1049.4L482.7 1049.5L484.7 1049.5L486.7 1049.6L488.7 1049.7L490.7 1049.7L492.7 1049.8L494.7 1049.8L496.7 1049.9L498.7 1049.9" fill="none" stroke="#ee1c2e" stroke-width="2.4" stroke-linejoin="round" stroke-linecap="round"/>
<path d="M192.7 1036.7L194.7 1036.8L196.7 1036.8L198.7 1036.9L200.7 1037L202.7 1037L204.7 1037.1L206.7 1037.2L208.7 1037.2L210.7 1037.3L212.7 1037.4L214.7 1037.4L216.7 1037.5L218.7 1037.5L220.7 1037.6L222.7 1037.6L224.7 1037.6L226.7 1037.7L228.7 1037.7L230.7 1037.7L232.7 1037.8L234.7 1037.8L236.7 1037.8L238.7 1037.8L240.7 1037.8L242.7 1037.8L244.7 1037.8L246.7 1037.8L248.7 1037.7L250.7 1037.7L252.7 1037.7L254.7 1037.7L256.7 1037.6L258.7 1037.6L260.7 1037.5L262.7 1037.4L264.7 1037.4L266.7 1037.3L268.7 1037.2L270.7 1037.1L272.7 1037L274.7 1036.9L276.7 1036.8L278.7 1036.6L280.7 1036.5L282.7 1036.4L284.7 1036.2L286.7 1036.1L288.7 1035.9L290.7 1035.7L292.7 1035.5L294.7 1035.4L296.7 1035.2L298.7 1035L300.7 1034.8L302.7 1034.6L304.7 1034.3L306.7 1034.1L308.7 1033.9L310.7 1033.7L312.7 1033.4L314.7 1033.2L316.7 1032.9L318.7 1032.7L320.7 1032.4L322.7 1032.2L324.7 1032L326.7 1031.7L328.7 1031.5L330.7 1031.2L332.7 1031L334.7 1030.7L336.7 1030.5L338.7 1030.3L340.7 1030L342.7 1029.8L344.7 1029.6L346.7 1029.4L348.7 1029.2L350.7 1029L352.7 1028.8L354.7 1028.6L356.7 1028.5L358.7 1028.4L360.7 1028.2L362.7 1028.1L364.7 1028L366.7 1027.9L368.7 1027.9L370.7 1027.8L372.7 1027.8L374.7 1027.8L376.7 1027.8L378.7 1027.8L380.7 1027.8L382.7 1027.9L384.7 1028L386.7 1028L388.7 1028.2L390.7 1028.3L392.7 1028.4L394.7 1028.6L396.7 1028.7L398.7 1028.9L400.7 1029.1L402.7 1029.4L404.7 1029.6L406.7 1029.8L408.7 1030.1L410.7 1030.4L412.7 1030.7L414.7 1030.9L416.7 1031.3L418.7 1031.6L420.7 1031.9L422.7 1032.2L424.7 1032.5L426.7 1032.9L428.7 1033.2L430.7 1033.6L432.7 1033.9L434.7 1034.3L436.7 1034.7L438.7 1035L440.7 1035.4L442.7 1035.8L444.7 1036.1L446.7 1036.5L448.7 1036.9L450.7 1037.3L452.7 1037.6L454.7 1038L456.7 1038.4L458.7 1038.8L460.7 1039.1L462.7 1039.5L464.7 1039.9L466.7 1040.3L468.7 1040.6L470.7 1041L472.7 1041.3L474.7 1041.7L476.7 1042L478.7 1042.4L480.7 1042.7L482.7 1043L484.7 1043.3L486.7 1043.6L488.7 1044L490.7 1044.3L492.7 1044.6L494.7 1044.8L496.7 1045.1L498.7 1045.4L500.7 1045.7L502.7 1045.9L504.7 1046.2L506.7 1046.4L508.7 1046.6L510.7 1046.9L512.7 1047.1L514.7 1047.3L516.7 1047.5L518.7 1047.7L520.7 1047.9L522.7 1048.1L524.7 1048.2L526.7 1048.4L528.7 1048.6L530.7 1048.7L532.7 1048.9L534.7 1049L536.7 1049.2L538.7 1049.3L540.7 1049.4L542.7 1049.5L544.7 1049.6L546.7 1049.7L548.7 1049.8L550.7 1049.9L552.7 1050L554.7 1050.1L556.7 1050.2L558.7 1050.3L560.7 1050.4L562.7 1050.4L564.7 1050.5L566.7 1050.6L568.7 1050.6L570.7 1050.7L572.7 1050.7L574.7 1050.8L576.7 1050.8L578.7 1050.9L580.7 1050.9L582.7 1051L584.7 1051L586.7 1051.1" fill="none" stroke="#f6a81c" stroke-width="2.4" stroke-linejoin="round" stroke-linecap="round"/>
<path d="M285.9 1041.3L287.9 1041.4L289.9 1041.5L291.9 1041.5L293.9 1041.6L295.9 1041.7L297.9 1041.7L299.9 1041.8L301.9 1041.9L303.9 1041.9L305.9 1042L307.9 1042L309.9 1042.1L311.9 1042.1L313.9 1042.2L315.9 1042.2L317.9 1042.2L319.9 1042.3L321.9 1042.3L323.9 1042.3L325.9 1042.3L327.9 1042.3L329.9 1042.3L331.9 1042.3L333.9 1042.3L335.9 1042.3L337.9 1042.2L339.9 1042.2L341.9 1042.1L343.9 1042.1L345.9 1042L347.9 1041.9L349.9 1041.9L351.9 1041.8L353.9 1041.7L355.9 1041.5L357.9 1041.4L359.9 1041.3L361.9 1041.1L363.9 1041L365.9 1040.8L367.9 1040.6L369.9 1040.4L371.9 1040.2L373.9 1040L375.9 1039.7L377.9 1039.5L379.9 1039.2L381.9 1038.9L383.9 1038.6L385.9 1038.3L387.9 1037.9L389.9 1037.6L391.9 1037.2L393.9 1036.8L395.9 1036.4L397.9 1035.9L399.9 1035.5L401.9 1035L403.9 1034.5L405.9 1034L407.9 1033.5L409.9 1033L411.9 1032.5L413.9 1031.9L415.9 1031.4L417.9 1030.8L419.9 1030.2L421.9 1029.6L423.9 1029L425.9 1028.4L427.9 1027.8L429.9 1027.2L431.9 1026.6L433.9 1026L435.9 1025.4L437.9 1024.8L439.9 1024.2L441.9 1023.6L443.9 1023.1L445.9 1022.5L447.9 1022L449.9 1021.5L451.9 1021L453.9 1020.5L455.9 1020.1L457.9 1019.7L459.9 1019.3L461.9 1018.9L463.9 1018.6L465.9 1018.3L467.9 1018.1L469.9 1017.8L471.9 1017.7L473.9 1017.5L475.9 1017.4L477.9 1017.4L479.9 1017.4L481.9 1017.4L483.9 1017.4L485.9 1017.5L487.9 1017.7L489.9 1017.9L491.9 1018.1L493.9 1018.3L495.9 1018.6L497.9 1019L499.9 1019.3L501.9 1019.8L503.9 1020.2L505.9 1020.6L507.9 1021.1L509.9 1021.7L511.9 1022.2L513.9 1022.8L515.9 1023.4L517.9 1024L519.9 1024.6L521.9 1025.2L523.9 1025.9L525.9 1026.6L527.9 1027.2L529.9 1027.9L531.9 1028.6L533.9 1029.3L535.9 1030L537.9 1030.7L539.9 1031.4L541.9 1032.1L543.9 1032.8L545.9 1033.5L547.9 1034.2L549.9 1034.8L551.9 1035.5L553.9 1036.1L555.9 1036.8L557.9 1037.4L559.9 1038L561.9 1038.6L563.9 1039.2L565.9 1039.8L567.9 1040.4L569.9 1040.9L571.9 1041.4L573.9 1042L575.9 1042.5L577.9 1042.9L579.9 1043.4L581.9 1043.8L583.9 1044.3L585.9 1044.7L587.9 1045.1L589.9 1045.5L591.9 1045.8L593.9 1046.2L595.9 1046.5L597.9 1046.8L599.9 1047.1L601.9 1047.4L603.9 1047.7L605.9 1047.9L607.9 1048.2L609.9 1048.4L611.9 1048.6L613.9 1048.8L615.9 1049L617.9 1049.2L619.9 1049.4L621.9 1049.6L623.9 1049.7L625.9 1049.9L627.9 1050L629.9 1050.1L631.9 1050.3L633.9 1050.4L635.9 1050.5L637.9 1050.6L639.9 1050.7L641.9 1050.8L643.9 1050.8L645.9 1050.9L647.9 1051L649.9 1051.1L651.9 1051.1L653.9 1051.2L655.9 1051.3L657.9 1051.3L659.9 1051.4L661.9 1051.4L663.9 1051.5L665.9 1051.5L667.9 1051.5L669.9 1051.6L671.9 1051.6L673.9 1051.7L675.9 1051.7" fill="none" stroke="#6f35a0" stroke-width="2.4" stroke-linejoin="round" stroke-linecap="round"/>
<path d="M322 1043L324 1043.1L326 1043.2L328 1043.3L330 1043.3L332 1043.4L334 1043.5L336 1043.6L338 1043.7L340 1043.8L342 1043.9L344 1044L346 1044L348 1044.1L350 1044.2L352 1044.3L354 1044.4L356 1044.5L358 1044.6L360 1044.7L362 1044.8L364 1044.9L366 1045L368 1045.1L370 1045.2L372 1045.3L374 1045.4L376 1045.5L378 1045.6L380 1045.8L382 1045.9L384 1046L386 1046.1L388 1046.2L390 1046.3L392 1046.3L394 1046.4L396 1046.5L398 1046.6L400 1046.7L402 1046.7L404 1046.8L406 1046.8L408 1046.9L410 1046.9L412 1046.9L414 1046.9L416 1046.9L418 1046.9L420 1046.9L422 1046.8L424 1046.7L426 1046.6L428 1046.5L430 1046.4L432 1046.2L434 1046L436 1045.8L438 1045.5L440 1045.2L442 1044.9L444 1044.5L446 1044L448 1043.6L450 1043L452 1042.5L454 1041.8L456 1041.1L458 1040.3L460 1039.5L462 1038.6L464 1037.6L466 1036.5L468 1035.4L470 1034.1L472 1032.8L474 1031.4L476 1029.9L478 1028.3L480 1026.5L482 1024.7L484 1022.8L486 1020.8L488 1018.7L490 1016.5L492 1014.2L494 1011.8L496 1009.4L498 1006.8L500 1004.2L502 1001.5L504 998.8L506 996L508 993.2L510 990.3L512 987.4L514 984.5L516 981.7L518 978.8L520 976L522 973.2L524 970.5L526 967.9L528 965.4L530 962.9L532 960.6L534 958.5L536 956.5L538 954.7L540 953L542 951.6L544 950.3L546 949.3L548 948.5L550 947.9L552 947.6L554 947.5L556 947.7L558 948L560 948.7L562 949.5L564 950.6L566 951.9L568 953.4L570 955.1L572 957L574 959.1L576 961.3L578 963.6L580 966.1L582 968.7L584 971.4L586 974.2L588 977L590 979.9L592 982.8L594 985.7L596 988.6L598 991.5L600 994.4L602 997.3L604 1000.2L606 1003L608 1005.7L610 1008.3L612 1010.9L614 1013.4L616 1015.9L618 1018.2L620 1020.4L622 1022.6L624 1024.6L626 1026.6L628 1028.4L630 1030.2L632 1031.8L634 1033.4L636 1034.9L638 1036.2L640 1037.5L642 1038.7L644 1039.8L646 1040.9L648 1041.8L650 1042.7L652 1043.5L654 1044.3L656 1044.9L658 1045.6L660 1046.1L662 1046.7L664 1047.1L666 1047.6L668 1048L670 1048.3L672 1048.7L674 1049L676 1049.2L678 1049.5L680 1049.7L682 1049.9L684 1050.1L686 1050.2L688 1050.4L690 1050.5L692 1050.6L694 1050.7L696 1050.8L698 1050.9L700 1051L702 1051.1L704 1051.2L706 1051.2L708 1051.3L710 1051.4L712 1051.4L714 1051.5L716 1051.5L718 1051.6L720 1051.6L722 1051.6L724 1051.7L726 1051.7L728 1051.8L730 1051.8L732 1051.8L734 1051.9L736 1051.9L738 1051.9L740 1051.9L742 1052L744 1052L746 1052" fill="none" stroke="#2f76c9" stroke-width="2.4" stroke-linejoin="round" stroke-linecap="round"/>
<path d="M399.8 1047.2L401.8 1047.3L403.8 1047.4L405.8 1047.5L407.8 1047.5L409.8 1047.6L411.8 1047.7L413.8 1047.8L415.8 1047.9L417.8 1047.9L419.8 1048L421.8 1048.1L423.8 1048.1L425.8 1048.2L427.8 1048.2L429.8 1048.2L431.8 1048.3L433.8 1048.3L435.8 1048.3L437.8 1048.4L439.8 1048.4L441.8 1048.4L443.8 1048.4L445.8 1048.4L447.8 1048.4L449.8 1048.4L451.8 1048.4L453.8 1048.4L455.8 1048.4L457.8 1048.4L459.8 1048.4L461.8 1048.4L463.8 1048.3L465.8 1048.3L467.8 1048.3L469.8 1048.2L471.8 1048.1L473.8 1048.1L475.8 1048L477.8 1047.9L479.8 1047.7L481.8 1047.6L483.8 1047.4L485.8 1047.1L487.8 1046.8L489.8 1046.5L491.8 1046.1L493.8 1045.6L495.8 1045.1L497.8 1044.4L499.8 1043.7L501.8 1042.8L503.8 1041.8L505.8 1040.7L507.8 1039.4L509.8 1037.9L511.8 1036.2L513.8 1034.3L515.8 1032.1L517.8 1029.8L519.8 1027.1L521.8 1024.2L523.8 1021L525.8 1017.5L527.8 1013.7L529.8 1009.7L531.8 1005.3L533.8 1000.6L535.8 995.6L537.8 990.3L539.8 984.8L541.8 979.1L543.8 973.1L545.8 967L547.8 960.8L549.8 954.5L551.8 948.2L553.8 941.9L555.8 935.7L557.8 929.7L559.8 923.8L561.8 918.3L563.8 913.1L565.8 908.3L567.8 904.1L569.8 900.3L571.8 897.2L573.8 894.7L575.8 892.9L577.8 891.8L579.8 891.4L581.8 891.8L583.8 893L585.8 894.8L587.8 897.3L589.8 900.5L591.8 904.3L593.8 908.6L595.8 913.4L597.8 918.6L599.8 924.2L601.8 930L603.8 936.1L605.8 942.4L607.8 948.7L609.8 955L611.8 961.4L613.8 967.6L615.8 973.8L617.8 979.8L619.8 985.5L621.8 991.1L623.8 996.4L625.8 1001.4L627.8 1006.1L629.8 1010.6L631.8 1014.7L633.8 1018.6L635.8 1022.1L637.8 1025.3L639.8 1028.3L641.8 1031L643.8 1033.4L645.8 1035.6L647.8 1037.5L649.8 1039.2L651.8 1040.8L653.8 1042.1L655.8 1043.3L657.8 1044.4L659.8 1045.3L661.8 1046.1L663.8 1046.8L665.8 1047.4L667.8 1047.9L669.8 1048.4L671.8 1048.8L673.8 1049.1L675.8 1049.4L677.8 1049.6L679.8 1049.9L681.8 1050L683.8 1050.2L685.8 1050.4L687.8 1050.5L689.8 1050.6L691.8 1050.7L693.8 1050.8L695.8 1050.9L697.8 1050.9L699.8 1051L701.8 1051.1L703.8 1051.1L705.8 1051.2L707.8 1051.3L709.8 1051.3L711.8 1051.4L713.8 1051.4L715.8 1051.4L717.8 1051.5L719.8 1051.5L721.8 1051.6L723.8 1051.6L725.8 1051.7L727.8 1051.7L729.8 1051.7L731.8 1051.8L733.8 1051.8L735.8 1051.8L737.8 1051.9L739.8 1051.9L741.8 1051.9L743.8 1052L745.8 1052" fill="none" stroke="#1f2547" stroke-width="2.4" stroke-linejoin="round" stroke-linecap="round"/>
<path d="M470.9 1049.4L472.9 1049.5L474.9 1049.5L476.9 1049.5L478.9 1049.5L480.9 1049.5L482.9 1049.5L484.9 1049.5L486.9 1049.5L488.9 1049.6L490.9 1049.6L492.9 1049.5L494.9 1049.5L496.9 1049.5L498.9 1049.5L500.9 1049.5L502.9 1049.4L504.9 1049.4L506.9 1049.3L508.9 1049.3L510.9 1049.2L512.9 1049.1L514.9 1049L516.9 1048.8L518.9 1048.7L520.9 1048.5L522.9 1048.3L524.9 1048L526.9 1047.8L528.9 1047.5L530.9 1047.1L532.9 1046.7L534.9 1046.3L536.9 1045.8L538.9 1045.3L540.9 1044.7L542.9 1044.1L544.9 1043.4L546.9 1042.7L548.9 1041.9L550.9 1041L552.9 1040.1L554.9 1039.1L556.9 1038L558.9 1036.8L560.9 1035.6L562.9 1034.3L564.9 1033L566.9 1031.6L568.9 1030.1L570.9 1028.6L572.9 1027L574.9 1025.3L576.9 1023.6L578.9 1021.9L580.9 1020.2L582.9 1018.4L584.9 1016.6L586.9 1014.9L588.9 1013.1L590.9 1011.3L592.9 1009.6L594.9 1008L596.9 1006.3L598.9 1004.8L600.9 1003.3L602.9 1001.9L604.9 1000.7L606.9 999.5L608.9 998.5L610.9 997.6L612.9 996.8L614.9 996.2L616.9 995.8L618.9 995.5L620.9 995.4L622.9 995.4L624.9 995.6L626.9 996L628.9 996.6L630.9 997.3L632.9 998.1L634.9 999.1L636.9 1000.3L638.9 1001.5L640.9 1002.9L642.9 1004.3L644.9 1005.8L646.9 1007.5L648.9 1009.1L650.9 1010.9L652.9 1012.6L654.9 1014.4L656.9 1016.2L658.9 1018L660.9 1019.8L662.9 1021.6L664.9 1023.4L666.9 1025.1L668.9 1026.8L670.9 1028.5L672.9 1030.1L674.9 1031.6L676.9 1033.1L678.9 1034.5L680.9 1035.9L682.9 1037.2L684.9 1038.4L686.9 1039.5L688.9 1040.6L690.9 1041.6L692.9 1042.6L694.9 1043.4L696.9 1044.3L698.9 1045L700.9 1045.7L702.9 1046.4L704.9 1046.9L706.9 1047.5L708.9 1048L710.9 1048.4L712.9 1048.8L714.9 1049.2L716.9 1049.5L718.9 1049.8L720.9 1050.1L722.9 1050.3L724.9 1050.6L726.9 1050.8L728.9 1050.9L730.9 1051.1L732.9 1051.2L734.9 1051.4L736.9 1051.5L738.9 1051.6L740.9 1051.7L742.9 1051.8L744.9 1051.8L746.9 1051.9" fill="none" stroke="#1fa54e" stroke-width="2.4" stroke-linejoin="round" stroke-linecap="round"/>
<path d="M42.7 1029.6L45.7 1029.7L48.7 1029.8L51.7 1030L54.7 1030.1L57.7 1030.3L60.7 1030.4L63.7 1030.6L66.7 1030.7L69.7 1030.9L72.7 1031L75.7 1031.2L78.7 1031.4L81.7 1031.5L84.7 1031.7L87.7 1031.8L90.7 1032L93.7 1032.1L96.7 1032.3L99.7 1032.4L102.7 1032.6L105.7 1032.7L108.7 1032.9L111.7 1033L114.7 1033.2L117.7 1033.3L120.7 1033.5L123.7 1033.6L126.7 1033.8L129.7 1034L132.7 1034.1L135.7 1034.3L138.7 1034.4L141.7 1034.6L144.7 1034.7L147.7 1034.9L150.7 1035L153.7 1035.2L156.7 1035.3L159.7 1035.5L162.7 1035.6L165.7 1035.8L168.7 1035.9L171.7 1036.1L174.7 1036.2L177.7 1036.4L180.7 1036.5L183.7 1036.7L186.7 1036.8L189.7 1037L192.7 1037.1L195.7 1037.3L198.7 1037.4L201.7 1037.6L204.7 1037.7L207.7 1037.9L210.7 1038L213.7 1038.2L216.7 1038.3L219.7 1038.5L222.7 1038.6L225.7 1038.8L228.7 1038.9L231.7 1039.1L234.7 1039.2L237.7 1039.4L240.7 1039.5L243.7 1039.7L246.7 1039.8L249.7 1040L252.7 1040.1L255.7 1040.3L258.7 1040.4L261.7 1040.6L264.7 1040.7L267.7 1040.9L270.7 1041L273.7 1041.2L276.7 1041.3L279.7 1041.5L282.7 1041.6L285.7 1041.8L288.7 1041.9L291.7 1042L294.7 1042.2L297.7 1042.3L300.7 1042.5L303.7 1042.6L306.7 1042.7L309.7 1042.9L312.7 1043L315.7 1043.2L318.7 1043.3L321.7 1043.4L324.7 1043.6L327.7 1043.7L330.7 1043.9L333.7 1044L336.7 1044.1L339.7 1044.3L342.7 1044.4L345.7 1044.6L348.7 1044.7L351.7 1044.9L354.7 1045.1L357.7 1045.2L360.7 1045.4L363.7 1045.6L366.7 1045.7L369.7 1045.9L372.7 1046.1L375.7 1046.3L378.7 1046.5L381.7 1046.7L384.7 1046.9L387.7 1047L390.7 1047.2L393.7 1047.4L396.7 1047.6L399.7 1047.8L402.7 1047.9L405.7 1048.1L408.7 1048.2L411.7 1048.4L414.7 1048.5L417.7 1048.7L420.7 1048.8L423.7 1048.9L426.7 1049L429.7 1049.1L432.7 1049.2L435.7 1049.2L438.7 1049.3L441.7 1049.4L444.7 1049.4L447.7 1049.5L450.7 1049.6L453.7 1049.6L456.7 1049.7L459.7 1049.7L462.7 1049.8L465.7 1049.8L468.7 1049.9L471.7 1049.9L474.7 1050L477.7 1050L480.7 1050.1L483.7 1050.1L486.7 1050.2L489.7 1050.2L492.7 1050.3L495.7 1050.3L498.7 1050.4L501.7 1050.4L504.7 1050.5L507.7 1050.5L510.7 1050.6L513.7 1050.6L516.7 1050.7L519.7 1050.7L522.7 1050.8L525.7 1050.8L528.7 1050.9L531.7 1050.9L534.7 1051L537.7 1051L540.7 1051L543.7 1051.1L546.7 1051.1L549.7 1051.2L552.7 1051.2L555.7 1051.2L558.7 1051.3L561.7 1051.3L564.7 1051.3L567.7 1051.3L570.7 1051.4L573.7 1051.4L576.7 1051.4L579.7 1051.4L582.7 1051.5L585.7 1051.5L588.7 1051.5L591.7 1051.5L594.7 1051.6L597.7 1051.6L600.7 1051.6L603.7 1051.6L606.7 1051.7L609.7 1051.7L612.7 1051.7L615.7 1051.7L618.7 1051.7L621.7 1051.8L624.7 1051.8L627.7 1051.8L630.7 1051.8L633.7 1051.8L636.7 1051.9L639.7 1051.9L642.7 1051.9L645.7 1051.9L648.7 1052L651.7 1052L654.7 1052L657.7 1052L660.7 1052L663.7 1052.1L666.7 1052.1L669.7 1052.1L672.7 1052.1L675.7 1052.2L678.7 1052.2L681.7 1052.2L684.7 1052.2L687.7 1052.3L690.7 1052.3L693.7 1052.3L696.7 1052.3L699.7 1052.3L702.7 1052.4L705.7 1052.4L708.7 1052.4L711.7 1052.4L714.7 1052.5L717.7 1052.5L720.7 1052.5L723.7 1052.5L726.7 1052.5L729.7 1052.6L732.7 1052.6L735.7 1052.6L738.7 1052.6L741.7 1052.7L744.7 1052.7L747.2 1052.7L747.2 1052.7" fill="none" stroke="#0a0a0a" stroke-width="2.6" stroke-linejoin="round" stroke-linecap="round"/>
<path d="M43 1411L45 1411L47 1411.1L49 1411.1L51 1411.1L53 1411.1L55 1411.2L57 1411.2L59 1411.2L61 1411.2L63 1411.2L65 1411.3L67 1411.3L69 1411.3L71 1411.3L73 1411.3L75 1411.3L77 1411.4L79 1411.4L81 1411.4L83 1411.4L85 1411.4L87 1411.4L89 1411.4L91 1411.4L93 1411.4L95 1411.4L97 1411.4L99 1411.5L101 1411.5L103 1411.5L105 1411.5L107 1411.5L109 1411.5L111 1411.5L113 1411.5L115 1411.5L117 1411.5L119 1411.5L121 1411.5L123 1411.5L125 1411.5L127 1411.5L129 1411.5L131 1411.5L133 1411.5L135 1411.5L137 1411.5L139 1411.5L141 1411.5L143 1411.5L145 1411.5L147 1411.5L149 1411.5L151 1411.5L153 1411.5L155 1411.5L157 1411.4L159 1411.4L161 1411.4L163 1411.4L165 1411.3L167 1411.3L169 1411.3L171 1411.3L173 1411.2L175 1411.2L177 1411.2L179 1411.1L181 1411.1L183 1411L185 1411L187 1411L189 1410.9L191 1410.9L193 1410.8L195 1410.8L197 1410.7L199 1410.7L201 1410.7L203 1410.6L205 1410.6L207 1410.5L209 1410.5L211 1410.4L213 1410.4L215 1410.3L217 1410.3L219 1410.3L221 1410.2L223 1410.2L225 1410.2L227 1410.1L229 1410.1L231 1410L233 1410L235 1410L237 1410L239 1409.9L241 1409.9L243 1409.9L245 1409.9L247 1409.8L249 1409.8L251 1409.8L253 1409.8L255 1409.8L257 1409.7L259 1409.7L261 1409.7L263 1409.7L265 1409.7L267 1409.6L269 1409.6L271 1409.6L273 1409.6L275 1409.6L277 1409.5L279 1409.5L281 1409.5L283 1409.5L285 1409.4L287 1409.4L289 1409.4L291 1409.4L293 1409.3L295 1409.3L297 1409.3L299 1409.2L301 1409.2L303 1409.2L305 1409.1L307 1409.1L309 1409L311 1409L313 1408.9L315 1408.8L317 1408.7L319 1408.6L321 1408.5L323 1408.3L325 1408.2L327 1408.1L329 1407.9L331 1407.8L333 1407.6L335 1407.5L337 1407.4L339 1407.3L341 1407.1L343 1407L345 1406.9L347 1406.7L349 1406.6L351 1406.4L353 1406.2L355 1406L357 1405.7L359 1405.4L361 1405.2L363 1404.9L365 1404.6L367 1404.3L369 1404L371 1403.7L373 1403.4L375 1403.1L377 1402.8L379 1402.5L381 1402.3L383 1402L385 1401.7L387 1401.5L389 1401.2L391 1400.9L393 1400.7L395 1400.4L397 1400.1L399 1399.9L401 1399.6L403 1399.3L405 1399L407 1398.7L409 1398.4L411 1398.1L413 1397.8L415 1397.5L417 1397.2L419 1396.8L421 1396.5L423 1396.1L425 1395.8L427 1395.4L429 1395.1L431 1394.7L433 1394.3L435 1393.9L437 1393.4L439 1393L441 1392.5L443 1392.1L445 1391.6L447 1391.1L449 1390.5L451 1390L453 1389.4L455 1388.8L457 1388.1L459 1387.4L461 1386.7L463 1386L465 1385.1L467 1384.2L469 1383.2L471 1382.1L473 1380.9L475 1379.7L477 1378.5L479 1377.3L481 1376.1L483 1374.9L485 1373.8L487 1372.7L489 1371.6L491 1370.6L493 1369.5L495 1368.4L497 1367.2L499 1366L501 1364.8L503 1363.5L505 1362L507 1360.5L509 1358.9L511 1357.3L513 1355.6L515 1354L517 1352.3L519 1350.6L521 1349L523 1347.2L525 1345.3L527 1343.1L529 1340.6L531 1337.8L533 1334.6L535 1331.1L537 1327.3L539 1323.2L541 1319L543 1314.5L545 1309.8L547 1304.8L549 1299.4L551 1293.8L553 1287.8L555 1281.3L557 1274.4L559 1267L561 1259.3L563 1251.4L565 1243.3L567 1235.1L569 1226.8L571 1218.4L573 1210L575 1201.5L577 1193.3L579 1185.1L581 1177.2L583 1169.3L585 1161.7L587 1154.4L589 1147.7L591 1141.5L593 1135.9L595 1130.9L597 1126.7L599 1123.9L601 1122.6L603 1122.8L605 1124.4L607 1127.1L609 1130.9L611 1136.2L613 1143L615 1151.2L617 1160.4L619 1170.4L621 1181L623 1192.1L625 1203.5L627 1215L629 1226.2L631 1237.1L633 1247.7L635 1258L637 1268.2L639 1278L641 1287.6L643 1296.8L645 1305.6L647 1314.2L649 1322.5L651 1330.5L653 1338L655 1345L657 1351.7L659 1357.9L661 1363.8L663 1369.4L665 1374.6L667 1379.5L669 1384L671 1388.2L673 1392.1L675 1395.8L677 1399.2L679 1402.5L681 1405.5L683 1408.4L685 1411.2L687 1413.7L689 1416.1L691 1418.2L693 1420.1L695 1421.8L697 1423.3L699 1424.6L701 1425.8L703 1426.9L705 1427.8L707 1428.7L709 1429.5L711 1430.2L713 1430.9L715 1431.5L717 1432L719 1432.4L721 1432.8L723 1433.1L725 1433.4L727 1433.7L729 1434L731 1434.3L733 1434.5L735 1434.8L737 1435L739 1435.1L741 1435.3L743 1435.4L745 1435.4L747 1435.5L747.2 1435.5" fill="none" stroke="#0a0a0a" stroke-width="3.3" stroke-linejoin="round" stroke-linecap="round"/>
<path d="M43 1409.5C43.4 1409.7 44.7 1410.7 45.5 1411C46.3 1411.2 47.2 1410.8 48 1410.9C48.8 1410.9 49.7 1410.9 50.5 1411.3C51.3 1411.6 52.2 1413.2 53 1413.1C53.8 1413.1 54.7 1410.9 55.5 1410.8C56.3 1410.8 57.2 1412.7 58 1412.7C58.8 1412.7 59.7 1411.2 60.5 1411C61.3 1410.9 62.2 1411.9 63 1411.8C63.8 1411.7 64.7 1410.2 65.5 1410.2C66.3 1410.1 67.2 1411.3 68 1411.5C68.8 1411.7 69.7 1411.1 70.5 1411.3C71.3 1411.4 72.2 1412.5 73 1412.4C73.8 1412.3 74.7 1410.8 75.5 1410.7C76.3 1410.6 77.2 1411.5 78 1411.5C78.8 1411.5 79.7 1411.1 80.5 1410.8C81.3 1410.4 82.2 1409.6 83 1409.6C83.8 1409.6 84.7 1410.3 85.5 1410.6C86.3 1411 87.2 1411.2 88 1411.7C88.8 1412.1 89.7 1413.2 90.5 1413.3C91.3 1413.5 92.2 1413.1 93 1412.6C93.8 1412.2 94.7 1411.2 95.5 1410.6C96.3 1410 97.2 1409.3 98 1409.2C98.8 1409.2 99.7 1409.7 100.5 1410.2C101.3 1410.6 102.2 1411.6 103 1412C103.8 1412.4 104.7 1412.7 105.5 1412.5C106.3 1412.2 107.2 1411 108 1410.6C108.8 1410.1 109.7 1409.4 110.5 1409.6C111.3 1409.7 112.2 1411.1 113 1411.5C113.8 1411.8 114.7 1411.3 115.5 1411.5C116.3 1411.7 117.2 1412.8 118 1412.8C118.8 1412.9 119.7 1412.1 120.5 1411.7C121.3 1411.3 122.2 1410.1 123 1410.2C123.8 1410.3 124.7 1412.1 125.5 1412.4C126.3 1412.7 127.2 1412.1 128 1412C128.8 1411.8 129.7 1411.7 130.5 1411.6C131.3 1411.6 132.2 1411.5 133 1411.8C133.8 1412.1 134.7 1413.3 135.5 1413.3C136.3 1413.3 137.2 1412.1 138 1412C138.8 1411.9 139.7 1412.8 140.5 1412.7C141.3 1412.7 142.2 1412 143 1411.8C143.8 1411.7 144.7 1411.9 145.5 1411.9C146.3 1411.8 147.2 1411.4 148 1411.5C148.8 1411.6 149.7 1412.9 150.5 1412.5C151.3 1412.1 152.2 1409.2 153 1409.1C153.8 1408.9 154.7 1411.6 155.5 1411.8C156.3 1411.9 157.2 1410.3 158 1410C158.8 1409.7 159.7 1409.7 160.5 1409.9C161.3 1410.2 162.2 1410.8 163 1411.2C163.8 1411.7 164.7 1412.1 165.5 1412.5C166.3 1412.9 167.2 1413.3 168 1413.5C168.8 1413.7 169.7 1414 170.5 1413.7C171.3 1413.3 172.2 1412 173 1411.5C173.8 1411.1 174.7 1411 175.5 1411C176.3 1411.1 177.2 1411.8 178 1411.9C178.8 1412 179.7 1412.2 180.5 1411.6C181.3 1411.1 182.2 1408.8 183 1408.6C183.8 1408.5 184.7 1410.1 185.5 1410.7C186.3 1411.3 187.2 1412.2 188 1412.1C188.8 1412.1 189.7 1410.4 190.5 1410.3C191.3 1410.2 192.2 1411.3 193 1411.8C193.8 1412.3 194.7 1413.4 195.5 1413.2C196.3 1413 197.2 1410.7 198 1410.6C198.8 1410.5 199.7 1412.4 200.5 1412.4C201.3 1412.4 202.2 1411.2 203 1410.6C203.8 1410 204.7 1408.8 205.5 1408.8C206.3 1408.8 207.2 1410 208 1410.4C208.8 1410.9 209.7 1411.6 210.5 1411.3C211.3 1411.1 212.2 1408.6 213 1408.8C213.8 1409 214.7 1412.1 215.5 1412.5C216.3 1413 217.2 1412.1 218 1411.5C218.8 1410.9 219.7 1409.3 220.5 1408.9C221.3 1408.4 222.2 1408.4 223 1408.7C223.8 1409 224.7 1410.1 225.5 1410.5C226.3 1410.8 227.2 1411 228 1410.9C228.8 1410.8 229.7 1410 230.5 1409.8C231.3 1409.6 232.2 1409.8 233 1409.8C233.8 1409.8 234.7 1409.8 235.5 1409.9C236.3 1410 237.2 1410.3 238 1410.5C238.8 1410.7 239.7 1411.3 240.5 1411.3C241.3 1411.3 242.2 1410.9 243 1410.7C243.8 1410.5 244.7 1410.4 245.5 1410.4C246.3 1410.3 247.2 1410.1 248 1410.3C248.8 1410.5 249.7 1411.5 250.5 1411.5C251.3 1411.5 252.2 1410.3 253 1410.3C253.8 1410.3 254.7 1411.9 255.5 1411.6C256.3 1411.4 257.2 1409.5 258 1408.9C258.8 1408.4 259.7 1408.2 260.5 1408.4C261.3 1408.7 262.2 1409.9 263 1410.4C263.8 1410.8 264.7 1411.3 265.5 1411.1C266.3 1411 267.2 1409.7 268 1409.4C268.8 1409 269.7 1409.1 270.5 1409.1C271.3 1409.2 272.2 1409.9 273 1409.8C273.8 1409.7 274.7 1408.6 275.5 1408.6C276.3 1408.7 277.2 1409.8 278 1410.1C278.8 1410.4 279.7 1411 280.5 1410.6C281.3 1410.3 282.2 1408.1 283 1408C283.8 1407.9 284.7 1409.6 285.5 1409.9C286.3 1410.3 287.2 1409.6 288 1409.9C288.8 1410.1 289.7 1411.7 290.5 1411.7C291.3 1411.7 292.2 1410 293 1409.7C293.8 1409.4 294.7 1410 295.5 1409.9C296.3 1409.9 297.2 1409.5 298 1409.3C298.8 1409.1 299.7 1408.6 300.5 1408.5C301.3 1408.5 302.2 1408.7 303 1409C303.8 1409.3 304.7 1410.4 305.5 1410.3C306.3 1410.1 307.2 1408.3 308 1408C308.8 1407.7 309.7 1408.6 310.5 1408.6C311.3 1408.7 312.2 1408.3 313 1408.3C313.8 1408.4 314.7 1408.9 315.5 1409C316.3 1409 317.2 1408.4 318 1408.6C318.8 1408.7 319.7 1409.7 320.5 1409.9C321.3 1410.1 322.2 1410.1 323 1409.9C323.8 1409.7 324.7 1409 325.5 1408.9C326.3 1408.7 327.2 1408.9 328 1408.7C328.8 1408.5 329.7 1407.4 330.5 1407.6C331.3 1407.8 332.2 1410 333 1410C333.8 1410.1 334.7 1408.4 335.5 1408.1C336.3 1407.8 337.2 1408.5 338 1408.2C338.8 1407.9 339.7 1406.2 340.5 1406.1C341.3 1406 342.2 1407.4 343 1407.7C343.8 1407.9 344.7 1407.6 345.5 1407.5C346.3 1407.3 347.2 1407 348 1406.7C348.8 1406.5 349.7 1405.8 350.5 1406.1C351.3 1406.3 352.2 1407.9 353 1408.2C353.8 1408.6 354.7 1408.8 355.5 1408.3C356.3 1407.8 357.2 1405.6 358 1405.1C358.8 1404.5 359.7 1405 360.5 1405C361.3 1405 362.2 1405.3 363 1405C363.8 1404.7 364.7 1403 365.5 1403.1C366.3 1403.2 367.2 1405.7 368 1405.8C368.8 1405.9 369.7 1404.1 370.5 1403.8C371.3 1403.5 372.2 1404.2 373 1404C373.8 1403.8 374.7 1402.9 375.5 1402.9C376.3 1402.8 377.2 1403.6 378 1403.5C378.8 1403.4 379.7 1402.8 380.5 1402.2C381.3 1401.5 382.2 1399.8 383 1399.6C383.8 1399.4 384.7 1400.9 385.5 1401.1C386.3 1401.4 387.2 1401.3 388 1401C388.8 1400.7 389.7 1399.6 390.5 1399.5C391.3 1399.3 392.2 1400.3 393 1400.1C393.8 1399.8 394.7 1398.1 395.5 1398.2C396.3 1398.3 397.2 1400.5 398 1400.9C398.8 1401.3 399.7 1400.7 400.5 1400.8C401.3 1400.8 402.2 1401.3 403 1401.4C403.8 1401.4 404.7 1401.2 405.5 1401.1C406.3 1400.9 407.2 1401.2 408 1400.5C408.8 1399.8 409.7 1397.2 410.5 1396.7C411.3 1396.2 412.2 1397.7 413 1397.7C413.8 1397.7 414.7 1397 415.5 1396.9C416.3 1396.7 417.2 1396.9 418 1396.8C418.8 1396.8 419.7 1396.7 420.5 1396.6C421.3 1396.5 422.2 1396.3 423 1396.4C423.8 1396.5 424.7 1397.7 425.5 1397.2C426.3 1396.8 427.2 1394.1 428 1393.7C428.8 1393.4 429.7 1395.4 430.5 1395.2C431.3 1395 432.2 1392.8 433 1392.5C433.8 1392.2 434.7 1392.6 435.5 1393.1C436.3 1393.6 437.2 1395.6 438 1395.6C438.8 1395.6 439.7 1393.5 440.5 1393.1C441.3 1392.7 442.2 1393.2 443 1393C443.8 1392.9 444.7 1392.3 445.5 1392.1C446.3 1391.8 447.2 1391.8 448 1391.5C448.8 1391.2 449.7 1390.5 450.5 1390.3C451.3 1390 452.2 1390.2 453 1390.1C453.8 1390 454.7 1389.8 455.5 1389.5C456.3 1389.1 457.2 1388.2 458 1387.8C458.8 1387.4 459.7 1387.2 460.5 1387C461.3 1386.8 462.2 1387 463 1386.6C463.8 1386.2 464.7 1385 465.5 1384.6C466.3 1384.2 467.2 1384.7 468 1384.3C468.8 1383.9 469.7 1382.6 470.5 1382.1C471.3 1381.6 472.2 1381.7 473 1381.1C473.8 1380.5 474.7 1378.6 475.5 1378.4C476.3 1378.2 477.2 1380.4 478 1379.8C478.8 1379.2 479.7 1375.5 480.5 1374.8C481.3 1374 482.2 1375.9 483 1375.5C483.8 1375.1 484.7 1372.9 485.5 1372.4C486.3 1372 487.2 1373.1 488 1372.9C488.8 1372.7 489.7 1371.8 490.5 1371.2C491.3 1370.5 492.2 1369.3 493 1368.8C493.8 1368.4 494.7 1368.9 495.5 1368.7C496.3 1368.4 497.2 1367.9 498 1367.4C498.8 1366.8 499.7 1366.6 500.5 1365.5C501.3 1364.5 502.2 1361.4 503 1361.1C503.8 1360.7 504.7 1363.8 505.5 1363.6C506.3 1363.5 507.2 1361.2 508 1360C508.8 1358.8 509.7 1357.1 510.5 1356.5C511.3 1355.8 512.2 1356.9 513 1356.1C513.8 1355.4 514.7 1352.6 515.5 1352.2C516.3 1351.8 517.2 1354.1 518 1353.9C518.8 1353.7 519.7 1352 520.5 1351C521.3 1350 522.2 1348.8 523 1347.9C523.8 1347.1 524.7 1346.7 525.5 1345.8C526.3 1345 527.2 1344.2 528 1342.9C528.8 1341.6 529.7 1339.3 530.5 1338.2C531.3 1337 532.2 1337.4 533 1336C533.8 1334.7 534.7 1331.9 535.5 1330.1C536.3 1328.3 537.2 1326.9 538 1325.3C538.8 1323.7 539.7 1322.7 540.5 1320.5C541.3 1318.3 542.2 1314 543 1312.1C543.8 1310.2 544.7 1311.1 545.5 1309.2C546.3 1307.2 547.2 1302.4 548 1300.2C548.8 1298.1 549.7 1298.2 550.5 1296.1C551.3 1294 552.2 1290.2 553 1287.5C553.8 1284.7 554.7 1282.1 555.5 1279.5C556.3 1276.9 557.2 1274.9 558 1271.8C558.8 1268.6 559.7 1264.3 560.5 1260.7C561.3 1257.1 562.2 1253.6 563 1250.3C563.8 1246.9 564.7 1243.9 565.5 1240.7C566.3 1237.5 567.2 1234.9 568 1231.1C568.8 1227.3 569.7 1221.7 570.5 1218.1C571.3 1214.5 572.2 1212.5 573 1209.4C573.8 1206.2 574.7 1202.2 575.5 1199.2C576.3 1196.3 577.2 1194.9 578 1191.6C578.8 1188.3 579.7 1183.4 580.5 1179.5C581.3 1175.7 582.2 1171.7 583 1168.6C583.8 1165.6 584.7 1163.8 585.5 1161.3C586.3 1158.7 587.2 1156.2 588 1153.4C588.8 1150.5 589.7 1147 590.5 1144.2C591.3 1141.3 592.2 1138.4 593 1136.4C593.8 1134.3 594.7 1133.6 595.5 1131.8C596.3 1130 597.2 1128.7 598 1125.7C598.8 1122.8 599.7 1114.4 600.5 1114C601.3 1113.6 602.2 1121.3 603 1123.3C603.8 1125.3 604.7 1125.2 605.5 1125.9C606.3 1126.7 607.2 1126.2 608 1127.8C608.8 1129.3 609.7 1132.4 610.5 1135.2C611.3 1138 612.2 1141.4 613 1144.4C613.8 1147.5 614.7 1149.9 615.5 1153.3C616.3 1156.7 617.2 1160.8 618 1165C618.8 1169.2 619.7 1174 620.5 1178.5C621.3 1183.1 622.2 1187.7 623 1192.5C623.8 1197.3 624.7 1203.1 625.5 1207.4C626.3 1211.7 627.2 1213.5 628 1218.2C628.8 1222.9 629.7 1230.6 630.5 1235.5C631.3 1240.5 632.2 1243.7 633 1247.8C633.8 1251.9 634.7 1256.1 635.5 1260.2C636.3 1264.2 637.2 1267.9 638 1272.2C638.8 1276.4 639.7 1281.6 640.5 1285.7C641.3 1289.8 642.2 1292.8 643 1296.6C643.8 1300.4 644.7 1304.9 645.5 1308.5C646.3 1312.1 647.2 1314.5 648 1318.1C648.8 1321.8 649.7 1327.4 650.5 1330.5C651.3 1333.6 652.2 1334.1 653 1336.8C653.8 1339.4 654.7 1343.5 655.5 1346.4C656.3 1349.3 657.2 1351.5 658 1354.2C658.8 1356.9 659.7 1359.7 660.5 1362.6C661.3 1365.5 662.2 1369.2 663 1371.6C663.8 1374 664.7 1375.2 665.5 1376.9C666.3 1378.7 667.2 1380.9 668 1382.2C668.8 1383.5 669.7 1383.1 670.5 1384.7C671.3 1386.4 672.2 1390.5 673 1392.3C673.8 1394.2 674.7 1394.3 675.5 1395.7C676.3 1397.2 677.2 1399.1 678 1400.9C678.8 1402.8 679.7 1405.5 680.5 1406.8C681.3 1408.1 682.2 1408.2 683 1408.9C683.8 1409.7 684.7 1410.5 685.5 1411.4C686.3 1412.3 687.2 1413.1 688 1414.4C688.8 1415.6 689.7 1417.7 690.5 1418.7C691.3 1419.6 692.2 1419.6 693 1420.1C693.8 1420.7 694.7 1421.6 695.5 1422.2C696.3 1422.7 697.2 1423 698 1423.3C698.8 1423.7 699.7 1423.5 700.5 1424.3C701.3 1425.1 702.2 1427.5 703 1428.3C703.8 1429.1 704.7 1428.5 705.5 1429C706.3 1429.5 707.2 1431.3 708 1431.1C708.8 1431 709.7 1428.4 710.5 1428.3C711.3 1428.3 712.2 1430 713 1430.9C713.8 1431.7 714.7 1433.4 715.5 1433.3C716.3 1433.1 717.2 1430.2 718 1430.1C718.8 1430.1 719.7 1432.5 720.5 1433C721.3 1433.5 722.2 1433 723 1433.1C723.8 1433.2 724.7 1433.3 725.5 1433.3C726.3 1433.3 727.2 1432.7 728 1433.2C728.8 1433.7 729.7 1436 730.5 1436.3C731.3 1436.5 732.2 1435.1 733 1434.8C733.8 1434.4 734.7 1434.1 735.5 1434.1C736.3 1434.1 737.2 1434.5 738 1434.7C738.8 1435 739.7 1435.2 740.5 1435.4C741.3 1435.6 742.2 1435.8 743 1436C743.8 1436.3 745.1 1436.9 745.5 1437.1" fill="none" stroke="#0a0a0a" stroke-width="2.7" stroke-linejoin="round" stroke-linecap="round"/>
<path d="M102.7 1414.3L104.7 1414.3L106.7 1414.4L108.7 1414.4L110.7 1414.4L112.7 1414.5L114.7 1414.5L116.7 1414.5L118.7 1414.6L120.7 1414.6L122.7 1414.6L124.7 1414.6L126.7 1414.6L128.7 1414.6L130.7 1414.6L132.7 1414.6L134.7 1414.6L136.7 1414.6L138.7 1414.6L140.7 1414.5L142.7 1414.5L144.7 1414.4L146.7 1414.4L148.7 1414.3L150.7 1414.3L152.7 1414.2L154.7 1414.1L156.7 1414.1L158.7 1414L160.7 1413.9L162.7 1413.8L164.7 1413.7L166.7 1413.6L168.7 1413.5L170.7 1413.4L172.7 1413.2L174.7 1413.1L176.7 1413L178.7 1412.8L180.7 1412.7L182.7 1412.5L184.7 1412.4L186.7 1412.2L188.7 1412.1L190.7 1411.9L192.7 1411.8L194.7 1411.6L196.7 1411.5L198.7 1411.3L200.7 1411.2L202.7 1411L204.7 1410.9L206.7 1410.7L208.7 1410.6L210.7 1410.4L212.7 1410.3L214.7 1410.2L216.7 1410.1L218.7 1410L220.7 1409.9L222.7 1409.8L224.7 1409.7L226.7 1409.7L228.7 1409.6L230.7 1409.6L232.7 1409.6L234.7 1409.6L236.7 1409.6L238.7 1409.6L240.7 1409.7L242.7 1409.8L244.7 1409.8L246.7 1409.9L248.7 1410.1L250.7 1410.2L252.7 1410.4L254.7 1410.5L256.7 1410.7L258.7 1410.9L260.7 1411.2L262.7 1411.4L264.7 1411.6L266.7 1411.9L268.7 1412.2L270.7 1412.5L272.7 1412.8L274.7 1413.1L276.7 1413.4L278.7 1413.7L280.7 1414.1L282.7 1414.4L284.7 1414.8L286.7 1415.1L288.7 1415.5L290.7 1415.8L292.7 1416.2L294.7 1416.5L296.7 1416.9L298.7 1417.3L300.7 1417.6L302.7 1418L304.7 1418.3L306.7 1418.7L308.7 1419L310.7 1419.4L312.7 1419.7L314.7 1420L316.7 1420.3L318.7 1420.7L320.7 1421L322.7 1421.3L324.7 1421.6L326.7 1421.9L328.7 1422.2L330.7 1422.4L332.7 1422.7L334.7 1423L336.7 1423.2L338.7 1423.5L340.7 1423.7L342.7 1424L344.7 1424.2L346.7 1424.4L348.7 1424.7L350.7 1424.9L352.7 1425.1L354.7 1425.3L356.7 1425.5L358.7 1425.7L360.7 1425.9L362.7 1426.1L364.7 1426.3L366.7 1426.4L368.7 1426.6L370.7 1426.8L372.7 1427L374.7 1427.1L376.7 1427.3L378.7 1427.5L380.7 1427.6L382.7 1427.8L384.7 1427.9L386.7 1428.1" fill="none" stroke="#ee1c2e" stroke-width="2.4" stroke-linejoin="round" stroke-linecap="round"/>
<path d="M204.7 1419.5L206.7 1419.6L208.7 1419.7L210.7 1419.8L212.7 1419.9L214.7 1420L216.7 1420.1L218.7 1420.2L220.7 1420.2L222.7 1420.3L224.7 1420.4L226.7 1420.5L228.7 1420.5L230.7 1420.6L232.7 1420.6L234.7 1420.7L236.7 1420.7L238.7 1420.8L240.7 1420.8L242.7 1420.8L244.7 1420.8L246.7 1420.9L248.7 1420.9L250.7 1420.9L252.7 1420.9L254.7 1420.9L256.7 1420.9L258.7 1420.8L260.7 1420.8L262.7 1420.8L264.7 1420.7L266.7 1420.7L268.7 1420.6L270.7 1420.5L272.7 1420.5L274.7 1420.4L276.7 1420.3L278.7 1420.2L280.7 1420.1L282.7 1419.9L284.7 1419.8L286.7 1419.7L288.7 1419.5L290.7 1419.4L292.7 1419.2L294.7 1419L296.7 1418.8L298.7 1418.6L300.7 1418.4L302.7 1418.1L304.7 1417.9L306.7 1417.7L308.7 1417.4L310.7 1417.1L312.7 1416.8L314.7 1416.5L316.7 1416.2L318.7 1415.9L320.7 1415.6L322.7 1415.2L324.7 1414.9L326.7 1414.5L328.7 1414.2L330.7 1413.8L332.7 1413.4L334.7 1413L336.7 1412.6L338.7 1412.2L340.7 1411.8L342.7 1411.4L344.7 1411L346.7 1410.6L348.7 1410.1L350.7 1409.7L352.7 1409.3L354.7 1408.9L356.7 1408.4L358.7 1408L360.7 1407.6L362.7 1407.2L364.7 1406.8L366.7 1406.4L368.7 1406L370.7 1405.6L372.7 1405.2L374.7 1404.8L376.7 1404.5L378.7 1404.1L380.7 1403.8L382.7 1403.5L384.7 1403.2L386.7 1402.9L388.7 1402.6L390.7 1402.4L392.7 1402.1L394.7 1401.9L396.7 1401.7L398.7 1401.6L400.7 1401.4L402.7 1401.3L404.7 1401.2L406.7 1401.1L408.7 1401L410.7 1401L412.7 1401L414.7 1401L416.7 1401.1L418.7 1401.1L420.7 1401.2L422.7 1401.3L424.7 1401.5L426.7 1401.6L428.7 1401.8L430.7 1402L432.7 1402.3L434.7 1402.5L436.7 1402.8L438.7 1403.1L440.7 1403.5L442.7 1403.8L444.7 1404.2L446.7 1404.6L448.7 1405L450.7 1405.4L452.7 1405.9L454.7 1406.3L456.7 1406.8L458.7 1407.3L460.7 1407.8L462.7 1408.3L464.7 1408.9L466.7 1409.4L468.7 1410L470.7 1410.5L472.7 1411.1L474.7 1411.6L476.7 1412.2L478.7 1412.8L480.7 1413.4L482.7 1414L484.7 1414.6L486.7 1415.1L488.7 1415.7L490.7 1416.3L492.7 1416.9L494.7 1417.4L496.7 1418L498.7 1418.6L500.7 1419.1L502.7 1419.7L504.7 1420.2L506.7 1420.8L508.7 1421.3L510.7 1421.8L512.7 1422.3L514.7 1422.8L516.7 1423.3L518.7 1423.7L520.7 1424.2L522.7 1424.7L524.7 1425.1L526.7 1425.5L528.7 1425.9L530.7 1426.3L532.7 1426.7L534.7 1427.1L536.7 1427.5L538.7 1427.8L540.7 1428.2L542.7 1428.5L544.7 1428.8L546.7 1429.1L548.7 1429.4L550.7 1429.7L552.7 1430L554.7 1430.2L556.7 1430.5L558.7 1430.7L560.7 1431L562.7 1431.2L564.7 1431.4L566.7 1431.6L568.7 1431.8L570.7 1432L572.7 1432.2L574.7 1432.4L576.7 1432.5L578.7 1432.7L580.7 1432.8L582.7 1433L584.7 1433.1L586.7 1433.2L588.7 1433.4L590.7 1433.5L592.7 1433.6L594.7 1433.7L596.7 1433.8L598.7 1433.9L600.7 1434L602.7 1434.1L604.7 1434.2L606.7 1434.3L608.7 1434.4L610.7 1434.4L612.7 1434.5L614.7 1434.6L616.7 1434.6L618.7 1434.7L620.7 1434.8L622.7 1434.8L624.7 1434.9L626.7 1434.9L628.7 1435L630.7 1435L632.7 1435.1L634.7 1435.1L636.7 1435.2" fill="none" stroke="#f6a81c" stroke-width="2.4" stroke-linejoin="round" stroke-linecap="round"/>
<path d="M355.9 1426.3L357.9 1426.4L359.9 1426.5L361.9 1426.6L363.9 1426.7L365.9 1426.8L367.9 1426.9L369.9 1427L371.9 1427.1L373.9 1427.2L375.9 1427.3L377.9 1427.3L379.9 1427.4L381.9 1427.5L383.9 1427.6L385.9 1427.6L387.9 1427.7L389.9 1427.8L391.9 1427.8L393.9 1427.9L395.9 1427.9L397.9 1427.9L399.9 1427.9L401.9 1427.9L403.9 1427.9L405.9 1427.9L407.9 1427.8L409.9 1427.7L411.9 1427.6L413.9 1427.5L415.9 1427.4L417.9 1427.2L419.9 1427L421.9 1426.8L423.9 1426.5L425.9 1426.2L427.9 1425.9L429.9 1425.5L431.9 1425.1L433.9 1424.6L435.9 1424.1L437.9 1423.6L439.9 1423L441.9 1422.3L443.9 1421.6L445.9 1420.9L447.9 1420.1L449.9 1419.2L451.9 1418.3L453.9 1417.4L455.9 1416.4L457.9 1415.3L459.9 1414.2L461.9 1413L463.9 1411.8L465.9 1410.6L467.9 1409.3L469.9 1408L471.9 1406.6L473.9 1405.2L475.9 1403.8L477.9 1402.3L479.9 1400.8L481.9 1399.4L483.9 1397.9L485.9 1396.4L487.9 1394.9L489.9 1393.5L491.9 1392.1L493.9 1390.7L495.9 1389.3L497.9 1388L499.9 1386.8L501.9 1385.6L503.9 1384.5L505.9 1383.5L507.9 1382.6L509.9 1381.7L511.9 1381L513.9 1380.4L515.9 1379.8L517.9 1379.5L519.9 1379.2L521.9 1379L523.9 1379L525.9 1379.1L527.9 1379.4L529.9 1379.7L531.9 1380.2L533.9 1380.8L535.9 1381.5L537.9 1382.3L539.9 1383.3L541.9 1384.3L543.9 1385.4L545.9 1386.6L547.9 1387.9L549.9 1389.2L551.9 1390.6L553.9 1392L555.9 1393.5L557.9 1395.1L559.9 1396.6L561.9 1398.2L563.9 1399.7L565.9 1401.3L567.9 1402.9L569.9 1404.4L571.9 1406L573.9 1407.5L575.9 1409L577.9 1410.5L579.9 1411.9L581.9 1413.3L583.9 1414.7L585.9 1416L587.9 1417.2L589.9 1418.4L591.9 1419.6L593.9 1420.7L595.9 1421.8L597.9 1422.8L599.9 1423.7L601.9 1424.6L603.9 1425.5L605.9 1426.3L607.9 1427L609.9 1427.7L611.9 1428.3L613.9 1429L615.9 1429.5L617.9 1430L619.9 1430.5L621.9 1431L623.9 1431.4L625.9 1431.8L627.9 1432.1L629.9 1432.4L631.9 1432.7L633.9 1433L635.9 1433.2L637.9 1433.5L639.9 1433.7L641.9 1433.9L643.9 1434L645.9 1434.2L647.9 1434.3L649.9 1434.4L651.9 1434.6L653.9 1434.7L655.9 1434.8L657.9 1434.8L659.9 1434.9L661.9 1435L663.9 1435.1L665.9 1435.1L667.9 1435.2L669.9 1435.2L671.9 1435.3L673.9 1435.3L675.9 1435.4L677.9 1435.4L679.9 1435.4L681.9 1435.5L683.9 1435.5L685.9 1435.5L687.9 1435.6L689.9 1435.6L691.9 1435.6" fill="none" stroke="#6f35a0" stroke-width="2.4" stroke-linejoin="round" stroke-linecap="round"/>
<path d="M419.2 1429.8L421.2 1429.9L423.2 1430L425.2 1430.1L427.2 1430.1L429.2 1430.2L431.2 1430.3L433.2 1430.3L435.2 1430.4L437.2 1430.4L439.2 1430.5L441.2 1430.5L443.2 1430.6L445.2 1430.6L447.2 1430.7L449.2 1430.7L451.2 1430.7L453.2 1430.8L455.2 1430.8L457.2 1430.8L459.2 1430.9L461.2 1430.9L463.2 1430.9L465.2 1431L467.2 1431L469.2 1431L471.2 1431L473.2 1431L475.2 1431L477.2 1431L479.2 1431L481.2 1431L483.2 1431L485.2 1430.9L487.2 1430.9L489.2 1430.8L491.2 1430.7L493.2 1430.5L495.2 1430.3L497.2 1430.1L499.2 1429.8L501.2 1429.5L503.2 1429.1L505.2 1428.6L507.2 1428L509.2 1427.2L511.2 1426.4L513.2 1425.4L515.2 1424.2L517.2 1422.9L519.2 1421.3L521.2 1419.5L523.2 1417.5L525.2 1415.2L527.2 1412.7L529.2 1409.8L531.2 1406.6L533.2 1403.2L535.2 1399.4L537.2 1395.2L539.2 1390.8L541.2 1386.1L543.2 1381.1L545.2 1375.9L547.2 1370.4L549.2 1364.8L551.2 1359L553.2 1353.2L555.2 1347.3L557.2 1341.5L559.2 1335.9L561.2 1330.4L563.2 1325.2L565.2 1320.4L567.2 1316L569.2 1312.1L571.2 1308.8L573.2 1306.1L575.2 1304.1L577.2 1302.9L579.2 1302.4L581.2 1302.7L583.2 1303.8L585.2 1305.6L587.2 1308.1L589.2 1311.3L591.2 1315.1L593.2 1319.4L595.2 1324.2L597.2 1329.3L599.2 1334.8L601.2 1340.5L603.2 1346.3L605.2 1352.2L607.2 1358.2L609.2 1364L611.2 1369.8L613.2 1375.4L615.2 1380.8L617.2 1385.9L619.2 1390.8L621.2 1395.4L623.2 1399.7L625.2 1403.6L627.2 1407.3L629.2 1410.6L631.2 1413.7L633.2 1416.4L635.2 1418.9L637.2 1421L639.2 1423L641.2 1424.7L643.2 1426.2L645.2 1427.5L647.2 1428.6L649.2 1429.6L651.2 1430.4L653.2 1431.1L655.2 1431.7L657.2 1432.2L659.2 1432.7L661.2 1433L663.2 1433.3L665.2 1433.6L667.2 1433.8L669.2 1434L671.2 1434.2L673.2 1434.3L675.2 1434.5L677.2 1434.6L679.2 1434.7L681.2 1434.8L683.2 1434.8L685.2 1434.9L687.2 1435L689.2 1435L691.2 1435.1L693.2 1435.1L695.2 1435.2L697.2 1435.2L699.2 1435.3L701.2 1435.3L703.2 1435.3L705.2 1435.4L707.2 1435.4L709.2 1435.4L711.2 1435.5L713.2 1435.5L715.2 1435.5L717.2 1435.6L719.2 1435.6L721.2 1435.6L723.2 1435.6L725.2 1435.7L727.2 1435.7L729.2 1435.7L731.2 1435.7L733.2 1435.7L735.2 1435.8L737.2 1435.8L739.2 1435.8" fill="none" stroke="#2f76c9" stroke-width="2.4" stroke-linejoin="round" stroke-linecap="round"/>
<path d="M483.4 1431.8L485.4 1431.8L487.4 1431.8L489.4 1431.9L491.4 1431.9L493.4 1431.9L495.4 1431.9L497.4 1432L499.4 1432L501.4 1432L503.4 1432L505.4 1432.1L507.4 1432.1L509.4 1432.1L511.4 1432.1L513.4 1432.1L515.4 1432.1L517.4 1432.1L519.4 1432.1L521.4 1432.1L523.4 1432.1L525.4 1432L527.4 1432L529.4 1431.9L531.4 1431.8L533.4 1431.7L535.4 1431.6L537.4 1431.4L539.4 1431.1L541.4 1430.8L543.4 1430.4L545.4 1429.8L547.4 1429.1L549.4 1428.3L551.4 1427.2L553.4 1425.9L555.4 1424.2L557.4 1422.2L559.4 1419.8L561.4 1416.9L563.4 1413.5L565.4 1409.5L567.4 1404.8L569.4 1399.5L571.4 1393.5L573.4 1386.7L575.4 1379.2L577.4 1371.1L579.4 1362.2L581.4 1352.8L583.4 1342.9L585.4 1332.6L587.4 1322.2L589.4 1311.7L591.4 1301.4L593.4 1291.5L595.4 1282.2L597.4 1273.8L599.4 1266.5L601.4 1260.5L603.4 1255.9L605.4 1253.1L607.4 1251.9L609.4 1252.5L611.4 1254.9L613.4 1259L615.4 1264.6L617.4 1271.6L619.4 1279.8L621.4 1288.8L623.4 1298.6L625.4 1308.9L627.4 1319.4L629.4 1329.9L631.4 1340.3L633.4 1350.4L635.4 1360.1L637.4 1369.2L639.4 1377.7L641.4 1385.4L643.4 1392.5L645.4 1398.8L647.4 1404.4L649.4 1409.3L651.4 1413.6L653.4 1417.3L655.4 1420.4L657.4 1423L659.4 1425.2L661.4 1427L663.4 1428.5L665.4 1429.7L667.4 1430.7L669.4 1431.5L671.4 1432.1L673.4 1432.6L675.4 1433.1L677.4 1433.4L679.4 1433.7L681.4 1433.9L683.4 1434.1L685.4 1434.2L687.4 1434.4L689.4 1434.5L691.4 1434.6L693.4 1434.7L695.4 1434.8L697.4 1434.8L699.4 1434.9L701.4 1435L703.4 1435L705.4 1435.1L707.4 1435.1L709.4 1435.2L711.4 1435.2L713.4 1435.3L715.4 1435.3L717.4 1435.4L719.4 1435.4L721.4 1435.4L723.4 1435.5L725.4 1435.5L727.4 1435.5L729.4 1435.6L731.4 1435.6" fill="none" stroke="#1f2547" stroke-width="2.4" stroke-linejoin="round" stroke-linecap="round"/>
<path d="M505 1432.6L507 1432.6L509 1432.7L511 1432.7L513 1432.7L515 1432.8L517 1432.8L519 1432.8L521 1432.9L523 1432.9L525 1432.9L527 1432.9L529 1432.9L531 1432.9L533 1432.9L535 1432.9L537 1432.9L539 1432.9L541 1432.8L543 1432.8L545 1432.7L547 1432.6L549 1432.5L551 1432.4L553 1432.2L555 1432L557 1431.8L559 1431.5L561 1431.1L563 1430.7L565 1430.3L567 1429.7L569 1429.1L571 1428.5L573 1427.7L575 1426.8L577 1425.8L579 1424.7L581 1423.5L583 1422.2L585 1420.7L587 1419.2L589 1417.5L591 1415.6L593 1413.6L595 1411.5L597 1409.3L599 1407L601 1404.5L603 1402L605 1399.4L607 1396.7L609 1394L611 1391.3L613 1388.6L615 1385.9L617 1383.3L619 1380.8L621 1378.3L623 1376.1L625 1373.9L627 1372L629 1370.3L631 1368.9L633 1367.8L635 1366.9L637 1366.3L639 1366.1L641 1366.1L643 1366.5L645 1367.2L647 1368.2L649 1369.5L651 1371L653 1372.8L655 1374.9L657 1377.1L659 1379.4L661 1381.9L663 1384.5L665 1387.2L667 1390L669 1392.7L671 1395.5L673 1398.2L675 1400.9L677 1403.6L679 1406.1L681 1408.6L683 1410.9L685 1413.2L687 1415.3L689 1417.3L691 1419.1L693 1420.9L695 1422.5L697 1423.9L699 1425.3L701 1426.5L703 1427.6L705 1428.6L707 1429.5L709 1430.3L711 1431L713 1431.6L715 1432.2L717 1432.7L719 1433.1L721 1433.5L723 1433.8L725 1434.1L727 1434.3L729 1434.5L731 1434.7L733 1434.9L735 1435L737 1435.1L739 1435.2L741 1435.3L743 1435.4L745 1435.5L747 1435.5" fill="none" stroke="#1fa54e" stroke-width="2.4" stroke-linejoin="round" stroke-linecap="round"/>
<path d="M42.7 1412.7L45.7 1412.8L48.7 1412.9L51.7 1413L54.7 1413L57.7 1413.1L60.7 1413.2L63.7 1413.3L66.7 1413.4L69.7 1413.5L72.7 1413.6L75.7 1413.7L78.7 1413.8L81.7 1413.9L84.7 1414.1L87.7 1414.2L90.7 1414.3L93.7 1414.4L96.7 1414.5L99.7 1414.6L102.7 1414.7L105.7 1414.9L108.7 1415L111.7 1415.1L114.7 1415.2L117.7 1415.4L120.7 1415.5L123.7 1415.6L126.7 1415.7L129.7 1415.9L132.7 1416L135.7 1416.1L138.7 1416.3L141.7 1416.4L144.7 1416.5L147.7 1416.7L150.7 1416.8L153.7 1417L156.7 1417.1L159.7 1417.3L162.7 1417.5L165.7 1417.6L168.7 1417.8L171.7 1418L174.7 1418.1L177.7 1418.3L180.7 1418.5L183.7 1418.7L186.7 1418.9L189.7 1419.1L192.7 1419.2L195.7 1419.4L198.7 1419.6L201.7 1419.8L204.7 1420L207.7 1420.2L210.7 1420.3L213.7 1420.5L216.7 1420.7L219.7 1420.8L222.7 1421L225.7 1421.2L228.7 1421.3L231.7 1421.5L234.7 1421.6L237.7 1421.8L240.7 1421.9L243.7 1422.1L246.7 1422.2L249.7 1422.3L252.7 1422.5L255.7 1422.6L258.7 1422.7L261.7 1422.8L264.7 1423L267.7 1423.1L270.7 1423.2L273.7 1423.3L276.7 1423.5L279.7 1423.6L282.7 1423.7L285.7 1423.8L288.7 1423.9L291.7 1424.1L294.7 1424.2L297.7 1424.3L300.7 1424.4L303.7 1424.5L306.7 1424.6L309.7 1424.8L312.7 1424.9L315.7 1425L318.7 1425.1L321.7 1425.3L324.7 1425.4L327.7 1425.5L330.7 1425.6L333.7 1425.8L336.7 1425.9L339.7 1426L342.7 1426.2L345.7 1426.3L348.7 1426.4L351.7 1426.6L354.7 1426.7L357.7 1426.9L360.7 1427L363.7 1427.2L366.7 1427.4L369.7 1427.5L372.7 1427.7L375.7 1427.9L378.7 1428.1L381.7 1428.3L384.7 1428.4L387.7 1428.6L390.7 1428.8L393.7 1429L396.7 1429.1L399.7 1429.3L402.7 1429.5L405.7 1429.6L408.7 1429.8L411.7 1430L414.7 1430.1L417.7 1430.3L420.7 1430.4L423.7 1430.5L426.7 1430.7L429.7 1430.8L432.7 1430.9L435.7 1431L438.7 1431.1L441.7 1431.2L444.7 1431.3L447.7 1431.4L450.7 1431.5L453.7 1431.6L456.7 1431.6L459.7 1431.7L462.7 1431.8L465.7 1431.9L468.7 1432L471.7 1432.1L474.7 1432.2L477.7 1432.3L480.7 1432.4L483.7 1432.4L486.7 1432.5L489.7 1432.6L492.7 1432.7L495.7 1432.8L498.7 1432.9L501.7 1432.9L504.7 1433L507.7 1433.1L510.7 1433.2L513.7 1433.3L516.7 1433.3L519.7 1433.4L522.7 1433.5L525.7 1433.6L528.7 1433.6L531.7 1433.7L534.7 1433.8L537.7 1433.9L540.7 1433.9L543.7 1434L546.7 1434.1L549.7 1434.1L552.7 1434.2L555.7 1434.2L558.7 1434.3L561.7 1434.4L564.7 1434.4L567.7 1434.5L570.7 1434.5L573.7 1434.6L576.7 1434.6L579.7 1434.7L582.7 1434.8L585.7 1434.8L588.7 1434.9L591.7 1434.9L594.7 1435L597.7 1435L600.7 1435.1L603.7 1435.1L606.7 1435.2L609.7 1435.2L612.7 1435.3L615.7 1435.3L618.7 1435.4L621.7 1435.4L624.7 1435.5L627.7 1435.5L630.7 1435.5L633.7 1435.6L636.7 1435.6L639.7 1435.6L642.7 1435.7L645.7 1435.7L648.7 1435.7L651.7 1435.8L654.7 1435.8L657.7 1435.8L660.7 1435.8L663.7 1435.9L666.7 1435.9L669.7 1435.9L672.7 1435.9L675.7 1436L678.7 1436L681.7 1436L684.7 1436L687.7 1436L690.7 1436.1L693.7 1436.1L696.7 1436.1L699.7 1436.1L702.7 1436.1L705.7 1436.2L708.7 1436.2L711.7 1436.2L714.7 1436.2L717.7 1436.2L720.7 1436.2L723.7 1436.2L726.7 1436.3L729.7 1436.3L732.7 1436.3L735.7 1436.3L738.7 1436.3L741.7 1436.3L744.7 1436.3L747.2 1436.3L747.2 1436.3" fill="none" stroke="#0a0a0a" stroke-width="2.6" stroke-linejoin="round" stroke-linecap="round"/>
<rect x="44.9" y="9.2" width="703.8" height="361" fill="none" stroke="#4a4a4a" stroke-width="1.7"/>
<rect x="44.9" y="370.2" width="705.1" height="362.9" fill="none" stroke="#4a4a4a" stroke-width="1.7"/>
<rect x="43.3" y="733.1" width="705.7" height="359.7" fill="none" stroke="#4a4a4a" stroke-width="1.7"/>
<line x1="43.3" y1="1056" x2="749" y2="1056" stroke="#4a4a4a" stroke-width="1.7"/>
<rect x="43.2" y="1092.8" width="706.1" height="346.6" fill="none" stroke="#4a4a4a" stroke-width="1.7"/>
<line x1="43.2" y1="1439.4" x2="43.2" y2="1445.6" stroke="#4a4a4a" stroke-width="1.7"/>
<line x1="219.7" y1="1439.4" x2="219.7" y2="1445.6" stroke="#4a4a4a" stroke-width="1.7"/>
<line x1="396.2" y1="1439.4" x2="396.2" y2="1445.6" stroke="#4a4a4a" stroke-width="1.7"/>
<line x1="572.8" y1="1439.4" x2="572.8" y2="1445.6" stroke="#4a4a4a" stroke-width="1.7"/>
<line x1="749.3" y1="1439.4" x2="749.3" y2="1445.6" stroke="#4a4a4a" stroke-width="1.7"/>
<path d="M844 358.1L846 357.7L848 357.2L850 356.5L852 355.9L854 355.2L856 354.5L858 353.7L860 353L862 352.2L864 351.5L866 350.7L868 349.9L870 349.1L872 348.3L874 347.4L876 346.6L878 345.7L880 344.9L882 343.9L884 343L886 341.9L888 340.9L890 339.7L892 338.6L894 337.5L896 336.4L898 335.4L900 334.4L902 333.5L904 332.7L906 332L908 331.4L910 330.8L912 330.2L914 329.7L916 329.1L918 328.6L920 328.2L922 327.8L924 327.4L926 327.2L928 327L930 326.8L932 326.8L934 326.8L936 327L938 327.1L940 327.4L942 327.6L944 327.9L946 328.2L948 328.5L950 328.7L952 328.9L954 329.1L956 329.2L958 329.2L960 329.2L962 329.1L964 329L966 328.8L968 328.6L970 328.3L972 328L974 327.5L976 326.9L978 326.2L980 325.3L982 324.2L984 322.9L986 321.6L988 320L990 318.3L992 316.2L994 313.9L996 311.2L998 308.4L1000 305.3L1002 302.2L1004 299L1006 295.8L1008 292.6L1010 289.4L1012 286.1L1014 282.8L1016 279.4L1018 275.9L1020 272.4L1022 268.8L1024 265.1L1026 261.3L1028 257.5L1030 253.7L1032 249.8L1034 245.8L1036 241.7L1038 237.5L1040 233.2L1042 228.8L1044 224.4L1046 219.9L1048 215.3L1050 210.8L1052 206.3L1054 201.8L1056 197.4L1058 193.1L1060 188.8L1062 184.6L1064 180.4L1066 176.3L1068 172.4L1070 168.6L1072 165.1L1074 161.8L1076 158.8L1078 155.9L1080 153.1L1082 150.5L1084 148L1086 145.7L1088 143.4L1090 141.3L1092 139.3L1094 137.4L1096 135.7L1098 134.2L1100 132.8L1102 131.6L1104 130.4L1106 129.2L1108 128L1110 126.8L1112 125.4L1114 124.1L1116 122.6L1118 121.2L1120 119.7L1122 118.1L1124 116.5L1126 114.9L1128 113.2L1130 111.5L1132 109.7L1134 107.8L1136 105.9L1138 103.8L1140 101.6L1142 99.4L1144 97L1146 94.7L1148 92.3L1150 90L1152 87.6L1154 85.3L1156 83L1158 80.8L1160 78.7L1162 76.8L1164 75.2L1166 73.7L1168 72.3L1170 71.1L1172 70L1174 69L1176 68.2L1178 67.5L1180 67L1182 66.5L1184 66.1L1186 66L1188 66L1190 66.3L1192 66.8L1194 67.4L1196 68.2L1198 69L1200 70L1202 71L1204 72.2L1206 73.5L1208 75L1210 76.6L1212 78.3L1214 80.1L1216 82L1218 84L1220 86.2L1222 88.5L1224 90.9L1226 93.3L1228 95.9L1230 98.6L1232 101.4L1234 104.2L1236 107.1L1238 110L1240 112.8L1242 115.6L1244 118.4L1246 121.2L1248 124L1250 126.8L1252 129.8L1254 132.8L1256 135.9L1258 139L1260 142.2L1262 145.5L1264 148.9L1266 152.3L1268 155.8L1270 159.4L1272 163L1274 166.7L1276 170.3L1278 173.9L1280 177.6L1282 181.2L1284 184.8L1286 188.4L1288 192L1290 195.6L1292 199.2L1294 202.8L1296 206.3L1298 209.9L1300 213.5L1302 217.1L1304 220.7L1306 224.3L1308 227.9L1310 231.5L1312 235.1L1314 238.7L1316 242.4L1318 246L1320 249.7L1322 253.4L1324 257L1326 260.5L1328 263.8L1330 266.9L1332 269.9L1334 272.8L1336 275.5L1338 278.2L1340 280.9L1342 283.4L1344 285.9L1346 288.4L1348 290.8L1350 293.2L1352 295.4L1354 297.6L1356 299.8L1358 301.8L1360 303.9L1362 305.9L1364 307.8L1366 309.8L1368 311.8L1370 313.8L1372 315.8L1374 317.7L1376 319.7L1378 321.7L1380 323.7L1382 325.7L1384 327.7L1386 329.8L1388 331.8L1390 333.7L1392 335.7L1394 337.6L1396 339.5L1398 341.3L1400 343.1L1402 344.9L1404 346.5L1406 348.1L1408 349.7L1410 351.1L1412 352.5L1414 353.9L1416 355.1L1418 356.4L1420 357.5L1422 358.6L1424 359.7L1426 360.6L1428 361.5L1430 362.3L1432 363L1434 363.6L1436 364.2L1438 364.7L1440 365.3L1442 365.8L1444 366.2L1446 366.7L1448 367L1450 367.4L1452 367.7L1454 368L1456 368.2L1458 368.4L1460 368.6L1462 368.8L1464 369L1466 369.2L1468 369.3L1470 369.5L1472 369.6L1474 369.7L1476 369.8L1478 369.9L1480 370L1482 370L1484 370.1L1486 370.1L1488 370.2L1490 370.2L1492 370.2L1494 370.3L1496 370.3L1498 370.4L1500 370.4L1502 370.4L1504 370.5L1506 370.5L1508 370.5L1510 370.5L1512 370.6L1514 370.6L1516 370.6L1518 370.6L1520 370.7L1522 370.7L1524 370.7L1526 370.7L1528 370.7L1530 370.8L1532 370.8L1534 370.8L1536 370.8L1538 370.8L1540 370.8L1542 370.8L1544 370.8L1544.5 370.8" fill="none" stroke="#0a0a0a" stroke-width="2.4" stroke-linejoin="round" stroke-linecap="round"/>
<path d="M837 358.9C837.9 358.7 839.8 361.1 841.7 357.7C843.6 354.3 844.5 341.4 846.4 342C848.3 342.6 849.2 361 851.1 360.7C853 360.4 853.9 341.7 855.8 340.6C857.7 339.4 858.6 360.4 860.5 354.8C862.4 349.1 863.3 313.4 865.2 312.4C867.1 311.4 868 336 869.9 349.6C871.8 363.1 872.7 381.2 874.6 380.3C876.5 379.4 877.4 362.6 879.3 345.2C881.2 327.8 882.1 295.7 884 293.3C885.9 290.9 886.8 329.2 888.7 333.3C890.6 337.3 891.5 311.2 893.4 313.7C895.3 316.2 896.2 343.8 898.1 345.7C900 347.5 900.9 324.3 902.8 322.8C904.7 321.3 905.6 337.3 907.5 338.2C909.4 339.2 910.3 330.4 912.2 327.7C914.1 325.1 915 321.2 916.9 325.1C918.8 328.9 919.7 346.8 921.6 347C923.5 347.2 924.4 327 926.3 326.2C928.2 325.3 929.1 339.6 931 342.7C932.9 345.9 933.8 343.5 935.7 341.8C937.6 340.1 938.5 334.9 940.4 334.3C942.3 333.6 943.2 333.3 945.1 338.5C947 343.7 947.9 362.2 949.8 360.1C951.7 358 952.6 336 954.5 327.9C956.4 319.8 957.3 321.9 959.2 319.5C961.1 317.2 962 313 963.9 316.2C965.8 319.4 966.7 335.2 968.6 335.5C970.5 335.7 971.4 323.8 973.3 317.2C975.2 310.7 976.1 304.9 978 302.7C979.9 300.4 980.8 298.3 982.7 306.1C984.6 313.8 985.5 334 987.4 341.3C989.3 348.5 990.2 349.8 992.1 342.3C994 334.9 994.9 315.7 996.8 304.1C998.7 292.5 999.6 286 1001.5 284.3C1003.4 282.7 1004.3 298 1006.2 295.9C1008.1 293.7 1009 277.1 1010.9 273.6C1012.8 270.2 1013.7 272 1015.6 278.8C1017.5 285.6 1018.4 310.8 1020.3 307.6C1022.2 304.4 1023.1 281.7 1025 262.7C1026.9 243.6 1027.8 215.4 1029.7 212.3C1031.6 209.2 1032.5 248.2 1034.4 247.2C1036.3 246.2 1037.2 215.4 1039.1 207.5C1041 199.5 1041.9 204.5 1043.8 207.6C1045.7 210.6 1046.6 222.5 1048.5 222.6C1050.4 222.6 1051.3 210.6 1053.2 207.9C1055.1 205.2 1056 215.3 1057.9 208.9C1059.8 202.6 1060.7 178.9 1062.6 176.1C1064.5 173.4 1065.4 196.3 1067.3 195.1C1069.2 193.9 1070.1 179.8 1072 170.1C1073.9 160.4 1074.8 152 1076.7 146.5C1078.6 141.1 1079.5 144.8 1081.4 142.9C1083.3 141 1084.2 133 1086.1 137C1088 140.9 1088.9 165.7 1090.8 162.6C1092.7 159.6 1093.6 127.3 1095.5 121.8C1097.4 116.3 1098.3 137.6 1100.2 135.2C1102.1 132.8 1103 110.8 1104.9 110C1106.8 109.2 1107.7 133.4 1109.6 131.2C1111.5 128.9 1112.4 102.4 1114.3 98.7C1116.2 94.9 1117.1 111.3 1119 112.6C1120.9 114 1121.8 104.3 1123.7 105.5C1125.6 106.8 1126.5 116.9 1128.4 118.8C1130.3 120.6 1131.2 116.3 1133.1 114.8C1135 113.3 1135.9 117.5 1137.8 111.3C1139.7 105.1 1140.6 85.7 1142.5 83.8C1144.4 81.9 1145.3 100.5 1147.2 101.7C1149.1 102.8 1150 96.9 1151.9 89.5C1153.8 82.1 1154.7 68.7 1156.6 64.8C1158.5 60.8 1159.4 67.2 1161.3 69.7C1163.2 72.3 1164.1 78.2 1166 77.5C1167.9 76.9 1168.8 64 1170.7 66.4C1172.6 68.8 1173.5 87.8 1175.4 89.5C1177.3 91.2 1178.2 84.2 1180.1 74.8C1182 65.5 1182.9 46 1184.8 42.7C1186.7 39.4 1187.6 58.2 1189.5 58.4C1191.4 58.7 1192.3 46.9 1194.2 44C1196.1 41.1 1197 40.1 1198.9 44C1200.8 47.9 1201.7 55.2 1203.6 63.4C1205.5 71.6 1206.4 85.1 1208.3 85.1C1210.2 85.1 1211.1 59.8 1213 63.2C1214.9 66.5 1215.8 89.3 1217.7 101.7C1219.6 114 1220.5 127.6 1222.4 124.9C1224.3 122.3 1225.2 96.2 1227.1 88.4C1229 80.5 1229.9 83.8 1231.8 85.6C1233.7 87.4 1234.6 96.1 1236.5 97.3C1238.4 98.4 1239.3 88.8 1241.2 91.2C1243.1 93.7 1244 102.6 1245.9 109.5C1247.8 116.5 1248.7 128.3 1250.6 125.9C1252.5 123.5 1253.4 94.2 1255.3 97.6C1257.2 101 1258.1 128.9 1260 142.9C1261.9 157 1262.8 163.6 1264.7 167.8C1266.6 172 1267.5 169.7 1269.4 163.8C1271.3 158 1272.2 136.6 1274.1 138.3C1276 140 1276.9 164.3 1278.8 172.2C1280.7 180.2 1281.6 172.1 1283.5 178.2C1285.4 184.3 1286.3 205.5 1288.2 202.8C1290.1 200.1 1291 157.6 1292.9 164.8C1294.8 172 1295.7 225.6 1297.6 238.9C1299.5 252.3 1300.4 236.9 1302.3 231.5C1304.2 226.1 1305.1 209 1307 211.9C1308.9 214.7 1309.8 237.2 1311.7 245.8C1313.6 254.4 1314.5 255.3 1316.4 255C1318.3 254.7 1319.2 245.4 1321.1 244.1C1323 242.9 1323.9 246.2 1325.8 248.9C1327.7 251.6 1328.6 249.7 1330.5 257.4C1332.4 265.1 1333.3 284.9 1335.2 287.3C1337.1 289.7 1338 265.9 1339.9 269.4C1341.8 272.9 1342.7 297.5 1344.6 304.8C1346.5 312.2 1347.4 304.6 1349.3 306.1C1351.2 307.7 1352.1 314.3 1354 312.6C1355.9 310.9 1356.8 297.7 1358.7 297.6C1360.6 297.6 1361.5 306.8 1363.4 312.5C1365.3 318.2 1366.2 325.5 1368.1 326.2C1370 326.9 1370.9 314 1372.8 316.1C1374.7 318.2 1375.6 333.1 1377.5 336.6C1379.4 340.1 1380.3 333.8 1382.2 333.5C1384.1 333.3 1385 333.3 1386.9 335.3C1388.8 337.4 1389.7 339.9 1391.6 343.8C1393.5 347.7 1394.4 350.1 1396.3 354.8C1398.2 359.6 1399.1 372.1 1401 367.4C1402.9 362.7 1403.8 329.9 1405.7 331.4C1407.6 333 1408.5 370.8 1410.4 375.1C1412.3 379.5 1413.2 365 1415.1 353C1417 341.1 1417.9 313.2 1419.8 315.3C1421.7 317.4 1422.6 352 1424.5 363.6C1426.4 375.3 1427.3 373.3 1429.2 373.4C1431.1 373.5 1432 365.3 1433.9 364C1435.8 362.8 1436.7 374.3 1438.6 367.1C1440.5 359.9 1441.4 327.5 1443.3 328C1445.2 328.5 1446.1 360.4 1448 369.6C1449.9 378.9 1450.8 373.3 1452.7 374.2C1454.6 375.2 1455.5 378.4 1457.4 374.5C1459.3 370.6 1460.2 357.3 1462.1 354.5C1464 351.7 1464.9 357.7 1466.8 360.7C1468.7 363.8 1469.6 374.9 1471.5 369.7C1473.4 364.4 1474.3 332.5 1476.2 334.4C1478.1 336.3 1479 371.8 1480.9 379C1482.8 386.2 1483.7 373.8 1485.6 370.5C1487.5 367.2 1488.4 362.1 1490.3 362.4C1492.2 362.8 1493.1 370.6 1495 372.1C1496.9 373.6 1497.8 368.3 1499.7 369.9C1501.6 371.4 1502.5 380.6 1504.4 380C1506.3 379.4 1507.2 370.5 1509.1 366.8C1511 363 1511.9 360.2 1513.8 361.1C1515.7 362 1516.6 373.9 1518.5 371.1C1520.4 368.3 1521.3 347.1 1523.2 347.1C1525.1 347.1 1526 367.9 1527.9 371C1529.8 374.1 1530.7 363 1532.6 362.7C1534.5 362.4 1535.4 365.9 1537.3 369.4C1539.2 373 1541.1 378.3 1542 380.5" fill="none" stroke="#0a0a0a" stroke-width="2.5" stroke-linejoin="round" stroke-linecap="round"/>
<path d="M844 355.3L846 355L848 354.7L850 354.3L852 353.9L854 353.5L856 353.1L858 352.6L860 352.1L862 351.5L864 350.9L866 350.3L868 349.6L870 349L872 348.2L874 347.5L876 346.7L878 345.9L880 345.1L882 344.3L884 343.5L886 342.6L888 341.8L890 341L892 340.1L894 339.3L896 338.6L898 337.8L900 337.1L902 336.4L904 335.8L906 335.3L908 334.8L910 334.3L912 333.9L914 333.6L916 333.4L918 333.3L920 333.2L922 333.3L924 333.4L926 333.6L928 333.8L930 334.2L932 334.6L934 335.1L936 335.7L938 336.3L940 337L942 337.8L944 338.6L946 339.4L948 340.3L950 341.2L952 342.2L954 343.1L956 344.1L958 345.1L960 346L962 347L964 348L966 348.9L968 349.9L970 350.8L972 351.6L974 352.5L976 353.3L978 354.1L980 354.9L982 355.6L984 356.3L986 357L988 357.6L990 358.2L992 358.7L994 359.2L996 359.7L998 360.2L1000 360.6L1002 361L1004 361.3L1006 361.7L1008 362L1010 362.3L1012 362.5L1014 362.8L1016 363L1018 363.2L1020 363.4L1022 363.6L1024 363.8L1026 363.9L1028 364L1030 364.2L1032 364.3L1034 364.4" fill="none" stroke="#f6a81c" stroke-width="2.4" stroke-linejoin="round" stroke-linecap="round"/>
<path d="M844 357.8L846 357.9L848 357.9L850 358L852 358L854 358.1L856 358.1L858 358.2L860 358.3L862 358.3L864 358.4L866 358.4L868 358.5L870 358.5L872 358.6L874 358.6L876 358.7L878 358.7L880 358.7L882 358.8L884 358.8L886 358.8L888 358.9L890 358.9L892 358.9L894 358.9L896 358.9L898 358.9L900 358.9L902 358.9L904 358.9L906 358.9L908 358.8L910 358.8L912 358.7L914 358.6L916 358.6L918 358.4L920 358.3L922 358.2L924 358L926 357.8L928 357.6L930 357.4L932 357.1L934 356.8L936 356.5L938 356.2L940 355.8L942 355.3L944 354.8L946 354.3L948 353.7L950 353.1L952 352.4L954 351.7L956 350.9L958 350L960 349.1L962 348.1L964 347L966 345.8L968 344.6L970 343.2L972 341.8L974 340.3L976 338.7L978 337L980 335.2L982 333.2L984 331.2L986 329.1L988 326.9L990 324.5L992 322L994 319.5L996 316.8L998 314L1000 311.1L1002 308.1L1004 305L1006 301.7L1008 298.4L1010 295L1012 291.5L1014 287.9L1016 284.2L1018 280.4L1020 276.6L1022 272.7L1024 268.8L1026 264.8L1028 260.8L1030 256.7L1032 252.6L1034 248.6L1036 244.5L1038 240.5L1040 236.5L1042 232.6L1044 228.7L1046 224.8L1048 221.1L1050 217.5L1052 213.9L1054 210.5L1056 207.3L1058 204.2L1060 201.2L1062 198.4L1064 195.9L1066 193.5L1068 191.3L1070 189.4L1072 187.6L1074 186.1L1076 184.9L1078 183.9L1080 183.2L1082 182.7L1084 182.5L1086 182.5L1088 182.9L1090 183.4L1092 184.3L1094 185.4L1096 186.7L1098 188.3L1100 190.1L1102 192.2L1104 194.5L1106 196.9L1108 199.6L1110 202.5L1112 205.6L1114 208.8L1116 212.1L1118 215.6L1120 219.3L1122 223L1124 226.9L1126 230.8L1128 234.8L1130 238.9L1132 243L1134 247.1L1136 251.3L1138 255.4L1140 259.6L1142 263.7L1144 267.9L1146 272L1148 276L1150 280L1152 284L1154 287.8L1156 291.6L1158 295.3L1160 299L1162 302.5L1164 305.9L1166 309.3L1168 312.5L1170 315.6L1172 318.6L1174 321.5L1176 324.3L1178 327L1180 329.6L1182 332L1184 334.4L1186 336.6L1188 338.8L1190 340.8L1192 342.7L1194 344.5L1196 346.2L1198 347.9L1200 349.4L1202 350.8L1204 352.2L1206 353.4L1208 354.6L1210 355.7L1212 356.8L1214 357.7L1216 358.6L1218 359.5L1220 360.2L1222 361L1224 361.6L1226 362.2L1228 362.8L1230 363.3L1232 363.8L1234 364.3L1236 364.7L1238 365L1240 365.4L1242 365.7L1244 366L1246 366.3L1248 366.5L1250 366.7L1252 366.9L1254 367.1L1256 367.3L1258 367.4L1260 367.6L1262 367.7L1264 367.8L1266 367.9L1268 368L1270 368.1L1272 368.2L1274 368.3L1276 368.4L1278 368.4L1280 368.5L1282 368.5L1284 368.6L1286 368.6L1288 368.7L1290 368.7L1292 368.8L1294 368.8L1296 368.8L1298 368.9L1300 368.9L1302 368.9L1304 368.9L1306 369L1308 369L1310 369L1312 369L1314 369.1L1316 369.1L1318 369.1L1320 369.1L1322 369.1L1324 369.2L1326 369.2L1328 369.2L1330 369.2L1332 369.2L1334 369.3L1336 369.3L1338 369.3L1340 369.3L1342 369.3L1344 369.3L1346 369.4L1348 369.4L1350 369.4L1352 369.4L1354 369.4L1356 369.4L1358 369.5L1360 369.5L1362 369.5L1364 369.5L1366 369.5L1368 369.5L1370 369.6L1372 369.6L1374 369.6L1376 369.6L1378 369.6L1380 369.6L1382 369.6L1384 369.7L1386 369.7L1388 369.7L1390 369.7" fill="none" stroke="#6f35a0" stroke-width="2.4" stroke-linejoin="round" stroke-linecap="round"/>
<path d="M890.2 359.6L892.2 359.7L894.2 359.8L896.2 359.8L898.2 359.9L900.2 360L902.2 360L904.2 360.1L906.2 360.2L908.2 360.2L910.2 360.3L912.2 360.3L914.2 360.4L916.2 360.5L918.2 360.5L920.2 360.6L922.2 360.6L924.2 360.7L926.2 360.8L928.2 360.8L930.2 360.9L932.2 360.9L934.2 361L936.2 361L938.2 361.1L940.2 361.2L942.2 361.2L944.2 361.3L946.2 361.3L948.2 361.4L950.2 361.4L952.2 361.5L954.2 361.5L956.2 361.6L958.2 361.6L960.2 361.7L962.2 361.7L964.2 361.8L966.2 361.8L968.2 361.9L970.2 361.9L972.2 362L974.2 362L976.2 362.1L978.2 362.1L980.2 362.1L982.2 362.2L984.2 362.2L986.2 362.3L988.2 362.3L990.2 362.3L992.2 362.3L994.2 362.4L996.2 362.4L998.2 362.4L1000.2 362.4L1002.2 362.4L1004.2 362.4L1006.2 362.4L1008.2 362.4L1010.2 362.4L1012.2 362.4L1014.2 362.3L1016.2 362.3L1018.2 362.2L1020.2 362.2L1022.2 362.1L1024.2 362L1026.2 361.9L1028.2 361.7L1030.2 361.6L1032.2 361.4L1034.2 361.2L1036.2 361L1038.2 360.7L1040.2 360.4L1042.2 360.1L1044.2 359.7L1046.2 359.3L1048.2 358.8L1050.2 358.3L1052.2 357.7L1054.2 357.1L1056.2 356.4L1058.2 355.6L1060.2 354.8L1062.2 353.8L1064.2 352.8L1066.2 351.7L1068.2 350.5L1070.2 349.2L1072.2 347.8L1074.2 346.3L1076.2 344.7L1078.2 342.9L1080.2 341L1082.2 339L1084.2 336.9L1086.2 334.5L1088.2 332.1L1090.2 329.5L1092.2 326.7L1094.2 323.8L1096.2 320.7L1098.2 317.4L1100.2 314L1102.2 310.4L1104.2 306.6L1106.2 302.7L1108.2 298.6L1110.2 294.3L1112.2 289.9L1114.2 285.3L1116.2 280.6L1118.2 275.7L1120.2 270.7L1122.2 265.5L1124.2 260.3L1126.2 254.9L1128.2 249.5L1130.2 243.9L1132.2 238.3L1134.2 232.7L1136.2 227L1138.2 221.3L1140.2 215.7L1142.2 210L1144.2 204.4L1146.2 198.8L1148.2 193.4L1150.2 188L1152.2 182.8L1154.2 177.7L1156.2 172.8L1158.2 168.1L1160.2 163.6L1162.2 159.3L1164.2 155.3L1166.2 151.6L1168.2 148.2L1170.2 145.1L1172.2 142.3L1174.2 139.9L1176.2 137.8L1178.2 136.1L1180.2 134.7L1182.2 133.8L1184.2 133.3L1186.2 133.1L1188.2 133.4L1190.2 134L1192.2 135.1L1194.2 136.5L1196.2 138.3L1198.2 140.5L1200.2 143L1202.2 145.9L1204.2 149.1L1206.2 152.6L1208.2 156.4L1210.2 160.5L1212.2 164.8L1214.2 169.4L1216.2 174.2L1218.2 179.2L1220.2 184.3L1222.2 189.6L1224.2 195.1L1226.2 200.6L1228.2 206.2L1230.2 211.9L1232.2 217.6L1234.2 223.4L1236.2 229.1L1238.2 234.8L1240.2 240.5L1242.2 246.2L1244.2 251.8L1246.2 257.3L1248.2 262.7L1250.2 268L1252.2 273.2L1254.2 278.2L1256.2 283.2L1258.2 288L1260.2 292.6L1262.2 297.1L1264.2 301.4L1266.2 305.6L1268.2 309.5L1270.2 313.4L1272.2 317L1274.2 320.5L1276.2 323.8L1278.2 327L1280.2 330L1282.2 332.8L1284.2 335.5L1286.2 338L1288.2 340.3L1290.2 342.6L1292.2 344.6L1294.2 346.6L1296.2 348.4L1298.2 350.1L1300.2 351.7L1302.2 353.1L1304.2 354.5L1306.2 355.7L1308.2 356.9L1310.2 358L1312.2 359L1314.2 359.9L1316.2 360.7L1318.2 361.5L1320.2 362.2L1322.2 362.8L1324.2 363.4L1326.2 363.9L1328.2 364.4L1330.2 364.8L1332.2 365.2L1334.2 365.6L1336.2 365.9L1338.2 366.2L1340.2 366.5L1342.2 366.8L1344.2 367L1346.2 367.2L1348.2 367.4L1350.2 367.5L1352.2 367.7L1354.2 367.8L1356.2 368L1358.2 368.1L1360.2 368.2L1362.2 368.3L1364.2 368.4L1366.2 368.4L1368.2 368.5L1370.2 368.6L1372.2 368.6L1374.2 368.7L1376.2 368.8L1378.2 368.8L1380.2 368.9L1382.2 368.9L1384.2 368.9L1386.2 369L1388.2 369L1390.2 369L1392.2 369.1L1394.2 369.1L1396.2 369.1L1398.2 369.2L1400.2 369.2L1402.2 369.2L1404.2 369.3L1406.2 369.3L1408.2 369.3L1410.2 369.3L1412.2 369.4L1414.2 369.4L1416.2 369.4L1418.2 369.4L1420.2 369.5L1422.2 369.5L1424.2 369.5L1426.2 369.5L1428.2 369.5L1430.2 369.6L1432.2 369.6L1434.2 369.6L1436.2 369.6L1438.2 369.6L1440.2 369.7L1442.2 369.7L1444.2 369.7L1446.2 369.7L1448.2 369.7L1450.2 369.7L1452.2 369.8L1454.2 369.8L1456.2 369.8L1458.2 369.8L1460.2 369.8L1462.2 369.9L1464.2 369.9L1466.2 369.9L1468.2 369.9L1470.2 369.9L1472.2 369.9L1474.2 369.9L1476.2 370L1478.2 370L1480.2 370" fill="none" stroke="#2f76c9" stroke-width="2.4" stroke-linejoin="round" stroke-linecap="round"/>
<path d="M1027.2 364.2L1029.2 364.3L1031.2 364.4L1033.2 364.4L1035.2 364.5L1037.2 364.5L1039.2 364.6L1041.2 364.6L1043.2 364.7L1045.2 364.7L1047.2 364.8L1049.2 364.8L1051.2 364.9L1053.2 364.9L1055.2 365L1057.2 365L1059.2 365.1L1061.2 365.1L1063.2 365.2L1065.2 365.2L1067.2 365.3L1069.2 365.3L1071.2 365.4L1073.2 365.4L1075.2 365.5L1077.2 365.5L1079.2 365.6L1081.2 365.6L1083.2 365.6L1085.2 365.7L1087.2 365.7L1089.2 365.7L1091.2 365.8L1093.2 365.8L1095.2 365.8L1097.2 365.8L1099.2 365.8L1101.2 365.8L1103.2 365.8L1105.2 365.8L1107.2 365.8L1109.2 365.8L1111.2 365.7L1113.2 365.7L1115.2 365.6L1117.2 365.6L1119.2 365.5L1121.2 365.4L1123.2 365.3L1125.2 365.1L1127.2 365L1129.2 364.8L1131.2 364.6L1133.2 364.3L1135.2 364.1L1137.2 363.8L1139.2 363.4L1141.2 363.1L1143.2 362.6L1145.2 362.2L1147.2 361.7L1149.2 361.1L1151.2 360.5L1153.2 359.8L1155.2 359.1L1157.2 358.2L1159.2 357.4L1161.2 356.4L1163.2 355.4L1165.2 354.3L1167.2 353.1L1169.2 351.8L1171.2 350.4L1173.2 348.9L1175.2 347.3L1177.2 345.6L1179.2 343.8L1181.2 341.9L1183.2 339.9L1185.2 337.7L1187.2 335.5L1189.2 333.1L1191.2 330.6L1193.2 328L1195.2 325.3L1197.2 322.5L1199.2 319.5L1201.2 316.5L1203.2 313.3L1205.2 310.1L1207.2 306.7L1209.2 303.3L1211.2 299.8L1213.2 296.2L1215.2 292.6L1217.2 288.9L1219.2 285.2L1221.2 281.5L1223.2 277.7L1225.2 273.9L1227.2 270.2L1229.2 266.4L1231.2 262.7L1233.2 259.1L1235.2 255.5L1237.2 252L1239.2 248.6L1241.2 245.4L1243.2 242.2L1245.2 239.2L1247.2 236.4L1249.2 233.8L1251.2 231.3L1253.2 229L1255.2 227L1257.2 225.2L1259.2 223.6L1261.2 222.3L1263.2 221.2L1265.2 220.4L1267.2 219.9L1269.2 219.6L1271.2 219.6L1273.2 219.9L1275.2 220.5L1277.2 221.3L1279.2 222.4L1281.2 223.7L1283.2 225.3L1285.2 227.1L1287.2 229.2L1289.2 231.5L1291.2 233.9L1293.2 236.6L1295.2 239.5L1297.2 242.5L1299.2 245.6L1301.2 248.9L1303.2 252.3L1305.2 255.8L1307.2 259.4L1309.2 263.1L1311.2 266.8L1313.2 270.5L1315.2 274.3L1317.2 278.1L1319.2 281.9L1321.2 285.7L1323.2 289.4L1325.2 293.1L1327.2 296.8L1329.2 300.4L1331.2 303.9L1333.2 307.4L1335.2 310.8L1337.2 314.1L1339.2 317.2L1341.2 320.3L1343.2 323.3L1345.2 326.2L1347.2 328.9L1349.2 331.6L1351.2 334.1L1353.2 336.5L1355.2 338.8L1357.2 341L1359.2 343.1L1361.2 345L1363.2 346.9L1365.2 348.6L1367.2 350.3L1369.2 351.8L1371.2 353.2L1373.2 354.6L1375.2 355.8L1377.2 357L1379.2 358.1L1381.2 359.1L1383.2 360L1385.2 360.9L1387.2 361.7L1389.2 362.4L1391.2 363.1L1393.2 363.7L1395.2 364.2L1397.2 364.8L1399.2 365.2L1401.2 365.7L1403.2 366.1L1405.2 366.4L1407.2 366.7L1409.2 367L1411.2 367.3L1413.2 367.5L1415.2 367.8L1417.2 367.9L1419.2 368.1L1421.2 368.3L1423.2 368.4L1425.2 368.6L1427.2 368.7L1429.2 368.8L1431.2 368.9L1433.2 369L1435.2 369.1L1437.2 369.1L1439.2 369.2L1441.2 369.3L1443.2 369.3L1445.2 369.4L1447.2 369.4L1449.2 369.5L1451.2 369.5L1453.2 369.6L1455.2 369.6L1457.2 369.6L1459.2 369.7L1461.2 369.7L1463.2 369.7L1465.2 369.7L1467.2 369.8L1469.2 369.8L1471.2 369.8L1473.2 369.8L1475.2 369.9L1477.2 369.9L1479.2 369.9L1481.2 369.9L1483.2 370L1485.2 370L1487.2 370L1489.2 370L1491.2 370L1493.2 370L1495.2 370.1L1497.2 370.1L1499.2 370.1L1501.2 370.1L1503.2 370.1L1505.2 370.1L1507.2 370.2L1509.2 370.2L1511.2 370.2L1513.2 370.2" fill="none" stroke="#1fa54e" stroke-width="2.4" stroke-linejoin="round" stroke-linecap="round"/>
<path d="M1253.5 369.2L1255.5 369.1L1257.5 369.1L1259.5 369L1261.5 368.9L1263.5 368.8L1265.5 368.7L1267.5 368.6L1269.5 368.5L1271.5 368.3L1273.5 368.2L1275.5 368L1277.5 367.7L1279.5 367.5L1281.5 367.2L1283.5 366.8L1285.5 366.5L1287.5 366L1289.5 365.6L1291.5 365.1L1293.5 364.5L1295.5 363.9L1297.5 363.3L1299.5 362.5L1301.5 361.8L1303.5 361L1305.5 360.1L1307.5 359.1L1309.5 358.2L1311.5 357.1L1313.5 356L1315.5 354.9L1317.5 353.7L1319.5 352.5L1321.5 351.3L1323.5 350L1325.5 348.8L1327.5 347.5L1329.5 346.2L1331.5 345L1333.5 343.7L1335.5 342.5L1337.5 341.4L1339.5 340.3L1341.5 339.2L1343.5 338.3L1345.5 337.4L1347.5 336.6L1349.5 336L1351.5 335.4L1353.5 335L1355.5 334.7L1357.5 334.5L1359.5 334.4L1361.5 334.5L1363.5 334.7L1365.5 335.1L1367.5 335.5L1369.5 336.1L1371.5 336.8L1373.5 337.6L1375.5 338.5L1377.5 339.5L1379.5 340.5L1381.5 341.6L1383.5 342.8L1385.5 344L1387.5 345.3L1389.5 346.5L1391.5 347.8L1393.5 349.1L1395.5 350.4L1397.5 351.7L1399.5 352.9L1401.5 354.1L1403.5 355.3L1405.5 356.5L1407.5 357.6L1409.5 358.6L1411.5 359.6L1413.5 360.6L1415.5 361.4L1417.5 362.3L1419.5 363.1L1421.5 363.8L1423.5 364.5L1425.5 365.1L1427.5 365.6L1429.5 366.1L1431.5 366.6L1433.5 367L1435.5 367.4L1437.5 367.8L1439.5 368.1L1441.5 368.4L1443.5 368.6L1445.5 368.8L1447.5 369L1449.5 369.2L1451.5 369.3L1453.5 369.5L1455.5 369.6L1457.5 369.7L1459.5 369.8L1461.5 369.9L1463.5 369.9L1465.5 370" fill="none" stroke="#ee1c2e" stroke-width="2.4" stroke-linejoin="round" stroke-linecap="round"/>
<path d="M844 358.6L847 358.6L850 358.7L853 358.8L856 358.9L859 359.1L862 359.2L865 359.3L868 359.4L871 359.5L874 359.6L877 359.7L880 359.8L883 359.9L886 360L889 360.1L892 360.2L895 360.3L898 360.4L901 360.6L904 360.7L907 360.8L910 360.9L913 361L916 361.1L919 361.2L922 361.3L925 361.4L928 361.5L931 361.6L934 361.7L937 361.8L940 361.9L943 362L946 362.1L949 362.2L952 362.3L955 362.4L958 362.5L961 362.6L964 362.7L967 362.8L970 362.9L973 363L976 363.1L979 363.2L982 363.3L985 363.4L988 363.5L991 363.6L994 363.7L997 363.8L1000 363.9L1003 363.9L1006 364L1009 364.1L1012 364.2L1015 364.3L1018 364.4L1021 364.5L1024 364.6L1027 364.7L1030 364.8L1033 364.9L1036 365L1039 365.1L1042 365.2L1045 365.2L1048 365.3L1051 365.4L1054 365.5L1057 365.6L1060 365.7L1063 365.8L1066 365.9L1069 366L1072 366.1L1075 366.2L1078 366.3L1081 366.4L1084 366.5L1087 366.6L1090 366.6L1093 366.7L1096 366.8L1099 366.9L1102 367L1105 367.1L1108 367.2L1111 367.3L1114 367.3L1117 367.4L1120 367.5L1123 367.6L1126 367.6L1129 367.7L1132 367.8L1135 367.9L1138 367.9L1141 368L1144 368.1L1147 368.1L1150 368.2L1153 368.3L1156 368.3L1159 368.4L1162 368.4L1165 368.5L1168 368.6L1171 368.6L1174 368.7L1177 368.7L1180 368.8L1183 368.9L1186 368.9L1189 369L1192 369L1195 369.1L1198 369.1L1201 369.2L1204 369.2L1207 369.3L1210 369.3L1213 369.3L1216 369.4L1219 369.4L1222 369.4L1225 369.5L1228 369.5L1231 369.5L1234 369.5L1237 369.5L1240 369.6L1243 369.6L1246 369.6L1249 369.6L1252 369.6L1255 369.6L1258 369.7L1261 369.7L1264 369.7L1267 369.7L1270 369.7L1273 369.7L1276 369.7L1279 369.7L1282 369.8L1285 369.8L1288 369.8L1291 369.8L1294 369.8L1297 369.8L1300 369.8L1303 369.8L1306 369.8L1309 369.8L1312 369.9L1315 369.9L1318 369.9L1321 369.9L1324 369.9L1327 369.9L1330 369.9L1333 369.9L1336 369.9L1339 369.9L1342 370L1345 370L1348 370L1351 370L1354 370L1357 370L1360 370L1363 370L1366 370.1L1369 370.1L1372 370.1L1375 370.1L1378 370.1L1381 370.1L1384 370.1L1387 370.1L1390 370.1L1393 370.2L1396 370.2L1399 370.2L1402 370.2L1405 370.2L1408 370.2L1411 370.2L1414 370.2L1417 370.3L1420 370.3L1423 370.3L1426 370.3L1429 370.3L1432 370.3L1435 370.3L1438 370.3L1441 370.4L1444 370.4L1447 370.4L1450 370.4L1453 370.4L1456 370.4L1459 370.4L1462 370.4L1465 370.5L1468 370.5L1471 370.5L1474 370.5L1477 370.5L1480 370.5L1483 370.5L1486 370.6L1489 370.6L1492 370.6L1495 370.6L1498 370.6L1501 370.6L1504 370.6L1507 370.6L1510 370.7L1513 370.7L1516 370.7L1519 370.7L1522 370.7L1525 370.7L1528 370.7L1531 370.7L1534 370.8L1537 370.8L1540 370.8L1543 370.8L1544.5 370.8" fill="none" stroke="#0a0a0a" stroke-width="2.8" stroke-linejoin="round" stroke-linecap="round"/>
<path d="M835 694.3L850.4 692.8L855.5 699.5" fill="none" stroke="#f6a81c" stroke-width="2.4" stroke-linejoin="round" stroke-linecap="round"/>
<path d="M835 690.5L837 690.2L839 689.8L841 689.5L843 689.3L845 689.2L847 689.1L849 689.2L851 689.8L853 691.4L855 693L857 693.4L859 693L861 692.2L863 691.1L865 689.8L867 688.3L869 686.7L871 685L873 683.2L875 681.6L877 679.9L879 678.5L881 677.2L883 675.9L885 674.6L887 673.3L889 672L891 670.7L893 669.5L895 668.3L897 667.1L899 666.1L901 665.1L903 664.3L905 663.6L907 663.1L909 662.6L911 662.1L913 661.7L915 661.3L917 660.9L919 660.5L921 660.2L923 659.9L925 659.7L927 659.5L929 659.4L931 659.3L933 659.3L935 659.4L937 659.4L939 659.6L941 659.7L943 659.8L945 660L947 660.1L949 660.3L951 660.4L953 660.5L955 660.6L957 660.6L959 660.5L961 660.3L963 660L965 659.6L967 659.1L969 658.5L971 657.8L973 657L975 656.3L977 655.4L979 654.6L981 653.8L983 652.9L985 652L987 651L989 649.9L991 648.7L993 647.4L995 646L997 644.5L999 643L1001 641.4L1003 639.8L1005 638L1007 636.3L1009 634.4L1011 632.4L1013 630.2L1015 627.9L1017 625.4L1019 622.8L1021 620.1L1023 617.3L1025 614.5L1027 611.6L1029 608.8L1031 605.9L1033 603.1L1035 600.3L1037 597.5L1039 594.7L1041 591.9L1043 589L1045 586.1L1047 583.2L1049 580.2L1051 577.2L1053 574.1L1055 570.9L1057 567.6L1059 564.2L1061 560.7L1063 557.1L1065 553.3L1067 549.5L1069 545.5L1071 541.5L1073 537.4L1075 533.2L1077 529L1079 524.8L1081 520.5L1083 516.3L1085 512L1087 507.7L1089 503.2L1091 498.8L1093 494.3L1095 489.9L1097 485.6L1099 481.3L1101 477.2L1103 473L1105 469L1107 465.2L1109 461.5L1111 458L1113 454.8L1115 451.7L1117 448.7L1119 445.8L1121 442.9L1123 440.1L1125 437.3L1127 434.4L1129 431.6L1131 428.9L1133 426.5L1135 424.4L1137 422.5L1139 420.8L1141 419.2L1143 417.8L1145 416.5L1147 415.5L1149 414.7L1151 413.9L1153 413.2L1155 412.5L1157 412L1159 411.5L1161 411.3L1163 411.2L1165 411.3L1167 411.7L1169 412.3L1171 413.1L1173 413.9L1175 414.7L1177 415.5L1179 416.5L1181 417.5L1183 418.6L1185 419.7L1187 421L1189 422.3L1191 423.6L1193 424.9L1195 426.3L1197 427.6L1199 428.9L1201 430.3L1203 431.6L1205 432.9L1207 434.2L1209 435.5L1211 436.8L1213 438.2L1215 439.5L1217 441L1219 442.4L1221 443.9L1223 445.4L1225 446.9L1227 448.5L1229 450.1L1231 451.8L1233 453.6L1235 455.4L1237 457.4L1239 459.4L1241 461.7L1243 464.1L1245 466.7L1247 469.4L1249 472.1L1251 474.9L1253 477.7L1255 480.4L1257 483.2L1259 486.1L1261 489.2L1263 492.4L1265 495.9L1267 499.8L1269 504.1L1271 508.6L1273 513.2L1275 517.9L1277 522.4L1279 526.9L1281 531.3L1283 535.8L1285 540.3L1287 544.7L1289 549L1291 553.2L1293 557.3L1295 561.3L1297 565.3L1299 569.3L1301 573.2L1303 577L1305 580.8L1307 584.5L1309 588.2L1311 591.9L1313 595.3L1315 598.7L1317 601.8L1319 604.8L1321 607.6L1323 610.4L1325 613.1L1327 615.7L1329 618.3L1331 620.9L1333 623.5L1335 625.9L1337 628.3L1339 630.5L1341 632.5L1343 634.4L1345 636.1L1347 637.7L1349 639.3L1351 640.8L1353 642.3L1355 643.7L1357 645.1L1359 646.5L1361 647.8L1363 649.2L1365 650.7L1367 652.2L1369 653.8L1371 655.5L1373 657.3L1375 659.1L1377 661L1379 663L1381 665.2L1383 667.5L1385 669.9L1387 672.3L1389 674.8L1391 677.3L1393 679.7L1395 682.2L1397 684.7L1399 687.1L1401 689.5L1403 691.9L1405 694.1L1407 696.3L1409 698.4L1411 700.5L1413 702.5L1415 704.4L1417 706.2L1419 708L1421 709.7L1423 711.4L1425 713L1427 714.5L1429 715.9L1431 717.1L1433 718.3L1435 719.4L1437 720.4L1439 721.4L1441 722.3L1443 723.1L1445 723.8L1447 724.4L1449 725.1L1451 725.6L1453 726.2L1455 726.7L1457 727.1L1459 727.6L1461 728.1L1463 728.5L1465 729L1467 729.4L1469 729.8L1471 730.2L1473 730.5L1475 730.8L1477 731L1479 731.2L1481 731.4L1483 731.5L1485 731.6L1487 731.7L1489 731.8L1491 731.9L1493 732L1495 732.1L1497 732.2L1499 732.3L1501 732.3L1503 732.4L1505 732.5L1507 732.6L1509 732.6L1511 732.7L1513 732.7L1515 732.8L1517 732.9L1519 732.9L1521 732.9L1523 733L1525 733L1527 733.1L1529 733.1L1531 733.1L1533 733.1L1535 733.2L1537 733.2L1539 733.2L1541 733.2L1543 733.2L1544 733.2" fill="none" stroke="#0a0a0a" stroke-width="2.4" stroke-linejoin="round" stroke-linecap="round"/>
<path d="M835 691.9C835.9 693.7 837.8 704.5 839.7 700.7C841.6 696.9 842.5 674.6 844.4 673C846.3 671.4 847.2 687.5 849.1 692.8C851 698.1 851.9 696.5 853.8 699.5C855.7 702.6 856.6 713.3 858.5 708.2C860.4 703 861.3 676.7 863.2 673.7C865.1 670.8 866 698.5 867.9 693.4C869.8 688.2 870.7 650 872.6 647.9C874.5 645.8 875.4 677 877.3 682.7C879.2 688.3 880.1 677.2 882 676.1C883.9 675 884.8 679.9 886.7 677C888.6 674.1 889.5 665.8 891.4 661.7C893.3 657.5 894.2 652.5 896.1 656.3C898 660.2 898.9 682.8 900.8 681.1C902.7 679.3 903.6 653.6 905.5 647.6C907.4 641.6 908.3 649.8 910.2 651.1C912.1 652.4 913 656.7 914.9 654.3C916.8 651.9 917.7 636.3 919.6 639C921.5 641.7 922.4 669.1 924.3 667.6C926.2 666.1 927.1 628.3 929 631.5C930.9 634.6 931.8 675.8 933.7 683.3C935.6 690.9 936.5 674.9 938.4 669.2C940.3 663.5 941.2 660.5 943.1 654.8C945 649.1 945.9 641.3 947.8 640.6C949.7 639.8 950.6 648.1 952.5 651C954.4 653.9 955.3 655 957.2 655.1C959.1 655.3 960 647.8 961.9 651.9C963.8 655.9 964.7 674.4 966.6 675.5C968.5 676.6 969.4 668.5 971.3 657.3C973.2 646.2 974.1 613.3 976 619.9C977.9 626.4 978.8 682.8 980.7 689.9C982.6 697 983.5 663.1 985.4 655.3C987.3 647.5 988.2 650.2 990.1 651C992 651.9 992.9 660.7 994.8 659.4C996.7 658.2 997.6 649.1 999.5 644.7C1001.4 640.2 1002.3 638.5 1004.2 637.2C1006.1 635.9 1007 639.6 1008.9 638.3C1010.8 637 1011.7 630.4 1013.6 630.7C1015.5 631.1 1016.4 644.5 1018.3 640C1020.2 635.5 1021.1 612.4 1023 608.4C1024.9 604.4 1025.8 617.8 1027.7 620.2C1029.6 622.6 1030.5 631.4 1032.4 620.6C1034.3 609.7 1035.2 571.1 1037.1 565.8C1039 560.4 1039.9 595.6 1041.8 593.7C1043.7 591.8 1044.6 558.9 1046.5 556.2C1048.4 553.5 1049.3 567.9 1051.2 580.4C1053.1 592.9 1054 621.3 1055.9 618.6C1057.8 615.9 1058.7 578 1060.6 566.9C1062.5 555.8 1063.4 570.1 1065.3 563.2C1067.2 556.3 1068.1 540.2 1070 532.3C1071.9 524.5 1072.8 523.3 1074.7 523.8C1076.6 524.3 1077.5 538.6 1079.4 534.9C1081.3 531.3 1082.2 513.2 1084.1 505.6C1086 498.1 1086.9 499.3 1088.8 497.2C1090.7 495.1 1091.6 495.2 1093.5 495.2C1095.4 495.2 1096.3 503 1098.2 497.1C1100.1 491.3 1101 468 1102.9 466C1104.8 464 1105.7 490.3 1107.6 487C1109.5 483.8 1110.4 457.5 1112.3 449.8C1114.2 442.1 1115.1 457.9 1117 448.6C1118.9 439.3 1119.8 405.1 1121.7 403.5C1123.6 401.9 1124.5 442.9 1126.4 440.8C1128.3 438.6 1129.2 390.1 1131.1 392.8C1133 395.5 1133.9 449.1 1135.8 454.2C1137.7 459.3 1138.6 424.8 1140.5 418.2C1142.4 411.6 1143.3 423.4 1145.2 421.2C1147.1 418.9 1148 409 1149.9 406.9C1151.8 404.9 1152.7 415.8 1154.6 410.8C1156.5 405.8 1157.4 376.6 1159.3 381.8C1161.2 387 1162.1 430.5 1164 436.6C1165.9 442.7 1166.8 412.6 1168.7 412.2C1170.6 411.8 1171.5 433.6 1173.4 434.7C1175.3 435.7 1176.2 428 1178.1 417.5C1180 406.9 1180.9 381.2 1182.8 381.8C1184.7 382.4 1185.6 405.8 1187.5 420.3C1189.4 434.8 1190.3 452.7 1192.2 454.4C1194.1 456.1 1195 429.8 1196.9 428.6C1198.8 427.4 1199.7 445.7 1201.6 448.3C1203.5 451 1204.4 444.5 1206.3 441.9C1208.2 439.3 1209.1 442.3 1211 435.4C1212.9 428.5 1213.8 406.8 1215.7 407.3C1217.6 407.8 1218.5 432.5 1220.4 438.1C1222.3 443.7 1223.2 429 1225.1 435.3C1227 441.5 1227.9 464.3 1229.8 469.5C1231.7 474.7 1232.6 464.9 1234.5 461.3C1236.4 457.7 1237.3 451.6 1239.2 451.4C1241.1 451.2 1242 458.9 1243.9 460.3C1245.8 461.7 1246.7 451.4 1248.6 458.6C1250.5 465.8 1251.4 493.6 1253.3 496.5C1255.2 499.4 1256.1 466.7 1258 473C1259.9 479.2 1260.8 520.9 1262.7 527.9C1264.6 534.9 1265.5 511.6 1267.4 508C1269.3 504.5 1270.2 506 1272.1 510.1C1274 514.2 1274.9 526.6 1276.8 528.5C1278.7 530.4 1279.6 515.9 1281.5 519.4C1283.4 523 1284.3 539.5 1286.2 546.2C1288.1 552.8 1289 551.5 1290.9 552.7C1292.8 553.9 1293.7 545.7 1295.6 552.2C1297.5 558.7 1298.4 583.8 1300.3 585C1302.2 586.3 1303.1 555.5 1305 558.3C1306.9 561.1 1307.8 593.2 1309.7 599.2C1311.6 605.3 1312.5 588.1 1314.4 588.6C1316.3 589.1 1317.2 595.8 1319.1 601.7C1321 607.5 1321.9 615 1323.8 617.8C1325.7 620.7 1326.6 615.9 1328.5 616.1C1330.4 616.4 1331.3 615 1333.2 619C1335.1 623.1 1336 639.9 1337.9 636.3C1339.8 632.7 1340.7 597.7 1342.6 601C1344.5 604.4 1345.4 645.1 1347.3 653.2C1349.2 661.3 1350.1 637.7 1352 641.5C1353.9 645.3 1354.8 671.3 1356.7 672.1C1358.6 672.9 1359.5 652.8 1361.4 645.4C1363.3 638.1 1364.2 628.7 1366.1 635.3C1368 641.9 1368.9 672.8 1370.8 678.3C1372.7 683.9 1373.6 666 1375.5 663.1C1377.4 660.2 1378.3 666.2 1380.2 663.7C1382.1 661.3 1383 647.6 1384.9 650.9C1386.8 654.1 1387.7 667.8 1389.6 679.9C1391.5 692 1392.4 710.9 1394.3 711.5C1396.2 712.1 1397.1 695 1399 682.8C1400.9 670.6 1401.8 647.9 1403.7 650.4C1405.6 652.9 1406.5 684.9 1408.4 695.5C1410.3 706.1 1411.2 702.5 1413.1 703.5C1415 704.5 1415.9 696 1417.8 700.7C1419.7 705.3 1420.6 723.7 1422.5 726.8C1424.4 729.9 1425.3 729.6 1427.2 716.1C1429.1 702.6 1430 658.6 1431.9 659.3C1433.8 660 1434.7 707 1436.6 719.6C1438.5 732.2 1439.4 719.3 1441.3 722.3C1443.2 725.4 1444.1 734.7 1446 735C1447.9 735.3 1448.8 724.2 1450.7 723.9C1452.6 723.6 1453.5 739.9 1455.4 733.5C1457.3 727.1 1458.2 692 1460.1 691.9C1462 691.8 1462.9 728.6 1464.8 733C1466.7 737.4 1467.6 714.1 1469.5 714C1471.4 714 1472.3 729 1474.2 732.7C1476.1 736.4 1477 741.3 1478.9 732.5C1480.8 723.7 1481.7 689.6 1483.6 688.6C1485.5 687.6 1486.4 722.6 1488.3 727.3C1490.2 732 1491.1 710.9 1493 712.1C1494.9 713.3 1495.8 733.5 1497.7 733.2C1499.6 732.8 1500.5 711.2 1502.4 710.3C1504.3 709.4 1505.2 729.2 1507.1 728.5C1509 727.7 1509.9 705.4 1511.8 706.7C1513.7 708 1514.6 734.5 1516.5 735C1518.4 735.5 1519.3 709.1 1521.2 709.1C1523.1 709.1 1524 731.3 1525.9 735C1527.8 738.7 1528.7 727.7 1530.6 727.7C1532.5 727.7 1533.4 733.5 1535.3 735C1537.2 736.5 1539.1 735 1540 735" fill="none" stroke="#0a0a0a" stroke-width="2.5" stroke-linejoin="round" stroke-linecap="round"/>
<path d="M855.5 696.9L857.5 696.9L859.5 696.5L861.5 696L863.5 695.4L865.5 694.8L867.5 694.1L869.5 693.3L871.5 692.5L873.5 691.6L875.5 690.7L877.5 689.8L879.5 688.8L881.5 687.9L883.5 686.9L885.5 685.9L887.5 684.9L889.5 683.9L891.5 683L893.5 682.1L895.5 681.2L897.5 680.4L899.5 679.6L901.5 679L903.5 678.4L905.5 677.9L907.5 677.5L909.5 677.2L911.5 677L913.5 676.9L915.5 676.9L917.5 677.1L919.5 677.3L921.5 677.7L923.5 678.2L925.5 678.8L927.5 679.6L929.5 680.4L931.5 681.3L933.5 682.4L935.5 683.4L937.5 684.6L939.5 685.8L941.5 687.1L943.5 688.4L945.5 689.7L947.5 691.1L949.5 692.4L951.5 693.8L953.5 695.2L955.5 696.6L957.5 697.9L959.5 699.3L961.5 700.6L963.5 701.9L965.5 703.1L967.5 704.3L969.5 705.5L971.5 706.6L973.5 707.7L975.5 708.7L977.5 709.7L979.5 710.6L981.5 711.5L983.5 712.4L985.5 713.2L987.5 713.9L989.5 714.6L991.5 715.3L993.5 715.9L995.5 716.5L997.5 717L999.5 717.5L1001.5 718L1003.5 718.4L1005.5 718.8L1007.5 719.2L1009.5 719.6L1011.5 719.9L1013.5 720.2L1015.5 720.5L1017.5 720.8L1019.5 721.1L1021.5 721.3L1023.5 721.6L1025.5 721.8L1027.5 722L1029.5 722.2L1031.5 722.4" fill="none" stroke="#f6a81c" stroke-width="2.4" stroke-linejoin="round" stroke-linecap="round"/>
<path d="M855.5 703.8L857.5 704.5L859.5 704.8L861.5 705.1L863.5 705.4L865.5 705.6L867.5 705.8L869.5 705.9L871.5 706L873.5 706.1L875.5 706.2L877.5 706.2L879.5 706.2L881.5 706.1L883.5 706L885.5 705.9L887.5 705.8L889.5 705.6L891.5 705.4L893.5 705.2L895.5 705L897.5 704.7L899.5 704.4L901.5 704L903.5 703.7L905.5 703.3L907.5 702.9L909.5 702.5L911.5 702L913.5 701.5L915.5 701L917.5 700.5L919.5 700L921.5 699.4L923.5 698.8L925.5 698.2L927.5 697.6L929.5 697L931.5 696.3L933.5 695.6L935.5 694.9L937.5 694.2L939.5 693.4L941.5 692.6L943.5 691.7L945.5 690.9L947.5 689.9L949.5 689L951.5 688L953.5 687L955.5 685.9L957.5 684.8L959.5 683.7L961.5 682.6L963.5 681.4L965.5 680.1L967.5 678.9L969.5 677.6L971.5 676.3L973.5 674.9L975.5 673.5L977.5 672.1L979.5 670.7L981.5 669.2L983.5 667.7L985.5 666.2L987.5 664.6L989.5 663L991.5 661.4L993.5 659.8L995.5 658.2L997.5 656.6L999.5 654.9L1001.5 653.2L1003.5 651.6L1005.5 649.9L1007.5 648.2L1009.5 646.5L1011.5 644.8L1013.5 643.1L1015.5 641.4L1017.5 639.8L1019.5 638.1L1021.5 636.5L1023.5 634.8L1025.5 633.2L1027.5 631.6L1029.5 630L1031.5 628.5L1033.5 627L1035.5 625.5L1037.5 624.1L1039.5 622.7L1041.5 621.3L1043.5 620L1045.5 618.8L1047.5 617.5L1049.5 616.4L1051.5 615.3L1053.5 614.3L1055.5 613.3L1057.5 612.4L1059.5 611.5L1061.5 610.8L1063.5 610.1L1065.5 609.4L1067.5 608.9L1069.5 608.4L1071.5 608L1073.5 607.7L1075.5 607.4L1077.5 607.2L1079.5 607.2L1081.5 607.2L1083.5 607.2L1085.5 607.4L1087.5 607.6L1089.5 607.9L1091.5 608.3L1093.5 608.8L1095.5 609.4L1097.5 610L1099.5 610.7L1101.5 611.5L1103.5 612.3L1105.5 613.3L1107.5 614.3L1109.5 615.3L1111.5 616.5L1113.5 617.7L1115.5 618.9L1117.5 620.2L1119.5 621.6L1121.5 623L1123.5 624.5L1125.5 626L1127.5 627.6L1129.5 629.2L1131.5 630.9L1133.5 632.5L1135.5 634.3L1137.5 636L1139.5 637.8L1141.5 639.6L1143.5 641.4L1145.5 643.3L1147.5 645.2L1149.5 647L1151.5 648.9L1153.5 650.8L1155.5 652.8L1157.5 654.7L1159.5 656.6L1161.5 658.5L1163.5 660.4L1165.5 662.4L1167.5 664.3L1169.5 666.1L1171.5 668L1173.5 669.9L1175.5 671.7L1177.5 673.6L1179.5 675.4L1181.5 677.2L1183.5 678.9L1185.5 680.7L1187.5 682.4L1189.5 684.1L1191.5 685.7L1193.5 687.4L1195.5 689L1197.5 690.5L1199.5 692.1L1201.5 693.6L1203.5 695L1205.5 696.4L1207.5 697.8L1209.5 699.2L1211.5 700.5L1213.5 701.8L1215.5 703.1L1217.5 704.3L1219.5 705.4L1221.5 706.6L1223.5 707.7L1225.5 708.8L1227.5 709.8L1229.5 710.8L1231.5 711.7L1233.5 712.7L1235.5 713.6L1237.5 714.4L1239.5 715.2L1241.5 716L1243.5 716.8L1245.5 717.5L1247.5 718.2L1249.5 718.9L1251.5 719.5L1253.5 720.2L1255.5 720.8L1257.5 721.3L1259.5 721.9L1261.5 722.4L1263.5 722.9L1265.5 723.3L1267.5 723.8L1269.5 724.2L1271.5 724.6L1273.5 725L1275.5 725.4L1277.5 725.7L1279.5 726L1281.5 726.4L1283.5 726.7L1285.5 726.9L1287.5 727.2L1289.5 727.5L1291.5 727.7L1293.5 727.9L1295.5 728.2L1297.5 728.4L1299.5 728.6L1301.5 728.8L1303.5 728.9L1305.5 729.1L1307.5 729.3L1309.5 729.4L1311.5 729.6L1313.5 729.7L1315.5 729.8L1317.5 730L1319.5 730.1L1321.5 730.2L1323.5 730.3L1325.5 730.4L1327.5 730.5L1329.5 730.6L1331.5 730.7L1333.5 730.8L1335.5 730.9L1337.5 731L1339.5 731.1L1341.5 731.2L1343.5 731.3L1345.5 731.4L1347.5 731.4L1349.5 731.5L1351.5 731.6L1353.5 731.6L1355.5 731.7L1357.5 731.8L1359.5 731.8L1361.5 731.9L1363.5 732L1365.5 732L1367.5 732.1L1369.5 732.1L1371.5 732.2L1373.5 732.2L1375.5 732.3L1377.5 732.3L1379.5 732.3L1381.5 732.4L1383.5 732.4L1385.5 732.5L1387.5 732.5L1389.5 732.5L1391.5 732.5L1393.5 732.6L1395.5 732.6L1397.5 732.6L1399.5 732.6L1401.5 732.6L1403.5 732.6L1405.5 732.7L1407.5 732.7L1409.5 732.7L1411.5 732.7L1413.5 732.7L1415.5 732.7L1417.5 732.7L1419.5 732.7L1421.5 732.7L1423.5 732.7L1425.5 732.7L1427.5 732.7L1429.5 732.7L1431.5 732.7L1433.5 732.7" fill="none" stroke="#6f35a0" stroke-width="2.4" stroke-linejoin="round" stroke-linecap="round"/>
<path d="M855.5 705.6L857.5 706.4L859.5 706.9L861.5 707.3L863.5 707.7L865.5 708.1L867.5 708.4L869.5 708.7L871.5 709L873.5 709.3L875.5 709.5L877.5 709.8L879.5 710L881.5 710.2L883.5 710.4L885.5 710.5L887.5 710.7L889.5 710.8L891.5 711L893.5 711.1L895.5 711.2L897.5 711.3L899.5 711.4L901.5 711.5L903.5 711.6L905.5 711.7L907.5 711.7L909.5 711.8L911.5 711.9L913.5 712L915.5 712.1L917.5 712.2L919.5 712.3L921.5 712.4L923.5 712.5L925.5 712.6L927.5 712.7L929.5 712.9L931.5 713L933.5 713.2L935.5 713.3L937.5 713.5L939.5 713.7L941.5 713.8L943.5 714L945.5 714.1L947.5 714.3L949.5 714.4L951.5 714.5L953.5 714.7L955.5 714.8L957.5 714.9L959.5 715L961.5 715.2L963.5 715.3L965.5 715.4L967.5 715.4L969.5 715.5L971.5 715.6L973.5 715.6L975.5 715.7L977.5 715.7L979.5 715.7L981.5 715.7L983.5 715.7L985.5 715.7L987.5 715.6L989.5 715.5L991.5 715.4L993.5 715.3L995.5 715.1L997.5 715L999.5 714.7L1001.5 714.5L1003.5 714.2L1005.5 713.9L1007.5 713.5L1009.5 713.1L1011.5 712.6L1013.5 712.1L1015.5 711.5L1017.5 710.9L1019.5 710.2L1021.5 709.5L1023.5 708.7L1025.5 707.8L1027.5 706.8L1029.5 705.8L1031.5 704.7L1033.5 703.5L1035.5 702.2L1037.5 700.9L1039.5 699.4L1041.5 697.9L1043.5 696.3L1045.5 694.5L1047.5 692.7L1049.5 690.8L1051.5 688.7L1053.5 686.6L1055.5 684.3L1057.5 682L1059.5 679.5L1061.5 676.9L1063.5 674.2L1065.5 671.4L1067.5 668.5L1069.5 665.4L1071.5 662.3L1073.5 659.1L1075.5 655.7L1077.5 652.3L1079.5 648.7L1081.5 645.1L1083.5 641.3L1085.5 637.5L1087.5 633.6L1089.5 629.7L1091.5 625.6L1093.5 621.5L1095.5 617.4L1097.5 613.2L1099.5 609L1101.5 604.8L1103.5 600.5L1105.5 596.3L1107.5 592L1109.5 587.8L1111.5 583.6L1113.5 579.4L1115.5 575.3L1117.5 571.3L1119.5 567.3L1121.5 563.5L1123.5 559.7L1125.5 556L1127.5 552.5L1129.5 549.1L1131.5 545.9L1133.5 542.9L1135.5 540L1137.5 537.3L1139.5 534.8L1141.5 532.5L1143.5 530.4L1145.5 528.5L1147.5 526.9L1149.5 525.5L1151.5 524.4L1153.5 523.5L1155.5 522.9L1157.5 522.5L1159.5 522.4L1161.5 522.6L1163.5 523L1165.5 523.7L1167.5 524.6L1169.5 525.8L1171.5 527.2L1173.5 528.9L1175.5 530.8L1177.5 533L1179.5 535.3L1181.5 537.9L1183.5 540.7L1185.5 543.6L1187.5 546.8L1189.5 550.1L1191.5 553.6L1193.5 557.2L1195.5 560.9L1197.5 564.8L1199.5 568.8L1201.5 572.8L1203.5 577L1205.5 581.2L1207.5 585.5L1209.5 589.8L1211.5 594.2L1213.5 598.6L1215.5 602.9L1217.5 607.3L1219.5 611.7L1221.5 616.1L1223.5 620.4L1225.5 624.7L1227.5 629L1229.5 633.1L1231.5 637.3L1233.5 641.3L1235.5 645.3L1237.5 649.2L1239.5 653L1241.5 656.7L1243.5 660.3L1245.5 663.9L1247.5 667.3L1249.5 670.6L1251.5 673.8L1253.5 676.9L1255.5 679.9L1257.5 682.8L1259.5 685.5L1261.5 688.2L1263.5 690.7L1265.5 693.2L1267.5 695.5L1269.5 697.7L1271.5 699.8L1273.5 701.8L1275.5 703.7L1277.5 705.5L1279.5 707.3L1281.5 708.9L1283.5 710.4L1285.5 711.9L1287.5 713.2L1289.5 714.5L1291.5 715.7L1293.5 716.9L1295.5 717.9L1297.5 718.9L1299.5 719.8L1301.5 720.7L1303.5 721.5L1305.5 722.3L1307.5 723L1309.5 723.6L1311.5 724.3L1313.5 724.8L1315.5 725.4L1317.5 725.9L1319.5 726.3L1321.5 726.8L1323.5 727.2L1325.5 727.5L1327.5 727.9L1329.5 728.2L1331.5 728.5L1333.5 728.8L1335.5 729L1337.5 729.3L1339.5 729.5L1341.5 729.7L1343.5 729.9L1345.5 730.1L1347.5 730.2L1349.5 730.4L1351.5 730.5L1353.5 730.7L1355.5 730.8L1357.5 730.9L1359.5 731L1361.5 731.1L1363.5 731.2L1365.5 731.3L1367.5 731.4L1369.5 731.5L1371.5 731.6L1373.5 731.7L1375.5 731.7L1377.5 731.8L1379.5 731.9L1381.5 731.9L1383.5 732L1385.5 732L1387.5 732.1L1389.5 732.1L1391.5 732.1L1393.5 732.2L1395.5 732.2L1397.5 732.2L1399.5 732.3L1401.5 732.3L1403.5 732.3L1405.5 732.3L1407.5 732.3L1409.5 732.3L1411.5 732.4L1413.5 732.4L1415.5 732.4L1417.5 732.4L1419.5 732.4L1421.5 732.4L1423.5 732.4L1425.5 732.5L1427.5 732.5L1429.5 732.5L1431.5 732.5L1433.5 732.5L1435.5 732.5L1437.5 732.5L1439.5 732.5L1441.5 732.5L1443.5 732.5L1445.5 732.5L1447.5 732.6L1449.5 732.6L1451.5 732.6L1453.5 732.6L1455.5 732.6L1457.5 732.6L1459.5 732.6L1461.5 732.6L1463.5 732.6L1465.5 732.6L1467.5 732.6L1469.5 732.6L1471.5 732.6L1473.5 732.7L1475.5 732.7L1477.5 732.7L1479.5 732.7L1481.5 732.7L1483.5 732.7L1485.5 732.7L1487.5 732.7L1489.5 732.7L1491.5 732.7L1493.5 732.7L1495.5 732.7L1497.5 732.7L1499.5 732.7" fill="none" stroke="#2f76c9" stroke-width="2.4" stroke-linejoin="round" stroke-linecap="round"/>
<path d="M948.9 715.3L950.9 715.4L952.9 715.6L954.9 715.8L956.9 716L958.9 716.2L960.9 716.3L962.9 716.5L964.9 716.7L966.9 716.9L968.9 717.1L970.9 717.2L972.9 717.4L974.9 717.6L976.9 717.8L978.9 718L980.9 718.1L982.9 718.3L984.9 718.5L986.9 718.6L988.9 718.8L990.9 719L992.9 719.1L994.9 719.3L996.9 719.5L998.9 719.6L1000.9 719.8L1002.9 720L1004.9 720.1L1006.9 720.3L1008.9 720.4L1010.9 720.6L1012.9 720.7L1014.9 720.9L1016.9 721L1018.9 721.2L1020.9 721.3L1022.9 721.4L1024.9 721.6L1026.9 721.7L1028.9 721.8L1030.9 722L1032.9 722.1L1034.9 722.2L1036.9 722.3L1038.9 722.5L1040.9 722.6L1042.9 722.7L1044.9 722.8L1046.9 722.9L1048.9 723L1050.9 723.1L1052.9 723.2L1054.9 723.3L1056.9 723.4L1058.9 723.5L1060.9 723.6L1062.9 723.7L1064.9 723.8L1066.9 723.8L1068.9 723.9L1070.9 724L1072.9 724L1074.9 724.1L1076.9 724.1L1078.9 724.1L1080.9 724.1L1082.9 724.1L1084.9 724.1L1086.9 724.1L1088.9 724L1090.9 724L1092.9 723.9L1094.9 723.8L1096.9 723.7L1098.9 723.5L1100.9 723.3L1102.9 723.1L1104.9 722.9L1106.9 722.6L1108.9 722.3L1110.9 722L1112.9 721.6L1114.9 721.1L1116.9 720.7L1118.9 720.1L1120.9 719.6L1122.9 718.9L1124.9 718.2L1126.9 717.5L1128.9 716.7L1130.9 715.8L1132.9 714.8L1134.9 713.8L1136.9 712.6L1138.9 711.4L1140.9 710.1L1142.9 708.7L1144.9 707.3L1146.9 705.7L1148.9 704L1150.9 702.3L1152.9 700.4L1154.9 698.4L1156.9 696.3L1158.9 694.1L1160.9 691.8L1162.9 689.3L1164.9 686.8L1166.9 684.1L1168.9 681.3L1170.9 678.4L1172.9 675.4L1174.9 672.3L1176.9 669.1L1178.9 665.7L1180.9 662.3L1182.9 658.7L1184.9 655.1L1186.9 651.4L1188.9 647.5L1190.9 643.6L1192.9 639.7L1194.9 635.7L1196.9 631.6L1198.9 627.5L1200.9 623.3L1202.9 619.1L1204.9 614.9L1206.9 610.7L1208.9 606.5L1210.9 602.4L1212.9 598.3L1214.9 594.2L1216.9 590.2L1218.9 586.2L1220.9 582.4L1222.9 578.6L1224.9 575L1226.9 571.5L1228.9 568.1L1230.9 564.9L1232.9 561.9L1234.9 559L1236.9 556.4L1238.9 554L1240.9 551.7L1242.9 549.7L1244.9 548L1246.9 546.5L1248.9 545.2L1250.9 544.2L1252.9 543.5L1254.9 543L1256.9 542.8L1258.9 542.9L1260.9 543.2L1262.9 543.9L1264.9 544.7L1266.9 545.9L1268.9 547.3L1270.9 548.9L1272.9 550.8L1274.9 553L1276.9 555.3L1278.9 557.9L1280.9 560.7L1282.9 563.6L1284.9 566.8L1286.9 570.1L1288.9 573.5L1290.9 577.1L1292.9 580.9L1294.9 584.7L1296.9 588.7L1298.9 592.7L1300.9 596.8L1302.9 600.9L1304.9 605.1L1306.9 609.4L1308.9 613.6L1310.9 617.9L1312.9 622.1L1314.9 626.4L1316.9 630.6L1318.9 634.8L1320.9 638.9L1322.9 643L1324.9 647L1326.9 650.9L1328.9 654.8L1330.9 658.6L1332.9 662.2L1334.9 665.8L1336.9 669.3L1338.9 672.7L1340.9 676L1342.9 679.2L1344.9 682.2L1346.9 685.1L1348.9 688L1350.9 690.7L1352.9 693.3L1354.9 695.8L1356.9 698.1L1358.9 700.4L1360.9 702.5L1362.9 704.6L1364.9 706.5L1366.9 708.3L1368.9 710.1L1370.9 711.7L1372.9 713.2L1374.9 714.7L1376.9 716L1378.9 717.3L1380.9 718.5L1382.9 719.6L1384.9 720.6L1386.9 721.6L1388.9 722.5L1390.9 723.3L1392.9 724L1394.9 724.8L1396.9 725.4L1398.9 726L1400.9 726.6L1402.9 727.1L1404.9 727.5L1406.9 728L1408.9 728.4L1410.9 728.7L1412.9 729L1414.9 729.3L1416.9 729.6L1418.9 729.9L1420.9 730.1L1422.9 730.3L1424.9 730.5L1426.9 730.7L1428.9 730.8L1430.9 731L1432.9 731.1L1434.9 731.2L1436.9 731.3L1438.9 731.4L1440.9 731.5L1442.9 731.6L1444.9 731.7L1446.9 731.7L1448.9 731.8L1450.9 731.9L1452.9 731.9L1454.9 732L1456.9 732L1458.9 732.1L1460.9 732.1L1462.9 732.1L1464.9 732.2L1466.9 732.2L1468.9 732.2L1470.9 732.2L1472.9 732.3L1474.9 732.3L1476.9 732.3L1478.9 732.3L1480.9 732.3L1482.9 732.4L1484.9 732.4L1486.9 732.4L1488.9 732.4L1490.9 732.4L1492.9 732.4L1494.9 732.4L1496.9 732.5L1498.9 732.5L1500.9 732.5L1502.9 732.5L1504.9 732.5L1506.9 732.5L1508.9 732.5L1510.9 732.5L1512.9 732.6L1514.9 732.6L1516.9 732.6L1518.9 732.6L1520.9 732.6L1522.9 732.6L1524.9 732.6L1526.9 732.6L1528.9 732.6L1530.9 732.6L1532.9 732.6L1534.9 732.6L1536.9 732.7L1538.9 732.7L1540.9 732.7L1542.9 732.7" fill="none" stroke="#1fa54e" stroke-width="2.4" stroke-linejoin="round" stroke-linecap="round"/>
<path d="M1259.6 731.2L1261.6 731.1L1263.6 731.1L1265.6 731.1L1267.6 731L1269.6 730.9L1271.6 730.9L1273.6 730.8L1275.6 730.7L1277.6 730.5L1279.6 730.4L1281.6 730.2L1283.6 730L1285.6 729.8L1287.6 729.5L1289.6 729.2L1291.6 728.8L1293.6 728.4L1295.6 728L1297.6 727.4L1299.6 726.9L1301.6 726.2L1303.6 725.5L1305.6 724.7L1307.6 723.9L1309.6 722.9L1311.6 721.9L1313.6 720.8L1315.6 719.6L1317.6 718.4L1319.6 717L1321.6 715.5L1323.6 714L1325.6 712.4L1327.6 710.7L1329.6 709L1331.6 707.2L1333.6 705.4L1335.6 703.5L1337.6 701.6L1339.6 699.7L1341.6 697.8L1343.6 695.9L1345.6 694.1L1347.6 692.3L1349.6 690.6L1351.6 688.9L1353.6 687.4L1355.6 686L1357.6 684.8L1359.6 683.7L1361.6 682.7L1363.6 682L1365.6 681.4L1367.6 681.1L1369.6 680.9L1371.6 681L1373.6 681.2L1375.6 681.7L1377.6 682.3L1379.6 683.1L1381.6 684.2L1383.6 685.3L1385.6 686.7L1387.6 688.1L1389.6 689.7L1391.6 691.4L1393.6 693.2L1395.6 695L1397.6 696.9L1399.6 698.9L1401.6 700.8L1403.6 702.8L1405.6 704.7L1407.6 706.6L1409.6 708.5L1411.6 710.3L1413.6 712L1415.6 713.7L1417.6 715.4L1419.6 716.9L1421.6 718.4L1423.6 719.7L1425.6 721L1427.6 722.2L1429.6 723.3L1431.6 724.4L1433.6 725.3L1435.6 726.2L1437.6 727L1439.6 727.7L1441.6 728.3L1443.6 728.9L1445.6 729.4L1447.6 729.9L1449.6 730.3L1451.6 730.6L1453.6 731L1455.6 731.2L1457.6 731.5L1459.6 731.7L1461.6 731.9L1463.6 732L1465.6 732.2L1467.6 732.3L1469.6 732.4L1471.6 732.5L1473.6 732.6L1475.6 732.6L1477.6 732.7L1479.6 732.7" fill="none" stroke="#ee1c2e" stroke-width="2.4" stroke-linejoin="round" stroke-linecap="round"/>
<path d="M835 696.3L838 696.3L841 696.5L844 696.7L847 697L850 697.5L853 702.1L856 706.5L859 707.3L862 708L865 708.6L868 709.1L871 709.6L874 710L877 710.4L880 710.7L883 711L886 711.3L889 711.5L892 711.7L895 711.9L898 712.1L901 712.3L904 712.4L907 712.5L910 712.7L913 712.8L916 713L919 713.2L922 713.3L925 713.5L928 713.8L931 714L934 714.3L937 714.6L940 714.9L943 715.2L946 715.4L949 715.7L952 716L955 716.3L958 716.6L961 716.8L964 717.1L967 717.4L970 717.7L973 718L976 718.2L979 718.5L982 718.8L985 719.1L988 719.3L991 719.6L994 719.9L997 720.1L1000 720.4L1003 720.6L1006 720.9L1009 721.1L1012 721.4L1015 721.6L1018 721.8L1021 722.1L1024 722.3L1027 722.5L1030 722.7L1033 723L1036 723.2L1039 723.4L1042 723.6L1045 723.8L1048 724L1051 724.2L1054 724.4L1057 724.6L1060 724.8L1063 725L1066 725.2L1069 725.4L1072 725.6L1075 725.8L1078 726L1081 726.2L1084 726.3L1087 726.5L1090 726.7L1093 726.9L1096 727L1099 727.2L1102 727.4L1105 727.5L1108 727.7L1111 727.8L1114 728L1117 728.1L1120 728.3L1123 728.4L1126 728.5L1129 728.7L1132 728.8L1135 728.9L1138 729L1141 729.1L1144 729.2L1147 729.3L1150 729.4L1153 729.5L1156 729.6L1159 729.7L1162 729.8L1165 729.9L1168 730L1171 730.1L1174 730.2L1177 730.3L1180 730.4L1183 730.5L1186 730.5L1189 730.6L1192 730.7L1195 730.8L1198 730.9L1201 730.9L1204 731L1207 731L1210 731.1L1213 731.2L1216 731.2L1219 731.3L1222 731.3L1225 731.3L1228 731.4L1231 731.4L1234 731.4L1237 731.5L1240 731.5L1243 731.5L1246 731.5L1249 731.6L1252 731.6L1255 731.6L1258 731.6L1261 731.6L1264 731.6L1267 731.7L1270 731.7L1273 731.7L1276 731.7L1279 731.7L1282 731.7L1285 731.8L1288 731.8L1291 731.8L1294 731.8L1297 731.8L1300 731.8L1303 731.9L1306 731.9L1309 731.9L1312 731.9L1315 732L1318 732L1321 732.1L1324 732.1L1327 732.2L1330 732.2L1333 732.2L1336 732.3L1339 732.4L1342 732.4L1345 732.5L1348 732.5L1351 732.6L1354 732.6L1357 732.7L1360 732.7L1363 732.8L1366 732.8L1369 732.9L1372 732.9L1375 733L1378 733L1381 733L1384 733.1L1387 733.1L1390 733.1L1393 733.2L1396 733.2L1399 733.2L1402 733.2L1405 733.2L1408 733.2L1411 733.2L1414 733.2L1417 733.2L1420 733.2L1423 733.2L1426 733.2L1429 733.2L1432 733.2L1435 733.2L1438 733.2L1441 733.2L1444 733.2L1447 733.2L1450 733.2L1453 733.2L1456 733.2L1459 733.2L1462 733.2L1465 733.2L1468 733.2L1471 733.2L1474 733.2L1477 733.2L1480 733.2L1483 733.2L1486 733.2L1489 733.2L1492 733.2L1495 733.2L1498 733.2L1501 733.2L1504 733.2L1507 733.2L1510 733.2L1513 733.2L1516 733.2L1519 733.2L1522 733.2L1525 733.2L1528 733.2L1531 733.2L1534 733.2L1537 733.2L1540 733.2L1543 733.2L1544 733.2" fill="none" stroke="#0a0a0a" stroke-width="2.8" stroke-linejoin="round" stroke-linecap="round"/>
<path d="M835 1037.3L837 1037.3L839 1037.3L841 1037.3L843 1037.3L845 1037.3L847 1037.3L849 1037.3L851 1037.3L853 1037.3L855 1037.3L857 1037.3L859 1037.3L861 1037.3L863 1037.3L865 1037.3L867 1037.3L869 1037.2L871 1037.1L873 1036.8L875 1036.5L877 1036.1L879 1035.6L881 1035.1L883 1034.5L885 1033.9L887 1033.2L889 1032.5L891 1031.8L893 1031.1L895 1030.4L897 1029.5L899 1028.7L901 1027.7L903 1026.7L905 1025.6L907 1024.6L909 1023.5L911 1022.4L913 1021.3L915 1020.2L917 1019.2L919 1018.3L921 1017.3L923 1016.4L925 1015.4L927 1014.5L929 1013.5L931 1012.6L933 1011.8L935 1010.9L937 1010.2L939 1009.5L941 1008.9L943 1008.4L945 1008L947 1007.7L949 1007.4L951 1007.1L953 1006.9L955 1006.7L957 1006.5L959 1006.3L961 1006.1L963 1006L965 1005.8L967 1005.6L969 1005.5L971 1005.3L973 1005.2L975 1005.1L977 1005L979 1004.9L981 1004.8L983 1004.6L985 1004.4L987 1004.2L989 1003.8L991 1003.3L993 1002.5L995 1001.6L997 1000.5L999 999.3L1001 997.9L1003 996.5L1005 995.1L1007 993.5L1009 992L1011 990.3L1013 988.4L1015 986.5L1017 984.4L1019 982.2L1021 979.9L1023 977.4L1025 974.9L1027 972.2L1029 969.3L1031 966.3L1033 963.1L1035 959.7L1037 956.1L1039 952.2L1041 948.2L1043 944L1045 939.7L1047 935.2L1049 930.7L1051 926L1053 921.2L1055 916.3L1057 911.5L1059 906.6L1061 901.8L1063 897L1065 892.2L1067 887.4L1069 882.6L1071 877.7L1073 872.9L1075 868L1077 863.1L1079 858.2L1081 853.4L1083 848.8L1085 844.2L1087 839.8L1089 835.5L1091 831.3L1093 827.4L1095 823.8L1097 820.5L1099 817.5L1101 814.8L1103 812.3L1105 809.9L1107 807.7L1109 805.5L1111 803.4L1113 801.2L1115 799.2L1117 797.2L1119 795.2L1121 793.3L1123 791.5L1125 789.8L1127 788.1L1129 786.5L1131 784.9L1133 783.3L1135 781.8L1137 780.2L1139 778.7L1141 777.2L1143 775.7L1145 774.2L1147 772.7L1149 771.3L1151 769.9L1153 768.5L1155 767.1L1157 765.8L1159 764.6L1161 763.6L1163 762.7L1165 762L1167 761.3L1169 760.7L1171 760.3L1173 759.9L1175 759.6L1177 759.5L1179 759.4L1181 759.3L1183 759.4L1185 759.7L1187 760.1L1189 760.6L1191 761.3L1193 762.2L1195 763.1L1197 764.1L1199 765.2L1201 766.3L1203 767.7L1205 769.2L1207 770.9L1209 772.8L1211 774.8L1213 777L1215 779.2L1217 781.6L1219 784.1L1221 786.8L1223 789.4L1225 792.2L1227 794.9L1229 797.6L1231 800.3L1233 803.1L1235 805.9L1237 808.9L1239 811.9L1241 815.2L1243 818.6L1245 822.1L1247 825.8L1249 829.5L1251 833.3L1253 837.1L1255 841L1257 844.9L1259 848.9L1261 852.9L1263 857.1L1265 861.2L1267 865.5L1269 869.9L1271 874.3L1273 878.7L1275 883.2L1277 887.6L1279 892.1L1281 896.5L1283 901L1285 905.4L1287 909.8L1289 914.1L1291 918.3L1293 922.4L1295 926.4L1297 930.4L1299 934.3L1301 938.3L1303 942.2L1305 946.3L1307 950.3L1309 954.3L1311 958.3L1313 962.3L1315 966.2L1317 970L1319 973.8L1321 977.5L1323 981.2L1325 984.7L1327 988.1L1329 991.3L1331 994.4L1333 997.3L1335 1000.2L1337 1002.9L1339 1005.4L1341 1007.8L1343 1010.1L1345 1012.3L1347 1014.3L1349 1016.3L1351 1018.2L1353 1020L1355 1021.8L1357 1023.5L1359 1025.1L1361 1026.7L1363 1028.3L1365 1029.8L1367 1031.3L1369 1032.8L1371 1034.2L1373 1035.6L1375 1037L1377 1038.3L1379 1039.6L1381 1040.9L1383 1042.2L1385 1043.4L1387 1044.6L1389 1045.7L1391 1046.9L1393 1048L1395 1049L1397 1050.1L1399 1051.1L1401 1052.1L1403 1053L1405 1053.9L1407 1054.8L1409 1055.7L1411 1056.5L1413 1057.3L1415 1058L1417 1058.8L1419 1059.4L1421 1060.1L1423 1060.7L1425 1061.3L1427 1061.8L1429 1062.4L1431 1062.9L1433 1063.5L1435 1064L1437 1064.5L1439 1065L1441 1065.5L1443 1066L1445 1066.5L1447 1066.9L1449 1067.4L1451 1067.8L1453 1068.1L1455 1068.5L1457 1068.8L1459 1069.1L1461 1069.5L1463 1069.8L1465 1070.1L1467 1070.3L1469 1070.6L1471 1070.8L1473 1071.1L1475 1071.2L1477 1071.4L1479 1071.5L1481 1071.6L1483 1071.6L1485 1071.7L1487 1071.7L1489 1071.7L1491 1071.8L1493 1071.8L1495 1071.8L1497 1071.9L1499 1071.9L1501 1071.9L1503 1072L1505 1072L1507 1072L1509 1072L1511 1072L1513 1072.1L1515 1072.1L1517 1072.1L1519 1072.1L1521 1072.1L1523 1072.1L1525 1072.1L1527 1072.2L1529 1072.2L1531 1072.2L1533 1072.2L1535 1072.2L1537 1072.2L1539 1072.2L1541 1072.2L1543 1072.2L1544 1072.2" fill="none" stroke="#0a0a0a" stroke-width="2.4" stroke-linejoin="round" stroke-linecap="round"/>
<path d="M835 1024.8C835.9 1027.2 837.8 1032.1 839.7 1036.9C841.6 1041.7 842.5 1051.7 844.4 1048.9C846.3 1046.2 847.2 1027.5 849.1 1023.1C851 1018.6 851.9 1023.4 853.8 1026.8C855.7 1030.2 856.6 1037 858.5 1040.2C860.4 1043.4 861.3 1042.1 863.2 1042.8C865.1 1043.5 866 1041.8 867.9 1043.8C869.8 1045.8 870.7 1059.6 872.6 1052.7C874.5 1045.8 875.4 1012 877.3 1009.5C879.2 1006.9 880.1 1037.3 882 1040C883.9 1042.8 884.8 1025.9 886.7 1023.2C888.6 1020.6 889.5 1025.7 891.4 1026.8C893.3 1028 894.2 1025.7 896.1 1029C898 1032.3 898.9 1041.2 900.8 1043.5C902.7 1045.8 903.6 1046 905.5 1040.5C907.4 1035.1 908.3 1023.6 910.2 1016.2C912.1 1008.7 913 1001.1 914.9 1003.4C916.8 1005.6 917.7 1019.3 919.6 1027.6C921.5 1035.9 922.4 1047.5 924.3 1044.9C926.2 1042.3 927.1 1024.4 929 1014.6C930.9 1004.8 931.8 997.3 933.7 995.8C935.6 994.2 936.5 1008.8 938.4 1006.9C940.3 1005 941.2 980.7 943.1 986.3C945 991.9 945.9 1034.9 947.8 1034.7C949.7 1034.5 950.6 990.6 952.5 985.1C954.4 979.6 955.3 1004.3 957.2 1007.2C959.1 1010 960 993.4 961.9 999.4C963.8 1005.4 964.7 1035.7 966.6 1037.3C968.5 1038.9 969.4 1018 971.3 1007.6C973.2 997.1 974.1 986.1 976 985.1C977.9 984.1 978.8 1000.7 980.7 1002.4C982.6 1004 983.5 999.1 985.4 993.5C987.3 987.8 988.2 970.3 990.1 974C992 977.7 992.9 1004.9 994.8 1012C996.7 1019 997.6 1005.2 999.5 1009.1C1001.4 1013.1 1002.3 1035.2 1004.2 1031.7C1006.1 1028.1 1007 1007.5 1008.9 991.3C1010.8 975.1 1011.7 952.3 1013.6 950.7C1015.5 949.1 1016.4 977.8 1018.3 983.1C1020.2 988.4 1021.1 985.6 1023 977.4C1024.9 969.1 1025.8 944.9 1027.7 941.8C1029.6 938.7 1030.5 960.6 1032.4 961.9C1034.3 963.2 1035.2 951 1037.1 948.2C1039 945.3 1039.9 949.8 1041.8 947.6C1043.7 945.3 1044.6 944.6 1046.5 937C1048.4 929.5 1049.3 914.2 1051.2 909.9C1053.1 905.6 1054 915.7 1055.9 915.6C1057.8 915.4 1058.7 912.2 1060.6 909.1C1062.5 905.9 1063.4 905.2 1065.3 899.7C1067.2 894.3 1068.1 888.7 1070 882C1071.9 875.2 1072.8 872.3 1074.7 865.9C1076.6 859.4 1077.5 853.9 1079.4 849.6C1081.3 845.3 1082.2 846.7 1084.1 844.3C1086 841.9 1086.9 834.5 1088.8 837.7C1090.7 840.9 1091.6 864.8 1093.5 860.3C1095.4 855.8 1096.3 822 1098.2 815.4C1100.1 808.8 1101 828.5 1102.9 827.3C1104.8 826.1 1105.7 818.1 1107.6 809.5C1109.5 800.8 1110.4 787.3 1112.3 784.1C1114.2 780.9 1115.1 789.2 1117 793.4C1118.9 797.6 1119.8 808 1121.7 804.9C1123.6 801.8 1124.5 781.3 1126.4 778C1128.3 774.8 1129.2 786.8 1131.1 788.8C1133 790.9 1133.9 794.4 1135.8 788.4C1137.7 782.4 1138.6 762.5 1140.5 758.9C1142.4 755.3 1143.3 774.9 1145.2 770.5C1147.1 766.1 1148 736.3 1149.9 736.8C1151.8 737.3 1152.7 767.5 1154.6 773C1156.5 778.5 1157.4 767.8 1159.3 764.3C1161.2 760.9 1162.1 757.9 1164 755.8C1165.9 753.7 1166.8 755.6 1168.7 753.8C1170.6 752.1 1171.5 747.4 1173.4 747C1175.3 746.6 1176.2 749.8 1178.1 751.7C1180 753.7 1180.9 754.4 1182.8 756.8C1184.7 759.3 1185.6 766.9 1187.5 763.9C1189.4 760.9 1190.3 741.9 1192.2 741.9C1194.1 741.9 1195 759.1 1196.9 764.1C1198.8 769.2 1199.7 771.2 1201.6 767.3C1203.5 763.3 1204.4 737.6 1206.3 744.5C1208.2 751.4 1209.1 795.7 1211 801.7C1212.9 807.7 1213.8 781.3 1215.7 774.7C1217.6 768.1 1218.5 771 1220.4 768.7C1222.3 766.4 1223.2 756.5 1225.1 763.3C1227 770.1 1227.9 787.5 1229.8 802.8C1231.7 818.2 1232.6 838.8 1234.5 839.9C1236.4 841 1237.3 806.8 1239.2 808.3C1241.1 809.8 1242 844 1243.9 847.6C1245.8 851.2 1246.7 826 1248.6 826.5C1250.5 826.9 1251.4 847.2 1253.3 850C1255.2 852.7 1256.1 839.3 1258 840.3C1259.9 841.3 1260.8 850 1262.7 854.9C1264.6 859.9 1265.5 864.5 1267.4 865.2C1269.3 865.8 1270.2 851.6 1272.1 858.3C1274 865.1 1274.9 891.4 1276.8 898.7C1278.7 906 1279.6 886.5 1281.5 894.8C1283.4 903.1 1284.3 937.1 1286.2 940.4C1288.1 943.6 1289 910.4 1290.9 911.1C1292.8 911.8 1293.7 944.2 1295.6 943.9C1297.5 943.5 1298.4 905.1 1300.3 909.5C1302.2 914 1303.1 961.9 1305 966.3C1306.9 970.6 1307.8 928.9 1309.7 931.2C1311.6 933.4 1312.5 964 1314.4 977.4C1316.3 990.7 1317.2 997.6 1319.1 998C1321 998.3 1321.9 981.4 1323.8 979.2C1325.7 977 1326.6 980.5 1328.5 987C1330.4 993.5 1331.3 1004.6 1333.2 1011.8C1335.1 1019 1336 1016.2 1337.9 1023C1339.8 1029.7 1340.7 1046.2 1342.6 1045.5C1344.5 1044.9 1345.4 1025.9 1347.3 1019.6C1349.2 1013.3 1350.1 1007.2 1352 1014C1353.9 1020.8 1354.8 1051.4 1356.7 1053.6C1358.6 1055.9 1359.5 1031.4 1361.4 1025.1C1363.3 1018.8 1364.2 1026.9 1366.1 1022.2C1368 1017.5 1368.9 999.2 1370.8 1001.6C1372.7 1004 1373.6 1028.2 1375.5 1034.4C1377.4 1040.5 1378.3 1028.5 1380.2 1032.2C1382.1 1035.8 1383 1050.7 1384.9 1052.6C1386.8 1054.4 1387.7 1038.7 1389.6 1041.2C1391.5 1043.8 1392.4 1064.6 1394.3 1065.2C1396.2 1065.8 1397.1 1051.6 1399 1044.3C1400.9 1037.1 1401.8 1025.8 1403.7 1029.1C1405.6 1032.3 1406.5 1053 1408.4 1060.6C1410.3 1068.1 1411.2 1062.7 1413.1 1066.7C1415 1070.7 1415.9 1087.4 1417.8 1080.6C1419.7 1073.7 1420.6 1041.8 1422.5 1032.5C1424.4 1023.1 1425.3 1025.8 1427.2 1033.8C1429.1 1041.8 1430 1066.5 1431.9 1072.6C1433.8 1078.6 1434.7 1060.6 1436.6 1063.9C1438.5 1067.3 1439.4 1090.4 1441.3 1089.5C1443.2 1088.6 1444.1 1061.9 1446 1059.6C1447.9 1057.3 1448.8 1076.8 1450.7 1077.9C1452.6 1079 1453.5 1062.7 1455.4 1065C1457.3 1067.3 1458.2 1089.2 1460.1 1089.5C1462 1089.8 1462.9 1068.2 1464.8 1066.6C1466.7 1065 1467.6 1084.7 1469.5 1081.7C1471.4 1078.6 1472.3 1055.2 1474.2 1051.6C1476.1 1047.9 1477 1059.5 1478.9 1063.2C1480.8 1067 1481.7 1068.6 1483.6 1070.5C1485.5 1072.5 1486.4 1072.4 1488.3 1072.9C1490.2 1073.3 1491.1 1077.9 1493 1072.6C1494.9 1067.4 1495.8 1050 1497.7 1046.7C1499.6 1043.3 1500.5 1050 1502.4 1056C1504.3 1061.9 1505.2 1073.1 1507.1 1076.4C1509 1079.7 1509.9 1069.8 1511.8 1072.5C1513.7 1075.1 1514.6 1089.6 1516.5 1089.5C1518.4 1089.4 1519.3 1074.1 1521.2 1072.1C1523.1 1070 1524 1079.8 1525.9 1079.4C1527.8 1079.1 1528.7 1072.5 1530.6 1070.4C1532.5 1068.2 1533.4 1072.5 1535.3 1068.7C1537.2 1064.9 1539.1 1054.8 1540 1051.3" fill="none" stroke="#0a0a0a" stroke-width="2.5" stroke-linejoin="round" stroke-linecap="round"/>
<path d="M835 1036.9L837 1037L839 1037.2L841 1037.4L843 1037.6L845 1037.8L847 1038L849 1038.1L851 1038.3L853 1038.4L855 1038.6L857 1038.7L859 1038.7L861 1038.8L863 1038.8L865 1038.8L867 1038.8L869 1038.7L871 1038.6L873 1038.5L875 1038.3L877 1038.1L879 1037.8L881 1037.5L883 1037.2L885 1036.8L887 1036.3L889 1035.8L891 1035.3L893 1034.7L895 1034.1L897 1033.4L899 1032.7L901 1032L903 1031.2L905 1030.4L907 1029.6L909 1028.7L911 1027.8L913 1026.9L915 1026L917 1025.1L919 1024.2L921 1023.4L923 1022.5L925 1021.7L927 1020.9L929 1020.2L931 1019.5L933 1018.9L935 1018.4L937 1017.9L939 1017.6L941 1017.3L943 1017.2L945 1017.1L947 1017.2L949 1017.4L951 1017.7L953 1018.2L955 1018.7L957 1019.4L959 1020.1L961 1021L963 1022L965 1023L967 1024.2L969 1025.4L971 1026.7L973 1028.1L975 1029.5L977 1031L979 1032.5L981 1034L983 1035.5L985 1037.1L987 1038.6L989 1040.2L991 1041.8L993 1043.3L995 1044.8L997 1046.3L999 1047.8L1001 1049.2L1003 1050.5L1005 1051.9L1007 1053.2L1009 1054.4L1011 1055.6L1013 1056.7L1015 1057.8L1017 1058.8L1019 1059.7L1021 1060.6L1023 1061.5L1025 1062.3L1027 1063L1029 1063.7L1031 1064.3L1033 1064.9L1035 1065.5L1037 1066L1039 1066.5L1041 1066.9L1043 1067.3L1045 1067.7L1047 1068.1L1049 1068.4L1051 1068.7L1053 1069L1055 1069.2L1057 1069.5L1059 1069.7L1061 1069.9L1063 1070.1L1065 1070.3L1067 1070.4L1069 1070.6L1071 1070.7L1073 1070.8" fill="none" stroke="#f6a81c" stroke-width="2.4" stroke-linejoin="round" stroke-linecap="round"/>
<path d="M835 1036.9L837 1037.1L839 1037.3L841 1037.6L843 1037.9L845 1038.2L847 1038.5L849 1038.8L851 1039.1L853 1039.4L855 1039.7L857 1040L859 1040.4L861 1040.7L863 1041L865 1041.3L867 1041.6L869 1042L871 1042.3L873 1042.6L875 1043L877 1043.3L879 1043.6L881 1044L883 1044.3L885 1044.6L887 1045L889 1045.3L891 1045.7L893 1046L895 1046.4L897 1046.7L899 1047.1L901 1047.4L903 1047.8L905 1048.1L907 1048.4L909 1048.8L911 1049.1L913 1049.4L915 1049.7L917 1049.9L919 1050.2L921 1050.4L923 1050.7L925 1050.9L927 1051.1L929 1051.2L931 1051.4L933 1051.5L935 1051.5L937 1051.6L939 1051.6L941 1051.6L943 1051.6L945 1051.6L947 1051.5L949 1051.3L951 1051.1L953 1050.9L955 1050.6L957 1050.3L959 1049.9L961 1049.5L963 1049L965 1048.4L967 1047.8L969 1047.1L971 1046.3L973 1045.5L975 1044.5L977 1043.5L979 1042.4L981 1041.2L983 1039.9L985 1038.5L987 1037L989 1035.4L991 1033.8L993 1032L995 1030.2L997 1028.2L999 1026.2L1001 1024.1L1003 1021.8L1005 1019.5L1007 1017.1L1009 1014.6L1011 1012L1013 1009.3L1015 1006.5L1017 1003.7L1019 1000.7L1021 997.7L1023 994.6L1025 991.5L1027 988.3L1029 985L1031 981.7L1033 978.4L1035 975L1037 971.6L1039 968.2L1041 964.9L1043 961.5L1045 958.1L1047 954.8L1049 951.4L1051 948.2L1053 945L1055 941.8L1057 938.8L1059 935.8L1061 932.9L1063 930.1L1065 927.5L1067 924.9L1069 922.6L1071 920.3L1073 918.2L1075 916.3L1077 914.5L1079 912.9L1081 911.5L1083 910.3L1085 909.2L1087 908.4L1089 907.8L1091 907.4L1093 907.2L1095 907.3L1097 907.5L1099 908L1101 908.6L1103 909.5L1105 910.6L1107 911.9L1109 913.4L1111 915L1113 916.9L1115 918.9L1117 921.1L1119 923.5L1121 926L1123 928.7L1125 931.4L1127 934.3L1129 937.3L1131 940.5L1133 943.7L1135 946.9L1137 950.3L1139 953.7L1141 957.1L1143 960.6L1145 964.1L1147 967.7L1149 971.2L1151 974.7L1153 978.3L1155 981.8L1157 985.3L1159 988.7L1161 992.1L1163 995.5L1165 998.8L1167 1002.1L1169 1005.3L1171 1008.4L1173 1011.4L1175 1014.4L1177 1017.3L1179 1020.1L1181 1022.8L1183 1025.4L1185 1028L1187 1030.4L1189 1032.8L1191 1035.1L1193 1037.2L1195 1039.3L1197 1041.3L1199 1043.2L1201 1045L1203 1046.8L1205 1048.4L1207 1050L1209 1051.4L1211 1052.8L1213 1054.2L1215 1055.4L1217 1056.6L1219 1057.7L1221 1058.7L1223 1059.7L1225 1060.6L1227 1061.5L1229 1062.3L1231 1063L1233 1063.7L1235 1064.3L1237 1064.9L1239 1065.5L1241 1066L1243 1066.5L1245 1066.9L1247 1067.3L1249 1067.7L1251 1068L1253 1068.4L1255 1068.7L1257 1068.9L1259 1069.2L1261 1069.4L1263 1069.6L1265 1069.8L1267 1070L1269 1070.1L1271 1070.3L1273 1070.4L1275 1070.5L1277 1070.6L1279 1070.7L1281 1070.8L1283 1070.9L1285 1071L1287 1071.1L1289 1071.1L1291 1071.2L1293 1071.3L1295 1071.3L1297 1071.3L1299 1071.4L1301 1071.4L1303 1071.5L1305 1071.5L1307 1071.5L1309 1071.6L1311 1071.6L1313 1071.6L1315 1071.6L1317 1071.6L1319 1071.7L1321 1071.7L1323 1071.7L1325 1071.7L1327 1071.7L1329 1071.8L1331 1071.8L1333 1071.8L1335 1071.8L1337 1071.8L1339 1071.8L1341 1071.8L1343 1071.8L1345 1071.8L1347 1071.9L1349 1071.9L1351 1071.9L1353 1071.9L1355 1071.9L1357 1071.9L1359 1071.9L1361 1071.9L1363 1071.9L1365 1071.9L1367 1071.9L1369 1071.9L1371 1071.9L1373 1072L1375 1072L1377 1072L1379 1072L1381 1072L1383 1072L1385 1072L1387 1072L1389 1072L1391 1072L1393 1072L1395 1072" fill="none" stroke="#6f35a0" stroke-width="2.4" stroke-linejoin="round" stroke-linecap="round"/>
<path d="M857.5 1040.4L859.5 1040.7L861.5 1041.1L863.5 1041.4L865.5 1041.7L867.5 1042.1L869.5 1042.4L871.5 1042.7L873.5 1043.1L875.5 1043.4L877.5 1043.8L879.5 1044.1L881.5 1044.5L883.5 1044.9L885.5 1045.2L887.5 1045.6L889.5 1046L891.5 1046.4L893.5 1046.8L895.5 1047.2L897.5 1047.6L899.5 1048L901.5 1048.4L903.5 1048.8L905.5 1049.2L907.5 1049.6L909.5 1050L911.5 1050.4L913.5 1050.8L915.5 1051.2L917.5 1051.6L919.5 1052L921.5 1052.4L923.5 1052.8L925.5 1053.2L927.5 1053.5L929.5 1053.9L931.5 1054.3L933.5 1054.7L935.5 1055L937.5 1055.4L939.5 1055.8L941.5 1056.1L943.5 1056.5L945.5 1056.8L947.5 1057.2L949.5 1057.6L951.5 1057.9L953.5 1058.3L955.5 1058.6L957.5 1059L959.5 1059.3L961.5 1059.6L963.5 1060L965.5 1060.3L967.5 1060.6L969.5 1060.9L971.5 1061.1L973.5 1061.4L975.5 1061.7L977.5 1061.9L979.5 1062.1L981.5 1062.3L983.5 1062.5L985.5 1062.7L987.5 1062.9L989.5 1063L991.5 1063.2L993.5 1063.3L995.5 1063.4L997.5 1063.5L999.5 1063.6L1001.5 1063.6L1003.5 1063.7L1005.5 1063.7L1007.5 1063.7L1009.5 1063.7L1011.5 1063.7L1013.5 1063.6L1015.5 1063.5L1017.5 1063.4L1019.5 1063.2L1021.5 1063L1023.5 1062.8L1025.5 1062.5L1027.5 1062.2L1029.5 1061.9L1031.5 1061.5L1033.5 1061L1035.5 1060.6L1037.5 1060L1039.5 1059.4L1041.5 1058.8L1043.5 1058.1L1045.5 1057.3L1047.5 1056.5L1049.5 1055.6L1051.5 1054.7L1053.5 1053.6L1055.5 1052.5L1057.5 1051.3L1059.5 1050.1L1061.5 1048.7L1063.5 1047.3L1065.5 1045.7L1067.5 1044.1L1069.5 1042.4L1071.5 1040.6L1073.5 1038.6L1075.5 1036.6L1077.5 1034.5L1079.5 1032.3L1081.5 1029.9L1083.5 1027.5L1085.5 1024.9L1087.5 1022.3L1089.5 1019.5L1091.5 1016.7L1093.5 1013.7L1095.5 1010.7L1097.5 1007.6L1099.5 1004.4L1101.5 1001.1L1103.5 997.7L1105.5 994.3L1107.5 990.7L1109.5 987.2L1111.5 983.5L1113.5 979.8L1115.5 976.1L1117.5 972.3L1119.5 968.5L1121.5 964.7L1123.5 960.8L1125.5 957L1127.5 953.1L1129.5 949.3L1131.5 945.5L1133.5 941.8L1135.5 938.1L1137.5 934.4L1139.5 930.8L1141.5 927.3L1143.5 923.9L1145.5 920.6L1147.5 917.4L1149.5 914.4L1151.5 911.4L1153.5 908.7L1155.5 906L1157.5 903.6L1159.5 901.3L1161.5 899.2L1163.5 897.3L1165.5 895.6L1167.5 894.1L1169.5 892.8L1171.5 891.8L1173.5 890.9L1175.5 890.3L1177.5 889.9L1179.5 889.8L1181.5 889.9L1183.5 890.2L1185.5 890.8L1187.5 891.5L1189.5 892.5L1191.5 893.8L1193.5 895.2L1195.5 896.9L1197.5 898.7L1199.5 900.8L1201.5 903L1203.5 905.4L1205.5 908L1207.5 910.8L1209.5 913.7L1211.5 916.7L1213.5 919.9L1215.5 923.1L1217.5 926.5L1219.5 930L1221.5 933.6L1223.5 937.2L1225.5 941L1227.5 944.7L1229.5 948.5L1231.5 952.3L1233.5 956.2L1235.5 960L1237.5 963.9L1239.5 967.8L1241.5 971.6L1243.5 975.4L1245.5 979.2L1247.5 982.9L1249.5 986.6L1251.5 990.2L1253.5 993.8L1255.5 997.3L1257.5 1000.7L1259.5 1004L1261.5 1007.3L1263.5 1010.5L1265.5 1013.6L1267.5 1016.5L1269.5 1019.4L1271.5 1022.3L1273.5 1025L1275.5 1027.6L1277.5 1030.1L1279.5 1032.5L1281.5 1034.8L1283.5 1037L1285.5 1039.1L1287.5 1041.2L1289.5 1043.1L1291.5 1044.9L1293.5 1046.7L1295.5 1048.3L1297.5 1049.9L1299.5 1051.4L1301.5 1052.8L1303.5 1054.1L1305.5 1055.4L1307.5 1056.5L1309.5 1057.6L1311.5 1058.7L1313.5 1059.6L1315.5 1060.6L1317.5 1061.4L1319.5 1062.2L1321.5 1062.9L1323.5 1063.6L1325.5 1064.3L1327.5 1064.9L1329.5 1065.4L1331.5 1065.9L1333.5 1066.4L1335.5 1066.8L1337.5 1067.2L1339.5 1067.6L1341.5 1067.9L1343.5 1068.3L1345.5 1068.6L1347.5 1068.8L1349.5 1069.1L1351.5 1069.3L1353.5 1069.5L1355.5 1069.7L1357.5 1069.9L1359.5 1070L1361.5 1070.2L1363.5 1070.3L1365.5 1070.4L1367.5 1070.5L1369.5 1070.6L1371.5 1070.7L1373.5 1070.8L1375.5 1070.9L1377.5 1071L1379.5 1071L1381.5 1071.1L1383.5 1071.1L1385.5 1071.2L1387.5 1071.2L1389.5 1071.3L1391.5 1071.3L1393.5 1071.3L1395.5 1071.4L1397.5 1071.4L1399.5 1071.4L1401.5 1071.5L1403.5 1071.5L1405.5 1071.5L1407.5 1071.5L1409.5 1071.5L1411.5 1071.6L1413.5 1071.6L1415.5 1071.6L1417.5 1071.6L1419.5 1071.6L1421.5 1071.6L1423.5 1071.6L1425.5 1071.7L1427.5 1071.7L1429.5 1071.7L1431.5 1071.7L1433.5 1071.7L1435.5 1071.7L1437.5 1071.7L1439.5 1071.7L1441.5 1071.7L1443.5 1071.7L1445.5 1071.7L1447.5 1071.8L1449.5 1071.8L1451.5 1071.8L1453.5 1071.8L1455.5 1071.8L1457.5 1071.8L1459.5 1071.8L1461.5 1071.8L1463.5 1071.8L1465.5 1071.8L1467.5 1071.8L1469.5 1071.8L1471.5 1071.8L1473.5 1071.8L1475.5 1071.8L1477.5 1071.8L1479.5 1071.8L1481.5 1071.8L1483.5 1071.8L1485.5 1071.8L1487.5 1071.8L1489.5 1071.8L1491.5 1071.8L1493.5 1071.8L1495.5 1071.8L1497.5 1071.9L1499.5 1071.9L1501.5 1071.9" fill="none" stroke="#2f76c9" stroke-width="2.4" stroke-linejoin="round" stroke-linecap="round"/>
<path d="M931.9 1054.7L933.9 1055L935.9 1055.4L937.9 1055.8L939.9 1056.2L941.9 1056.5L943.9 1056.9L945.9 1057.3L947.9 1057.7L949.9 1058L951.9 1058.4L953.9 1058.8L955.9 1059.1L957.9 1059.5L959.9 1059.8L961.9 1060.2L963.9 1060.5L965.9 1060.9L967.9 1061.2L969.9 1061.5L971.9 1061.8L973.9 1062.1L975.9 1062.4L977.9 1062.7L979.9 1063L981.9 1063.2L983.9 1063.5L985.9 1063.7L987.9 1064L989.9 1064.2L991.9 1064.4L993.9 1064.6L995.9 1064.9L997.9 1065.1L999.9 1065.3L1001.9 1065.5L1003.9 1065.7L1005.9 1065.9L1007.9 1066.1L1009.9 1066.2L1011.9 1066.4L1013.9 1066.6L1015.9 1066.8L1017.9 1066.9L1019.9 1067.1L1021.9 1067.2L1023.9 1067.3L1025.9 1067.4L1027.9 1067.6L1029.9 1067.7L1031.9 1067.8L1033.9 1067.8L1035.9 1067.9L1037.9 1068L1039.9 1068.1L1041.9 1068.1L1043.9 1068.2L1045.9 1068.2L1047.9 1068.3L1049.9 1068.3L1051.9 1068.3L1053.9 1068.3L1055.9 1068.3L1057.9 1068.3L1059.9 1068.2L1061.9 1068.2L1063.9 1068.1L1065.9 1068L1067.9 1067.9L1069.9 1067.8L1071.9 1067.6L1073.9 1067.5L1075.9 1067.3L1077.9 1067L1079.9 1066.8L1081.9 1066.5L1083.9 1066.2L1085.9 1065.8L1087.9 1065.4L1089.9 1065L1091.9 1064.6L1093.9 1064.1L1095.9 1063.6L1097.9 1063.1L1099.9 1062.5L1101.9 1061.9L1103.9 1061.2L1105.9 1060.5L1107.9 1059.8L1109.9 1059L1111.9 1058.2L1113.9 1057.3L1115.9 1056.4L1117.9 1055.4L1119.9 1054.4L1121.9 1053.3L1123.9 1052.1L1125.9 1050.9L1127.9 1049.7L1129.9 1048.4L1131.9 1047L1133.9 1045.5L1135.9 1044L1137.9 1042.5L1139.9 1040.8L1141.9 1039.1L1143.9 1037.4L1145.9 1035.5L1147.9 1033.6L1149.9 1031.7L1151.9 1029.6L1153.9 1027.6L1155.9 1025.4L1157.9 1023.2L1159.9 1020.9L1161.9 1018.6L1163.9 1016.2L1165.9 1013.8L1167.9 1011.3L1169.9 1008.8L1171.9 1006.2L1173.9 1003.6L1175.9 1000.9L1177.9 998.2L1179.9 995.5L1181.9 992.7L1183.9 989.9L1185.9 987.2L1187.9 984.4L1189.9 981.5L1191.9 978.7L1193.9 975.9L1195.9 973.1L1197.9 970.4L1199.9 967.6L1201.9 964.9L1203.9 962.2L1205.9 959.6L1207.9 957L1209.9 954.4L1211.9 952L1213.9 949.6L1215.9 947.2L1217.9 945L1219.9 942.8L1221.9 940.7L1223.9 938.8L1225.9 936.9L1227.9 935.2L1229.9 933.5L1231.9 932L1233.9 930.7L1235.9 929.4L1237.9 928.3L1239.9 927.3L1241.9 926.5L1243.9 925.8L1245.9 925.3L1247.9 924.9L1249.9 924.7L1251.9 924.6L1253.9 924.7L1255.9 924.9L1257.9 925.3L1259.9 925.8L1261.9 926.5L1263.9 927.3L1265.9 928.3L1267.9 929.4L1269.9 930.7L1271.9 932L1273.9 933.5L1275.9 935.2L1277.9 936.9L1279.9 938.8L1281.9 940.7L1283.9 942.8L1285.9 945L1287.9 947.2L1289.9 949.6L1291.9 952L1293.9 954.5L1295.9 957L1297.9 959.6L1299.9 962.2L1301.9 964.9L1303.9 967.7L1305.9 970.4L1307.9 973.2L1309.9 976L1311.9 978.8L1313.9 981.6L1315.9 984.4L1317.9 987.2L1319.9 990L1321.9 992.8L1323.9 995.6L1325.9 998.3L1327.9 1001L1329.9 1003.7L1331.9 1006.3L1333.9 1008.9L1335.9 1011.4L1337.9 1013.9L1339.9 1016.4L1341.9 1018.8L1343.9 1021.1L1345.9 1023.4L1347.9 1025.6L1349.9 1027.8L1351.9 1029.9L1353.9 1031.9L1355.9 1033.9L1357.9 1035.8L1359.9 1037.6L1361.9 1039.4L1363.9 1041.1L1365.9 1042.8L1367.9 1044.4L1369.9 1045.9L1371.9 1047.4L1373.9 1048.8L1375.9 1050.1L1377.9 1051.4L1379.9 1052.6L1381.9 1053.7L1383.9 1054.9L1385.9 1055.9L1387.9 1056.9L1389.9 1057.8L1391.9 1058.7L1393.9 1059.6L1395.9 1060.4L1397.9 1061.2L1399.9 1061.9L1401.9 1062.5L1403.9 1063.2L1405.9 1063.8L1407.9 1064.3L1409.9 1064.9L1411.9 1065.3L1413.9 1065.8L1415.9 1066.2L1417.9 1066.6L1419.9 1067L1421.9 1067.4L1423.9 1067.7L1425.9 1068L1427.9 1068.3L1429.9 1068.5L1431.9 1068.8L1433.9 1069L1435.9 1069.2L1437.9 1069.4L1439.9 1069.6L1441.9 1069.8L1443.9 1069.9L1445.9 1070.1L1447.9 1070.2L1449.9 1070.3L1451.9 1070.4L1453.9 1070.5L1455.9 1070.6L1457.9 1070.7L1459.9 1070.8L1461.9 1070.9L1463.9 1070.9L1465.9 1071L1467.9 1071L1469.9 1071.1L1471.9 1071.1L1473.9 1071.2L1475.9 1071.2L1477.9 1071.3L1479.9 1071.3L1481.9 1071.3L1483.9 1071.4L1485.9 1071.4L1487.9 1071.4L1489.9 1071.4L1491.9 1071.5L1493.9 1071.5L1495.9 1071.5L1497.9 1071.5L1499.9 1071.5L1501.9 1071.5L1503.9 1071.5L1505.9 1071.6L1507.9 1071.6L1509.9 1071.6L1511.9 1071.6L1513.9 1071.6L1515.9 1071.6L1517.9 1071.6L1519.9 1071.6L1521.9 1071.6L1523.9 1071.6L1525.9 1071.6L1527.9 1071.6L1529.9 1071.6L1531.9 1071.6L1533.9 1071.6L1535.9 1071.7L1537.9 1071.7L1539.9 1071.7L1541.9 1071.7L1543.9 1071.7" fill="none" stroke="#1fa54e" stroke-width="2.4" stroke-linejoin="round" stroke-linecap="round"/>
<path d="M1309.7 1072L1311.7 1071.9L1313.7 1071.8L1315.7 1071.7L1317.7 1071.6L1319.7 1071.4L1321.7 1071.3L1323.7 1071.1L1325.7 1070.9L1327.7 1070.7L1329.7 1070.4L1331.7 1070.1L1333.7 1069.9L1335.7 1069.5L1337.7 1069.2L1339.7 1068.8L1341.7 1068.4L1343.7 1068L1345.7 1067.6L1347.7 1067.1L1349.7 1066.7L1351.7 1066.2L1353.7 1065.7L1355.7 1065.2L1357.7 1064.7L1359.7 1064.3L1361.7 1063.8L1363.7 1063.4L1365.7 1063L1367.7 1062.6L1369.7 1062.3L1371.7 1062L1373.7 1061.7L1375.7 1061.5L1377.7 1061.4L1379.7 1061.3L1381.7 1061.3L1383.7 1061.3L1385.7 1061.4L1387.7 1061.5L1389.7 1061.7L1391.7 1062L1393.7 1062.3L1395.7 1062.6L1397.7 1063L1399.7 1063.4L1401.7 1063.8L1403.7 1064.3L1405.7 1064.7L1407.7 1065.2L1409.7 1065.7L1411.7 1066.1L1413.7 1066.6L1415.7 1067.1L1417.7 1067.5L1419.7 1068L1421.7 1068.4L1423.7 1068.8L1425.7 1069.1L1427.7 1069.5L1429.7 1069.8L1431.7 1070.1L1433.7 1070.3L1435.7 1070.6L1437.7 1070.8L1439.7 1071L1441.7 1071.2L1443.7 1071.4L1445.7 1071.5L1447.7 1071.6L1449.7 1071.7L1451.7 1071.8L1453.7 1071.9" fill="none" stroke="#ee1c2e" stroke-width="2.4" stroke-linejoin="round" stroke-linecap="round"/>
<path d="M835 1037.5L838 1037.8L841 1038.2L844 1038.7L847 1039.1L850 1039.6L853 1040.1L856 1040.6L859 1041.1L862 1041.6L865 1042.1L868 1042.6L871 1043.1L874 1043.7L877 1044.2L880 1044.7L883 1045.3L886 1045.9L889 1046.4L892 1047L895 1047.6L898 1048.2L901 1048.9L904 1049.5L907 1050.1L910 1050.7L913 1051.3L916 1052L919 1052.6L922 1053.2L925 1053.8L928 1054.4L931 1054.9L934 1055.5L937 1056.1L940 1056.7L943 1057.2L946 1057.8L949 1058.4L952 1058.9L955 1059.5L958 1060L961 1060.6L964 1061.1L967 1061.6L970 1062.1L973 1062.6L976 1063L979 1063.5L982 1063.9L985 1064.3L988 1064.6L991 1065L994 1065.4L997 1065.7L1000 1066.1L1003 1066.4L1006 1066.7L1009 1067L1012 1067.3L1015 1067.6L1018 1067.9L1021 1068.1L1024 1068.4L1027 1068.6L1030 1068.8L1033 1069L1036 1069.2L1039 1069.4L1042 1069.6L1045 1069.8L1048 1070L1051 1070.2L1054 1070.4L1057 1070.6L1060 1070.7L1063 1070.9L1066 1071L1069 1071.2L1072 1071.3L1075 1071.4L1078 1071.5L1081 1071.5L1084 1071.6L1087 1071.6L1090 1071.7L1093 1071.7L1096 1071.7L1099 1071.8L1102 1071.8L1105 1071.8L1108 1071.9L1111 1071.9L1114 1071.9L1117 1072L1120 1072L1123 1072L1126 1072L1129 1072.1L1132 1072.1L1135 1072.1L1138 1072.1L1141 1072.2L1144 1072.2L1147 1072.2L1150 1072.2L1153 1072.3L1156 1072.3L1159 1072.3L1162 1072.3L1165 1072.3L1168 1072.3L1171 1072.4L1174 1072.4L1177 1072.4L1180 1072.4L1183 1072.4L1186 1072.4L1189 1072.4L1192 1072.4L1195 1072.4L1198 1072.5L1201 1072.5L1204 1072.5L1207 1072.5L1210 1072.5L1213 1072.5L1216 1072.5L1219 1072.5L1222 1072.5L1225 1072.5L1228 1072.5L1231 1072.5L1234 1072.5L1237 1072.5L1240 1072.5L1243 1072.5L1246 1072.5L1249 1072.5L1252 1072.5L1255 1072.5L1258 1072.5L1261 1072.5L1264 1072.5L1267 1072.5L1270 1072.5L1273 1072.5L1276 1072.5L1279 1072.5L1282 1072.5L1285 1072.5L1288 1072.5L1291 1072.5L1294 1072.5L1297 1072.5L1300 1072.5L1303 1072.5L1306 1072.5L1309 1072.5L1312 1072.5L1315 1072.5L1318 1072.5L1321 1072.5L1324 1072.5L1327 1072.5L1330 1072.5L1333 1072.5L1336 1072.5L1339 1072.5L1342 1072.5L1345 1072.5L1348 1072.5L1351 1072.5L1354 1072.5L1357 1072.5L1360 1072.5L1363 1072.5L1366 1072.5L1369 1072.5L1372 1072.5L1375 1072.5L1378 1072.5L1381 1072.5L1384 1072.5L1387 1072.5L1390 1072.5L1393 1072.5L1396 1072.5L1399 1072.5L1402 1072.5L1405 1072.4L1408 1072.4L1411 1072.4L1414 1072.4L1417 1072.4L1420 1072.4L1423 1072.4L1426 1072.4L1429 1072.4L1432 1072.4L1435 1072.4L1438 1072.4L1441 1072.4L1444 1072.4L1447 1072.4L1450 1072.4L1453 1072.4L1456 1072.4L1459 1072.4L1462 1072.4L1465 1072.4L1468 1072.4L1471 1072.4L1474 1072.4L1477 1072.4L1480 1072.3L1483 1072.3L1486 1072.3L1489 1072.3L1492 1072.3L1495 1072.3L1498 1072.3L1501 1072.3L1504 1072.3L1507 1072.3L1510 1072.3L1513 1072.3L1516 1072.3L1519 1072.3L1522 1072.3L1525 1072.3L1528 1072.2L1531 1072.2L1534 1072.2L1537 1072.2L1540 1072.2L1543 1072.2L1544 1072.2" fill="none" stroke="#0a0a0a" stroke-width="2.8" stroke-linejoin="round" stroke-linecap="round"/>
<path d="M923 1391.8L948.4 1389.8L951.2 1402.5" fill="none" stroke="#f6a81c" stroke-width="2.4" stroke-linejoin="round" stroke-linecap="round"/>
<path d="M916 1383L923 1394.6L948.4 1392.8L952.2 1412.2" fill="none" stroke="#0a0a0a" stroke-width="2.4" stroke-linejoin="round" stroke-linecap="round"/>
<path d="M951 1401.4L953 1400.4L955 1399L957 1397.4L959 1395.8L961 1394L963 1392.2L965 1390.3L967 1388.4L969 1386.4L971 1384.2L973 1382L975 1379.6L977 1377.1L979 1374.6L981 1372.3L983 1370.1L985 1368L987 1366L989 1364L991 1362.2L993 1360.6L995 1359.1L997 1357.8L999 1356.5L1001 1355.3L1003 1354.3L1005 1353.4L1007 1352.7L1009 1352.2L1011 1351.8L1013 1351.4L1015 1351.1L1017 1350.9L1019 1350.7L1021 1350.7L1023 1350.7L1025 1350.9L1027 1351.1L1029 1351.4L1031 1351.8L1033 1352.2L1035 1352.7L1037 1353.3L1039 1353.9L1041 1354.6L1043 1355.3L1045 1355.8L1047 1356.2L1049 1356.6L1051 1356.8L1053 1357L1055 1357.2L1057 1357.3L1059 1357.3L1061 1356.9L1063 1356.2L1065 1355.1L1067 1353.7L1069 1352.2L1071 1350.5L1073 1348.7L1075 1346.6L1077 1344.1L1079 1341.5L1081 1338.6L1083 1335.7L1085 1332.7L1087 1329.6L1089 1326.4L1091 1323L1093 1319.5L1095 1315.9L1097 1312.1L1099 1308.1L1101 1304L1103 1299.7L1105 1295.2L1107 1290.7L1109 1286.1L1111 1281.4L1113 1276.6L1115 1271.7L1117 1266.8L1119 1261.9L1121 1257.2L1123 1252.7L1125 1248.4L1127 1244.3L1129 1240.3L1131 1236.4L1133 1232.5L1135 1228.6L1137 1224.6L1139 1220.6L1141 1216.6L1143 1212.6L1145 1208.7L1147 1204.7L1149 1200.8L1151 1196.9L1153 1193L1155 1189.2L1157 1185.2L1159 1181.1L1161 1176.8L1163 1172.3L1165 1167.4L1167 1162.4L1169 1157.3L1171 1152.4L1173 1147.7L1175 1143.2L1177 1138.9L1179 1134.7L1181 1130.7L1183 1127L1185 1123.5L1187 1120.3L1189 1117.3L1191 1114.4L1193 1111.8L1195 1109.5L1197 1107.7L1199 1106.4L1201 1105.5L1203 1104.7L1205 1104.1L1207 1103.8L1209 1103.8L1211 1104.5L1213 1105.7L1215 1107.2L1217 1109L1219 1110.8L1221 1112.7L1223 1114.7L1225 1116.8L1227 1118.9L1229 1120.9L1231 1122.7L1233 1124.3L1235 1125.8L1237 1127.2L1239 1128.5L1241 1129.5L1243 1130.3L1245 1130.9L1247 1131.3L1249 1131.6L1251 1131.9L1253 1132L1255 1131.9L1257 1131.5L1259 1130.8L1261 1130L1263 1129L1265 1128.1L1267 1127.2L1269 1126.2L1271 1125.2L1273 1124.3L1275 1123.7L1277 1123.4L1279 1123.3L1281 1123.4L1283 1123.7L1285 1124L1287 1124.5L1289 1125.3L1291 1126.6L1293 1128.3L1295 1130.4L1297 1132.7L1299 1135.3L1301 1138.2L1303 1141.6L1305 1145.4L1307 1149.5L1309 1154L1311 1159.1L1313 1164.7L1315 1170.5L1317 1176.3L1319 1182L1321 1187.6L1323 1193.1L1325 1198.6L1327 1204L1329 1209.2L1331 1214.2L1333 1219.2L1335 1224L1337 1228.7L1339 1233.3L1341 1237.7L1343 1242.1L1345 1246.3L1347 1250.4L1349 1254.3L1351 1258.2L1353 1261.9L1355 1265.4L1357 1268.8L1359 1272.1L1361 1275.3L1363 1278.4L1365 1281.5L1367 1284.5L1369 1287.4L1371 1290.3L1373 1293.1L1375 1295.8L1377 1298.5L1379 1301.1L1381 1303.6L1383 1306L1385 1308.4L1387 1310.7L1389 1313.1L1391 1315.6L1393 1318.2L1395 1320.8L1397 1323.6L1399 1326.4L1401 1329.2L1403 1332.2L1405 1335.2L1407 1338.3L1409 1341.5L1411 1344.8L1413 1348.1L1415 1351.3L1417 1354.4L1419 1357.4L1421 1360.3L1423 1363.1L1425 1365.9L1427 1368.6L1429 1371.2L1431 1373.8L1433 1376.4L1435 1378.9L1437 1381.3L1439 1383.7L1441 1386L1443 1388.2L1445 1390.4L1447 1392.6L1449 1394.7L1451 1396.7L1453 1398.5L1455 1400.2L1457 1401.7L1459 1403.1L1461 1404.4L1463 1405.6L1465 1406.7L1467 1407.7L1469 1408.7L1471 1409.7L1473 1410.6L1475 1411.5L1477 1412.3L1479 1412.9L1481 1413.5L1483 1413.9L1485 1414.3L1487 1414.7L1489 1415L1491 1415.4L1493 1415.7L1495 1416L1497 1416.2L1499 1416.4L1501 1416.6L1503 1416.7L1505 1416.8L1507 1416.8L1509 1416.8L1511 1416.8L1513 1416.8L1515 1416.8L1517 1416.8L1519 1416.8L1521 1416.8L1523 1416.8L1525 1416.8L1527 1416.8L1529 1416.8L1531 1416.8L1533 1416.8L1535 1416.8L1537 1416.8L1539 1416.8L1541 1416.8L1543 1416.8L1544 1416.8" fill="none" stroke="#0a0a0a" stroke-width="2.4" stroke-linejoin="round" stroke-linecap="round"/>
<path d="M911.5 1362.5C912.4 1366.3 914.3 1380.7 916.2 1381.6C918.1 1382.5 919 1366.1 920.9 1367C922.8 1367.9 923.7 1387 925.6 1386C927.5 1385 928.4 1362.4 930.3 1362C932.2 1361.6 933.1 1382.8 935 1384.2C936.9 1385.6 937.8 1369.8 939.7 1369C941.6 1368.2 942.5 1380.2 944.4 1380.4C946.3 1380.6 947.2 1365.7 949.1 1370C951 1374.3 951.9 1397 953.8 1402C955.7 1407 956.6 1405.6 958.5 1394.9C960.4 1384.2 961.3 1351.9 963.2 1348.5C965.1 1345.1 966 1375.8 967.9 1377.8C969.8 1379.8 970.7 1353.9 972.6 1358.7C974.5 1363.5 975.4 1401 977.3 1402C979.2 1403 980.1 1371.5 982 1363.8C983.9 1356.1 984.8 1358.8 986.7 1363.6C988.6 1368.4 989.5 1389.1 991.4 1388C993.3 1386.9 994.2 1373.3 996.1 1358.1C998 1342.8 998.9 1309.2 1000.8 1311.6C1002.7 1314 1003.6 1355.4 1005.5 1370.2C1007.4 1385 1008.3 1390.7 1010.2 1385.4C1012.1 1380.1 1013 1350.5 1014.9 1343.8C1016.8 1337 1017.7 1350.6 1019.6 1351.6C1021.5 1352.7 1022.4 1352.7 1024.3 1349C1026.2 1345.3 1027.1 1332.7 1029 1333.3C1030.9 1334 1031.8 1353.2 1033.7 1352.4C1035.6 1351.6 1036.5 1329.8 1038.4 1329.3C1040.3 1328.8 1041.2 1347.7 1043.1 1350C1045 1352.3 1045.9 1338.9 1047.8 1340.8C1049.7 1342.7 1050.6 1352.1 1052.5 1359.5C1054.4 1366.9 1055.3 1380.1 1057.2 1377.8C1059.1 1375.5 1060 1348.6 1061.9 1347.8C1063.8 1347 1064.7 1377.7 1066.6 1373.9C1068.5 1370.1 1069.4 1332.3 1071.3 1328.8C1073.2 1325.3 1074.1 1361.8 1076 1356.4C1077.9 1350.9 1078.8 1306.9 1080.7 1301.4C1082.6 1295.9 1083.5 1322.3 1085.4 1328.7C1087.3 1335.1 1088.2 1336.7 1090.1 1333.3C1092 1329.9 1092.9 1320.9 1094.8 1311.9C1096.7 1302.8 1097.6 1292 1099.5 1288.2C1101.4 1284.3 1102.3 1291 1104.2 1292.7C1106.1 1294.4 1107 1292.4 1108.9 1296.7C1110.8 1301 1111.7 1321.9 1113.6 1314.2C1115.5 1306.5 1116.4 1270.9 1118.3 1258.2C1120.2 1245.5 1121.1 1253.9 1123 1250.9C1124.9 1247.9 1125.8 1246.7 1127.7 1243.2C1129.6 1239.7 1130.5 1244.7 1132.4 1233.4C1134.3 1222.1 1135.2 1190.1 1137.1 1186.8C1139 1183.5 1139.9 1218.4 1141.8 1217.1C1143.7 1215.8 1144.6 1187.5 1146.5 1180.2C1148.4 1172.9 1149.3 1181.2 1151.2 1180.6C1153.1 1179.9 1154 1176.2 1155.9 1177C1157.8 1177.7 1158.7 1185.3 1160.6 1184.3C1162.5 1183.2 1163.4 1179.8 1165.3 1171.6C1167.2 1163.5 1168.1 1149.4 1170 1143.5C1171.9 1137.7 1172.8 1144.3 1174.7 1142.3C1176.6 1140.2 1177.5 1135.2 1179.4 1133.4C1181.3 1131.6 1182.2 1136.8 1184.1 1133.1C1186 1129.4 1186.9 1123.6 1188.8 1115C1190.7 1106.4 1191.6 1091.6 1193.5 1090.1C1195.4 1088.6 1196.3 1094.9 1198.2 1107.4C1200.1 1119.8 1201 1150.7 1202.9 1152.5C1204.8 1154.3 1205.7 1126.1 1207.6 1116.1C1209.5 1106.1 1210.4 1106.6 1212.3 1102.4C1214.2 1098.3 1215.1 1090.5 1217 1095.2C1218.9 1099.9 1219.8 1116.8 1221.7 1126C1223.6 1135.2 1224.5 1140.4 1226.4 1141.3C1228.3 1142.2 1229.2 1140.6 1231.1 1130.4C1233 1120.1 1233.9 1091.4 1235.8 1090.1C1237.7 1088.8 1238.6 1122.6 1240.5 1124.1C1242.4 1125.6 1243.3 1095.6 1245.2 1097.6C1247.1 1099.5 1248 1119.7 1249.9 1133.9C1251.8 1148.2 1252.7 1169.5 1254.6 1169C1256.5 1168.5 1257.4 1144.2 1259.3 1131.5C1261.2 1118.7 1262.1 1108.2 1264 1105.1C1265.9 1102.1 1266.8 1112.3 1268.7 1116C1270.6 1119.8 1271.5 1125.6 1273.4 1124C1275.3 1122.4 1276.2 1108.7 1278.1 1107.9C1280 1107.1 1280.9 1108.3 1282.8 1120C1284.7 1131.7 1285.6 1164.7 1287.5 1166.5C1289.4 1168.3 1290.3 1135.4 1292.2 1129.1C1294.1 1122.8 1295 1135 1296.9 1135C1298.8 1135.1 1299.7 1122.8 1301.6 1129.3C1303.5 1135.8 1304.4 1165.7 1306.3 1167.6C1308.2 1169.5 1309.1 1137.5 1311 1138.8C1312.9 1140.2 1313.8 1161.4 1315.7 1174.4C1317.6 1187.5 1318.5 1197.2 1320.4 1204.1C1322.3 1211.1 1323.2 1207.8 1325.1 1209.3C1327 1210.9 1327.9 1207.1 1329.8 1211.9C1331.7 1216.8 1332.6 1231.9 1334.5 1233.7C1336.4 1235.4 1337.3 1215.7 1339.2 1220.7C1341.1 1225.6 1342 1253.2 1343.9 1258.5C1345.8 1263.8 1346.7 1253.6 1348.6 1247.2C1350.5 1240.8 1351.4 1222.7 1353.3 1226.4C1355.2 1230.1 1356.1 1258.6 1358 1265.9C1359.9 1273.2 1360.8 1262.4 1362.7 1263C1364.6 1263.5 1365.5 1257.3 1367.4 1268.7C1369.3 1280.1 1370.2 1317.6 1372.1 1319.8C1374 1322 1374.9 1282.5 1376.8 1279.8C1378.7 1277 1379.6 1302.7 1381.5 1306.1C1383.4 1309.6 1384.3 1298.6 1386.2 1297.2C1388.1 1295.7 1389 1294.5 1390.9 1298.9C1392.8 1303.3 1393.7 1322.8 1395.6 1319.2C1397.5 1315.6 1398.4 1276.5 1400.3 1281C1402.2 1285.5 1403.1 1330.4 1405 1341.9C1406.9 1353.4 1407.8 1330.5 1409.7 1338.4C1411.6 1346.3 1412.5 1378.3 1414.4 1381.6C1416.3 1384.9 1417.2 1361.5 1419.1 1355C1421 1348.6 1421.9 1342.9 1423.8 1349.4C1425.7 1355.8 1426.6 1383.2 1428.5 1387.4C1430.4 1391.5 1431.3 1375.6 1433.2 1370.1C1435.1 1364.6 1436 1356.1 1437.9 1360C1439.8 1363.9 1440.7 1377.9 1442.6 1389.8C1444.5 1401.6 1445.4 1424 1447.3 1419.2C1449.2 1414.5 1450.1 1370.3 1452 1366C1453.9 1361.8 1454.8 1383.7 1456.7 1398C1458.6 1412.3 1459.5 1435.8 1461.4 1437.6C1463.3 1439.4 1464.2 1411 1466.1 1407.2C1468 1403.5 1468.9 1416.4 1470.8 1418.9C1472.7 1421.3 1473.6 1420.9 1475.5 1419.4C1477.4 1417.9 1478.3 1412.5 1480.2 1411.3C1482.1 1410 1483 1411.4 1484.9 1413.2C1486.8 1415.1 1487.7 1418.7 1489.6 1420.5C1491.5 1422.2 1492.4 1423.5 1494.3 1422.2C1496.2 1421 1497.1 1415.5 1499 1414.2C1500.9 1412.9 1501.8 1415.2 1503.7 1415.8C1505.6 1416.3 1506.5 1412.5 1508.4 1416.9C1510.3 1421.2 1511.2 1437.1 1513.1 1437.6C1515 1438.1 1515.9 1423.9 1517.8 1419.1C1519.7 1414.4 1520.6 1421.1 1522.5 1413.8C1524.4 1406.6 1525.3 1383.1 1527.2 1382.9C1529.1 1382.7 1530 1406.5 1531.9 1412.9C1533.8 1419.4 1534.7 1419 1536.6 1415C1538.5 1411 1540.4 1397.5 1541.3 1393.1" fill="none" stroke="#0a0a0a" stroke-width="2.5" stroke-linejoin="round" stroke-linecap="round"/>
<path d="M952.2 1400.8L954.2 1399.7L956.2 1398.6L958.2 1397.4L960.2 1396.1L962.2 1394.8L964.2 1393.4L966.2 1391.9L968.2 1390.4L970.2 1388.8L972.2 1387.1L974.2 1385.5L976.2 1383.7L978.2 1382L980.2 1380.2L982.2 1378.5L984.2 1376.7L986.2 1374.9L988.2 1373.2L990.2 1371.4L992.2 1369.8L994.2 1368.1L996.2 1366.6L998.2 1365.1L1000.2 1363.8L1002.2 1362.5L1004.2 1361.3L1006.2 1360.3L1008.2 1359.4L1010.2 1358.7L1012.2 1358.1L1014.2 1357.7L1016.2 1357.4L1018.2 1357.3L1020.2 1357.4L1022.2 1357.6L1024.2 1358L1026.2 1358.6L1028.2 1359.3L1030.2 1360.2L1032.2 1361.2L1034.2 1362.3L1036.2 1363.6L1038.2 1365L1040.2 1366.4L1042.2 1368L1044.2 1369.6L1046.2 1371.3L1048.2 1373.1L1050.2 1374.9L1052.2 1376.7L1054.2 1378.5L1056.2 1380.4L1058.2 1382.2L1060.2 1384.1L1062.2 1385.9L1064.2 1387.6L1066.2 1389.3L1068.2 1391L1070.2 1392.6L1072.2 1394.2L1074.2 1395.7L1076.2 1397.2L1078.2 1398.5L1080.2 1399.8L1082.2 1401.1L1084.2 1402.2L1086.2 1403.3L1088.2 1404.3L1090.2 1405.3L1092.2 1406.2L1094.2 1407L1096.2 1407.7L1098.2 1408.4L1100.2 1409.1L1102.2 1409.7L1104.2 1410.2L1106.2 1410.7L1108.2 1411.1L1110.2 1411.5L1112.2 1411.9L1114.2 1412.2L1116.2 1412.5L1118.2 1412.8L1120.2 1413L1122.2 1413.2L1124.2 1413.4L1126.2 1413.6L1128.2 1413.8L1130.2 1413.9L1132.2 1414L1134.2 1414.1L1136.2 1414.2L1138.2 1414.3L1140.2 1414.4L1142.2 1414.5L1144.2 1414.6L1146.2 1414.6L1148.2 1414.7" fill="none" stroke="#f6a81c" stroke-width="2.4" stroke-linejoin="round" stroke-linecap="round"/>
<path d="M952.2 1411.6L954.2 1411.6L956.2 1411.6L958.2 1411.7L960.2 1411.7L962.2 1411.7L964.2 1411.7L966.2 1411.7L968.2 1411.7L970.2 1411.8L972.2 1411.8L974.2 1411.8L976.2 1411.8L978.2 1411.8L980.2 1411.8L982.2 1411.8L984.2 1411.8L986.2 1411.8L988.2 1411.7L990.2 1411.7L992.2 1411.7L994.2 1411.7L996.2 1411.6L998.2 1411.6L1000.2 1411.5L1002.2 1411.4L1004.2 1411.3L1006.2 1411.2L1008.2 1411.1L1010.2 1410.9L1012.2 1410.8L1014.2 1410.6L1016.2 1410.3L1018.2 1410.1L1020.2 1409.8L1022.2 1409.5L1024.2 1409.1L1026.2 1408.7L1028.2 1408.2L1030.2 1407.7L1032.2 1407.1L1034.2 1406.4L1036.2 1405.7L1038.2 1404.9L1040.2 1404L1042.2 1403L1044.2 1401.9L1046.2 1400.7L1048.2 1399.4L1050.2 1398L1052.2 1396.5L1054.2 1394.8L1056.2 1393L1058.2 1391.1L1060.2 1389L1062.2 1386.8L1064.2 1384.5L1066.2 1381.9L1068.2 1379.3L1070.2 1376.4L1072.2 1373.4L1074.2 1370.3L1076.2 1367L1078.2 1363.5L1080.2 1359.9L1082.2 1356.2L1084.2 1352.3L1086.2 1348.3L1088.2 1344.2L1090.2 1339.9L1092.2 1335.6L1094.2 1331.2L1096.2 1326.8L1098.2 1322.3L1100.2 1317.7L1102.2 1313.2L1104.2 1308.7L1106.2 1304.2L1108.2 1299.8L1110.2 1295.4L1112.2 1291.2L1114.2 1287.1L1116.2 1283.2L1118.2 1279.4L1120.2 1275.9L1122.2 1272.5L1124.2 1269.4L1126.2 1266.6L1128.2 1264.1L1130.2 1261.9L1132.2 1260L1134.2 1258.4L1136.2 1257.2L1138.2 1256.4L1140.2 1255.9L1142.2 1255.8L1144.2 1256L1146.2 1256.7L1148.2 1257.7L1150.2 1259L1152.2 1260.7L1154.2 1262.8L1156.2 1265.1L1158.2 1267.8L1160.2 1270.7L1162.2 1273.9L1164.2 1277.4L1166.2 1281.1L1168.2 1284.9L1170.2 1289L1172.2 1293.2L1174.2 1297.5L1176.2 1301.9L1178.2 1306.4L1180.2 1310.9L1182.2 1315.5L1184.2 1320.1L1186.2 1324.6L1188.2 1329.2L1190.2 1333.7L1192.2 1338.1L1194.2 1342.4L1196.2 1346.7L1198.2 1350.8L1200.2 1354.8L1202.2 1358.7L1204.2 1362.5L1206.2 1366.1L1208.2 1369.6L1210.2 1372.9L1212.2 1376L1214.2 1379L1216.2 1381.9L1218.2 1384.5L1220.2 1387.1L1222.2 1389.4L1224.2 1391.6L1226.2 1393.7L1228.2 1395.7L1230.2 1397.5L1232.2 1399.1L1234.2 1400.7L1236.2 1402.1L1238.2 1403.4L1240.2 1404.6L1242.2 1405.7L1244.2 1406.7L1246.2 1407.6L1248.2 1408.4L1250.2 1409.2L1252.2 1409.9L1254.2 1410.5L1256.2 1411L1258.2 1411.5L1260.2 1412L1262.2 1412.4L1264.2 1412.8L1266.2 1413.1L1268.2 1413.4L1270.2 1413.7L1272.2 1413.9L1274.2 1414.1L1276.2 1414.3L1278.2 1414.5L1280.2 1414.6L1282.2 1414.7L1284.2 1414.9L1286.2 1415L1288.2 1415.1L1290.2 1415.2L1292.2 1415.2L1294.2 1415.3L1296.2 1415.4L1298.2 1415.4L1300.2 1415.5L1302.2 1415.5L1304.2 1415.6L1306.2 1415.6L1308.2 1415.7L1310.2 1415.7L1312.2 1415.8L1314.2 1415.8L1316.2 1415.8L1318.2 1415.8L1320.2 1415.9L1322.2 1415.9L1324.2 1415.9L1326.2 1416L1328.2 1416L1330.2 1416L1332.2 1416L1334.2 1416L1336.2 1416.1L1338.2 1416.1L1340.2 1416.1L1342.2 1416.1L1344.2 1416.1L1346.2 1416.2L1348.2 1416.2L1350.2 1416.2L1352.2 1416.2L1354.2 1416.2L1356.2 1416.2L1358.2 1416.3L1360.2 1416.3L1362.2 1416.3" fill="none" stroke="#6f35a0" stroke-width="2.4" stroke-linejoin="round" stroke-linecap="round"/>
<path d="M1016.7 1412.8L1018.7 1412.9L1020.7 1412.9L1022.7 1412.9L1024.7 1412.9L1026.7 1412.9L1028.7 1413L1030.7 1413L1032.7 1413L1034.7 1413L1036.7 1413L1038.7 1413.1L1040.7 1413.1L1042.7 1413.1L1044.7 1413.1L1046.7 1413.1L1048.7 1413.1L1050.7 1413.1L1052.7 1413.2L1054.7 1413.2L1056.7 1413.2L1058.7 1413.2L1060.7 1413.2L1062.7 1413.2L1064.7 1413.2L1066.7 1413.2L1068.7 1413.2L1070.7 1413.2L1072.7 1413.2L1074.7 1413.2L1076.7 1413.2L1078.7 1413.2L1080.7 1413.1L1082.7 1413.1L1084.7 1413.1L1086.7 1413L1088.7 1413L1090.7 1412.9L1092.7 1412.8L1094.7 1412.7L1096.7 1412.6L1098.7 1412.4L1100.7 1412.2L1102.7 1412L1104.7 1411.7L1106.7 1411.4L1108.7 1411.1L1110.7 1410.6L1112.7 1410.1L1114.7 1409.5L1116.7 1408.8L1118.7 1408L1120.7 1407.1L1122.7 1406L1124.7 1404.8L1126.7 1403.4L1128.7 1401.9L1130.7 1400.1L1132.7 1398.1L1134.7 1395.9L1136.7 1393.4L1138.7 1390.7L1140.7 1387.7L1142.7 1384.4L1144.7 1380.7L1146.7 1376.8L1148.7 1372.5L1150.7 1367.9L1152.7 1363L1154.7 1357.7L1156.7 1352.1L1158.7 1346.2L1160.7 1340.1L1162.7 1333.6L1164.7 1326.9L1166.7 1320L1168.7 1312.9L1170.7 1305.7L1172.7 1298.5L1174.7 1291.1L1176.7 1283.9L1178.7 1276.7L1180.7 1269.6L1182.7 1262.8L1184.7 1256.2L1186.7 1250L1188.7 1244.2L1190.7 1238.9L1192.7 1234.1L1194.7 1229.9L1196.7 1226.4L1198.7 1223.5L1200.7 1221.4L1202.7 1220L1204.7 1219.4L1206.7 1219.6L1208.7 1220.6L1210.7 1222.3L1212.7 1224.7L1214.7 1227.9L1216.7 1231.8L1218.7 1236.2L1220.7 1241.3L1222.7 1246.8L1224.7 1252.8L1226.7 1259.2L1228.7 1265.9L1230.7 1272.9L1232.7 1280L1234.7 1287.3L1236.7 1294.7L1238.7 1302L1240.7 1309.3L1242.7 1316.5L1244.7 1323.5L1246.7 1330.4L1248.7 1337L1250.7 1343.4L1252.7 1349.5L1254.7 1355.3L1256.7 1360.8L1258.7 1366L1260.7 1370.8L1262.7 1375.3L1264.7 1379.5L1266.7 1383.4L1268.7 1386.9L1270.7 1390.2L1272.7 1393.1L1274.7 1395.8L1276.7 1398.2L1278.7 1400.3L1280.7 1402.3L1282.7 1404L1284.7 1405.5L1286.7 1406.9L1288.7 1408.1L1290.7 1409.1L1292.7 1410L1294.7 1410.8L1296.7 1411.5L1298.7 1412.1L1300.7 1412.6L1302.7 1413.1L1304.7 1413.5L1306.7 1413.8L1308.7 1414.1L1310.7 1414.3L1312.7 1414.5L1314.7 1414.7L1316.7 1414.9L1318.7 1415L1320.7 1415.1L1322.7 1415.2L1324.7 1415.3L1326.7 1415.4L1328.7 1415.5L1330.7 1415.6L1332.7 1415.6L1334.7 1415.7L1336.7 1415.7L1338.7 1415.8L1340.7 1415.8L1342.7 1415.8L1344.7 1415.9L1346.7 1415.9L1348.7 1415.9L1350.7 1416L1352.7 1416L1354.7 1416L1356.7 1416L1358.7 1416.1L1360.7 1416.1L1362.7 1416.1L1364.7 1416.1L1366.7 1416.1L1368.7 1416.2L1370.7 1416.2L1372.7 1416.2L1374.7 1416.2L1376.7 1416.2L1378.7 1416.2L1380.7 1416.3L1382.7 1416.3L1384.7 1416.3L1386.7 1416.3L1388.7 1416.3L1390.7 1416.3L1392.7 1416.3L1394.7 1416.3" fill="none" stroke="#2f76c9" stroke-width="2.4" stroke-linejoin="round" stroke-linecap="round"/>
<path d="M1008 1412.5L1010 1412.6L1012 1412.6L1014 1412.6L1016 1412.6L1018 1412.6L1020 1412.7L1022 1412.7L1024 1412.7L1026 1412.7L1028 1412.8L1030 1412.8L1032 1412.8L1034 1412.8L1036 1412.8L1038 1412.9L1040 1412.9L1042 1412.9L1044 1412.9L1046 1412.9L1048 1412.9L1050 1413L1052 1413L1054 1413L1056 1413L1058 1413L1060 1413L1062 1413L1064 1413.1L1066 1413.1L1068 1413.1L1070 1413.1L1072 1413.1L1074 1413.1L1076 1413.1L1078 1413.1L1080 1413.1L1082 1413.1L1084 1413.1L1086 1413.1L1088 1413.1L1090 1413.1L1092 1413.1L1094 1413.1L1096 1413.1L1098 1413.1L1100 1413.1L1102 1413.1L1104 1413.1L1106 1413.1L1108 1413L1110 1413L1112 1413L1114 1412.9L1116 1412.9L1118 1412.8L1120 1412.8L1122 1412.7L1124 1412.6L1126 1412.5L1128 1412.4L1130 1412.2L1132 1412.1L1134 1411.9L1136 1411.7L1138 1411.5L1140 1411.3L1142 1411L1144 1410.7L1146 1410.3L1148 1409.9L1150 1409.5L1152 1409L1154 1408.5L1156 1407.9L1158 1407.2L1160 1406.5L1162 1405.7L1164 1404.8L1166 1403.8L1168 1402.7L1170 1401.5L1172 1400.2L1174 1398.8L1176 1397.2L1178 1395.6L1180 1393.7L1182 1391.8L1184 1389.6L1186 1387.3L1188 1384.9L1190 1382.2L1192 1379.4L1194 1376.3L1196 1373.1L1198 1369.7L1200 1366L1202 1362.1L1204 1358.1L1206 1353.8L1208 1349.2L1210 1344.5L1212 1339.5L1214 1334.3L1216 1328.9L1218 1323.3L1220 1317.5L1222 1311.5L1224 1305.3L1226 1298.9L1228 1292.4L1230 1285.8L1232 1279L1234 1272.1L1236 1265.1L1238 1258.1L1240 1251L1242 1243.9L1244 1236.8L1246 1229.8L1248 1222.8L1250 1215.9L1252 1209.1L1254 1202.5L1256 1196.1L1258 1189.8L1260 1183.9L1262 1178.2L1264 1172.8L1266 1167.7L1268 1163L1270 1158.7L1272 1154.8L1274 1151.3L1276 1148.3L1278 1145.8L1280 1143.7L1282 1142.2L1284 1141.2L1286 1140.6L1288 1140.7L1290 1141.2L1292 1142.2L1294 1143.8L1296 1145.9L1298 1148.4L1300 1151.5L1302 1155L1304 1158.9L1306 1163.2L1308 1168L1310 1173L1312 1178.5L1314 1184.2L1316 1190.2L1318 1196.4L1320 1202.9L1322 1209.5L1324 1216.3L1326 1223.2L1328 1230.3L1330 1237.3L1332 1244.4L1334 1251.6L1336 1258.7L1338 1265.7L1340 1272.7L1342 1279.6L1344 1286.4L1346 1293.1L1348 1299.7L1350 1306L1352 1312.2L1354 1318.3L1356 1324.1L1358 1329.7L1360 1335.2L1362 1340.4L1364 1345.4L1366 1350.2L1368 1354.7L1370 1359L1372 1363.1L1374 1367L1376 1370.7L1378 1374.2L1380 1377.4L1382 1380.5L1384 1383.4L1386 1386L1388 1388.5L1390 1390.9L1392 1393L1394 1395L1396 1396.8L1398 1398.6L1400 1400.1L1402 1401.6L1404 1402.9L1406 1404.1L1408 1405.2L1410 1406.2L1412 1407.1L1414 1408L1416 1408.7L1418 1409.4L1420 1410.1L1422 1410.6L1424 1411.1L1426 1411.6L1428 1412L1430 1412.4L1432 1412.7L1434 1413L1436 1413.3L1438 1413.5L1440 1413.8L1442 1414L1444 1414.1L1446 1414.3L1448 1414.4L1450 1414.6L1452 1414.7L1454 1414.8L1456 1414.9L1458 1415L1460 1415L1462 1415.1L1464 1415.2L1466 1415.2L1468 1415.3L1470 1415.3L1472 1415.4L1474 1415.4L1476 1415.5L1478 1415.5L1480 1415.5L1482 1415.6L1484 1415.6L1486 1415.6L1488 1415.6L1490 1415.7L1492 1415.7L1494 1415.7L1496 1415.7L1498 1415.7L1500 1415.8L1502 1415.8L1504 1415.8L1506 1415.8L1508 1415.8L1510 1415.9L1512 1415.9L1514 1415.9L1516 1415.9L1518 1415.9L1520 1415.9L1522 1415.9L1524 1416L1526 1416L1528 1416L1530 1416L1532 1416L1534 1416L1536 1416L1538 1416L1540 1416.1L1542 1416.1L1544 1416.1" fill="none" stroke="#1fa54e" stroke-width="2.4" stroke-linejoin="round" stroke-linecap="round"/>
<path d="M1257 1415.7L1259 1415.7L1261 1415.7L1263 1415.7L1265 1415.6L1267 1415.6L1269 1415.6L1271 1415.5L1273 1415.5L1275 1415.4L1277 1415.3L1279 1415.2L1281 1415.1L1283 1415L1285 1414.8L1287 1414.6L1289 1414.4L1291 1414.1L1293 1413.9L1295 1413.5L1297 1413.2L1299 1412.8L1301 1412.3L1303 1411.8L1305 1411.2L1307 1410.5L1309 1409.8L1311 1409L1313 1408.1L1315 1407.1L1317 1406L1319 1404.8L1321 1403.5L1323 1402.2L1325 1400.7L1327 1399.1L1329 1397.4L1331 1395.5L1333 1393.6L1335 1391.6L1337 1389.5L1339 1387.3L1341 1385L1343 1382.6L1345 1380.2L1347 1377.7L1349 1375.1L1351 1372.6L1353 1370L1355 1367.5L1357 1364.9L1359 1362.4L1361 1360L1363 1357.7L1365 1355.5L1367 1353.3L1369 1351.4L1371 1349.6L1373 1347.9L1375 1346.5L1377 1345.3L1379 1344.3L1381 1343.6L1383 1343.1L1385 1342.8L1387 1342.8L1389 1343.1L1391 1343.6L1393 1344.3L1395 1345.3L1397 1346.5L1399 1348L1401 1349.6L1403 1351.4L1405 1353.4L1407 1355.5L1409 1357.7L1411 1360.1L1413 1362.5L1415 1365L1417 1367.5L1419 1370.1L1421 1372.7L1423 1375.2L1425 1377.8L1427 1380.3L1429 1382.7L1431 1385.1L1433 1387.4L1435 1389.6L1437 1391.8L1439 1393.8L1441 1395.7L1443 1397.5L1445 1399.3L1447 1400.9L1449 1402.4L1451 1403.8L1453 1405.1L1455 1406.2L1457 1407.3L1459 1408.3L1461 1409.2L1463 1410.1L1465 1410.8L1467 1411.5L1469 1412.1L1471 1412.6L1473 1413.1L1475 1413.5L1477 1413.9L1479 1414.3L1481 1414.5L1483 1414.8L1485 1415L1487 1415.2L1489 1415.4L1491 1415.5L1493 1415.7L1495 1415.8L1497 1415.9L1499 1416L1501 1416L1503 1416.1L1505 1416.2L1507 1416.2L1509 1416.2L1511 1416.3L1513 1416.3L1515 1416.3" fill="none" stroke="#ee1c2e" stroke-width="2.4" stroke-linejoin="round" stroke-linecap="round"/>
<path d="M952.2 1412.2L955.2 1412.3L958.2 1412.3L961.2 1412.4L964.2 1412.4L967.2 1412.5L970.2 1412.5L973.2 1412.6L976.2 1412.6L979.2 1412.7L982.2 1412.7L985.2 1412.8L988.2 1412.8L991.2 1412.9L994.2 1412.9L997.2 1413L1000.2 1413L1003.2 1413.1L1006.2 1413.1L1009.2 1413.2L1012.2 1413.2L1015.2 1413.3L1018.2 1413.3L1021.2 1413.4L1024.2 1413.4L1027.2 1413.4L1030.2 1413.5L1033.2 1413.5L1036.2 1413.6L1039.2 1413.6L1042.2 1413.7L1045.2 1413.7L1048.2 1413.8L1051.2 1413.8L1054.2 1413.9L1057.2 1413.9L1060.2 1413.9L1063.2 1414L1066.2 1414L1069.2 1414.1L1072.2 1414.1L1075.2 1414.2L1078.2 1414.2L1081.2 1414.2L1084.2 1414.3L1087.2 1414.3L1090.2 1414.4L1093.2 1414.4L1096.2 1414.4L1099.2 1414.5L1102.2 1414.5L1105.2 1414.6L1108.2 1414.6L1111.2 1414.6L1114.2 1414.7L1117.2 1414.7L1120.2 1414.8L1123.2 1414.8L1126.2 1414.9L1129.2 1414.9L1132.2 1414.9L1135.2 1415L1138.2 1415L1141.2 1415L1144.2 1415.1L1147.2 1415.1L1150.2 1415.2L1153.2 1415.2L1156.2 1415.2L1159.2 1415.3L1162.2 1415.3L1165.2 1415.4L1168.2 1415.4L1171.2 1415.4L1174.2 1415.5L1177.2 1415.5L1180.2 1415.5L1183.2 1415.6L1186.2 1415.6L1189.2 1415.6L1192.2 1415.7L1195.2 1415.7L1198.2 1415.7L1201.2 1415.8L1204.2 1415.8L1207.2 1415.8L1210.2 1415.8L1213.2 1415.9L1216.2 1415.9L1219.2 1415.9L1222.2 1415.9L1225.2 1416L1228.2 1416L1231.2 1416L1234.2 1416L1237.2 1416L1240.2 1416.1L1243.2 1416.1L1246.2 1416.1L1249.2 1416.1L1252.2 1416.2L1255.2 1416.2L1258.2 1416.2L1261.2 1416.2L1264.2 1416.2L1267.2 1416.3L1270.2 1416.3L1273.2 1416.3L1276.2 1416.3L1279.2 1416.3L1282.2 1416.4L1285.2 1416.4L1288.2 1416.4L1291.2 1416.4L1294.2 1416.4L1297.2 1416.4L1300.2 1416.5L1303.2 1416.5L1306.2 1416.5L1309.2 1416.5L1312.2 1416.5L1315.2 1416.5L1318.2 1416.6L1321.2 1416.6L1324.2 1416.6L1327.2 1416.6L1330.2 1416.6L1333.2 1416.6L1336.2 1416.6L1339.2 1416.7L1342.2 1416.7L1345.2 1416.7L1348.2 1416.7L1351.2 1416.7L1354.2 1416.7L1357.2 1416.7L1360.2 1416.7L1363.2 1416.7L1366.2 1416.8L1369.2 1416.8L1372.2 1416.8L1375.2 1416.8L1378.2 1416.8L1381.2 1416.8L1384.2 1416.8L1387.2 1416.8L1390.2 1416.8L1393.2 1416.8L1396.2 1416.8L1399.2 1416.8L1402.2 1416.8L1405.2 1416.8L1408.2 1416.8L1411.2 1416.8L1414.2 1416.8L1417.2 1416.8L1420.2 1416.8L1423.2 1416.8L1426.2 1416.8L1429.2 1416.8L1432.2 1416.8L1435.2 1416.8L1438.2 1416.8L1441.2 1416.8L1444.2 1416.8L1447.2 1416.8L1450.2 1416.8L1453.2 1416.8L1456.2 1416.8L1459.2 1416.8L1462.2 1416.8L1465.2 1416.8L1468.2 1416.8L1471.2 1416.8L1474.2 1416.8L1477.2 1416.8L1480.2 1416.8L1483.2 1416.8L1486.2 1416.8L1489.2 1416.8L1492.2 1416.8L1495.2 1416.8L1498.2 1416.8L1501.2 1416.8L1504.2 1416.8L1507.2 1416.8L1510.2 1416.8L1513.2 1416.8L1516.2 1416.8L1519.2 1416.8L1522.2 1416.8L1525.2 1416.8L1528.2 1416.8L1531.2 1416.8L1534.2 1416.8L1537.2 1416.8L1540.2 1416.8L1543.2 1416.8L1544 1416.8" fill="none" stroke="#0a0a0a" stroke-width="2.8" stroke-linejoin="round" stroke-linecap="round"/>
<line x1="835.6" y1="25.3" x2="835.6" y2="380.9" stroke="#333333" stroke-width="1.9"/>
<line x1="1546.5" y1="25.3" x2="1546.5" y2="380.9" stroke="#6a6a6a" stroke-width="1.6"/>
<line x1="834.8" y1="26" x2="1547.3" y2="26" stroke="#707070" stroke-width="1.6"/>
<line x1="834.6" y1="380.9" x2="834.6" y2="735.5" stroke="#2a2a2a" stroke-width="2.0"/>
<line x1="1544.6" y1="380.9" x2="1544.6" y2="735.5" stroke="#626262" stroke-width="1.6"/>
<line x1="833.6" y1="380.9" x2="1547.3" y2="380.9" stroke="#222222" stroke-width="2.3"/>
<line x1="835.4" y1="735.5" x2="835.4" y2="1089.8" stroke="#626262" stroke-width="1.7"/>
<line x1="1545.7" y1="735.5" x2="1545.7" y2="1089.8" stroke="#707070" stroke-width="1.6"/>
<line x1="833.6" y1="735.6" x2="1546.5" y2="735.6" stroke="#121212" stroke-width="2.8"/>
<line x1="834.6" y1="1089.8" x2="834.6" y2="1439.3" stroke="#555555" stroke-width="1.7"/>
<line x1="1545.1" y1="1089.8" x2="1545.1" y2="1439.3" stroke="#707070" stroke-width="1.6"/>
<line x1="833.8" y1="1089.8" x2="1546.5" y2="1089.8" stroke="#606060" stroke-width="1.9"/>
<line x1="833.8" y1="1438.5" x2="1545.9" y2="1438.5" stroke="#4a4a4a" stroke-width="1.7"/>
<line x1="913.5" y1="1438.5" x2="913.5" y2="1445.3" stroke="#626262" stroke-width="1.6"/>
<line x1="1071.4" y1="1438.5" x2="1071.4" y2="1445.3" stroke="#626262" stroke-width="1.6"/>
<line x1="1229.2" y1="1438.5" x2="1229.2" y2="1445.3" stroke="#626262" stroke-width="1.6"/>
<line x1="1387" y1="1438.5" x2="1387" y2="1445.3" stroke="#626262" stroke-width="1.6"/>
<line x1="1544.7" y1="1438.5" x2="1544.7" y2="1445.3" stroke="#626262" stroke-width="1.6"/>
<text x="121.3" y="40.5" font-size="24.0" text-anchor="middle" letter-spacing="0" fill="#262324" stroke="#262324" stroke-width="0.6">a</text>
<text x="121.5" y="67.5" font-size="24.0" text-anchor="middle" letter-spacing="0.47" fill="#262324" stroke="#262324" stroke-width="0.6">C1s Ac_Ar</text>
<text x="133.9" y="405" font-size="24.0" text-anchor="middle" letter-spacing="0" fill="#262324" stroke="#262324" stroke-width="0.6">b</text>
<text x="133.9" y="433.5" font-size="24.0" text-anchor="middle" letter-spacing="-0.09" fill="#262324" stroke="#262324" stroke-width="0.6">C1s CD_3 h</text>
<text x="149.5" y="775" font-size="24.0" text-anchor="middle" letter-spacing="0" fill="#262324" stroke="#262324" stroke-width="0.6">c</text>
<text x="149.4" y="802.5" font-size="24.0" text-anchor="middle" letter-spacing="-0.15" fill="#262324" stroke="#262324" stroke-width="0.6">C1s ST_CD_3 h</text>
<text x="161.7" y="1128.5" font-size="24.0" text-anchor="middle" letter-spacing="0" fill="#262324" stroke="#262324" stroke-width="0.6">d</text>
<text x="161.6" y="1156" font-size="24.0" text-anchor="middle" letter-spacing="-0.15" fill="#262324" stroke="#262324" stroke-width="0.6">C1s CD_MV_1,5 h</text>
<text x="919.9" y="55.6" font-size="24.0" text-anchor="middle" letter-spacing="0" fill="#262324" stroke="#262324" stroke-width="0.6">e</text>
<text x="920.1" y="83.6" font-size="24.0" text-anchor="middle" letter-spacing="0.39" fill="#262324" stroke="#262324" stroke-width="0.6">O1s Ac_Ar</text>
<text x="929.6" y="416.2" font-size="24.0" text-anchor="middle" letter-spacing="0" fill="#262324" stroke="#262324" stroke-width="0.6">f</text>
<text x="929.5" y="444.2" font-size="24.0" text-anchor="middle" letter-spacing="-0.14" fill="#262324" stroke="#262324" stroke-width="0.6">O1s CD_3 h</text>
<text x="951.8" y="768.6" font-size="24.0" text-anchor="middle" letter-spacing="0" fill="#262324" stroke="#262324" stroke-width="0.6">g</text>
<text x="951.7" y="796.7" font-size="24.0" text-anchor="middle" letter-spacing="-0.15" fill="#262324" stroke="#262324" stroke-width="0.6">O1s ST_CD_3 h</text>
<text x="968.3" y="1124.5" font-size="24.0" text-anchor="middle" letter-spacing="0" fill="#262324" stroke="#262324" stroke-width="0.6">h</text>
<text x="968.2" y="1151.7" font-size="24.0" text-anchor="middle" letter-spacing="-0.15" fill="#262324" stroke="#262324" stroke-width="0.6">O1s CD_MV_1,5 h</text>
<text x="28.1" y="689.8" font-size="23.0" text-anchor="middle" letter-spacing="1.1" fill="#262324" stroke="#262324" stroke-width="0.6" transform="rotate(-90 28.1 689.8)">Intensity (a.u.)</text>
<text x="821" y="695.4" font-size="23.0" text-anchor="middle" letter-spacing="1.2" fill="#262324" stroke="#262324" stroke-width="0.6" transform="rotate(-90 821 695.4)">Intensity (a.u.)</text>
<text x="42.2" y="1475" font-size="24.0" text-anchor="middle" letter-spacing="-0.2" fill="#262324" stroke="#262324" stroke-width="0.6">291</text>
<text x="219.5" y="1475" font-size="24.0" text-anchor="middle" letter-spacing="-0.2" fill="#262324" stroke="#262324" stroke-width="0.6">289</text>
<text x="396.3" y="1475" font-size="24.0" text-anchor="middle" letter-spacing="-0.2" fill="#262324" stroke="#262324" stroke-width="0.6">287</text>
<text x="573.3" y="1475" font-size="24.0" text-anchor="middle" letter-spacing="-0.2" fill="#262324" stroke="#262324" stroke-width="0.6">285</text>
<text x="749.4" y="1475" font-size="24.0" text-anchor="middle" letter-spacing="-0.2" fill="#262324" stroke="#262324" stroke-width="0.6">283</text>
<text x="665.8" y="1475" font-size="24.0" text-anchor="middle" letter-spacing="0.38" fill="#262324" stroke="#262324" stroke-width="0.6">B.E. [eV]</text>
<text x="913.8" y="1474.2" font-size="24.0" text-anchor="middle" letter-spacing="-0.2" fill="#262324" stroke="#262324" stroke-width="0.6">536</text>
<text x="1071.9" y="1474.2" font-size="24.0" text-anchor="middle" letter-spacing="-0.2" fill="#262324" stroke="#262324" stroke-width="0.6">534</text>
<text x="1229.6" y="1474.2" font-size="24.0" text-anchor="middle" letter-spacing="-0.2" fill="#262324" stroke="#262324" stroke-width="0.6">532</text>
<text x="1387.4" y="1474.2" font-size="24.0" text-anchor="middle" letter-spacing="-0.2" fill="#262324" stroke="#262324" stroke-width="0.6">530</text>
<text x="1545.1" y="1474.2" font-size="24.0" text-anchor="middle" letter-spacing="-0.2" fill="#262324" stroke="#262324" stroke-width="0.6">528</text>
<text x="1472.7" y="1474.2" font-size="24.0" text-anchor="middle" letter-spacing="0.42" fill="#262324" stroke="#262324" stroke-width="0.6">B.E. [eV]</text>
</g>
</svg>
</body>
</html>
